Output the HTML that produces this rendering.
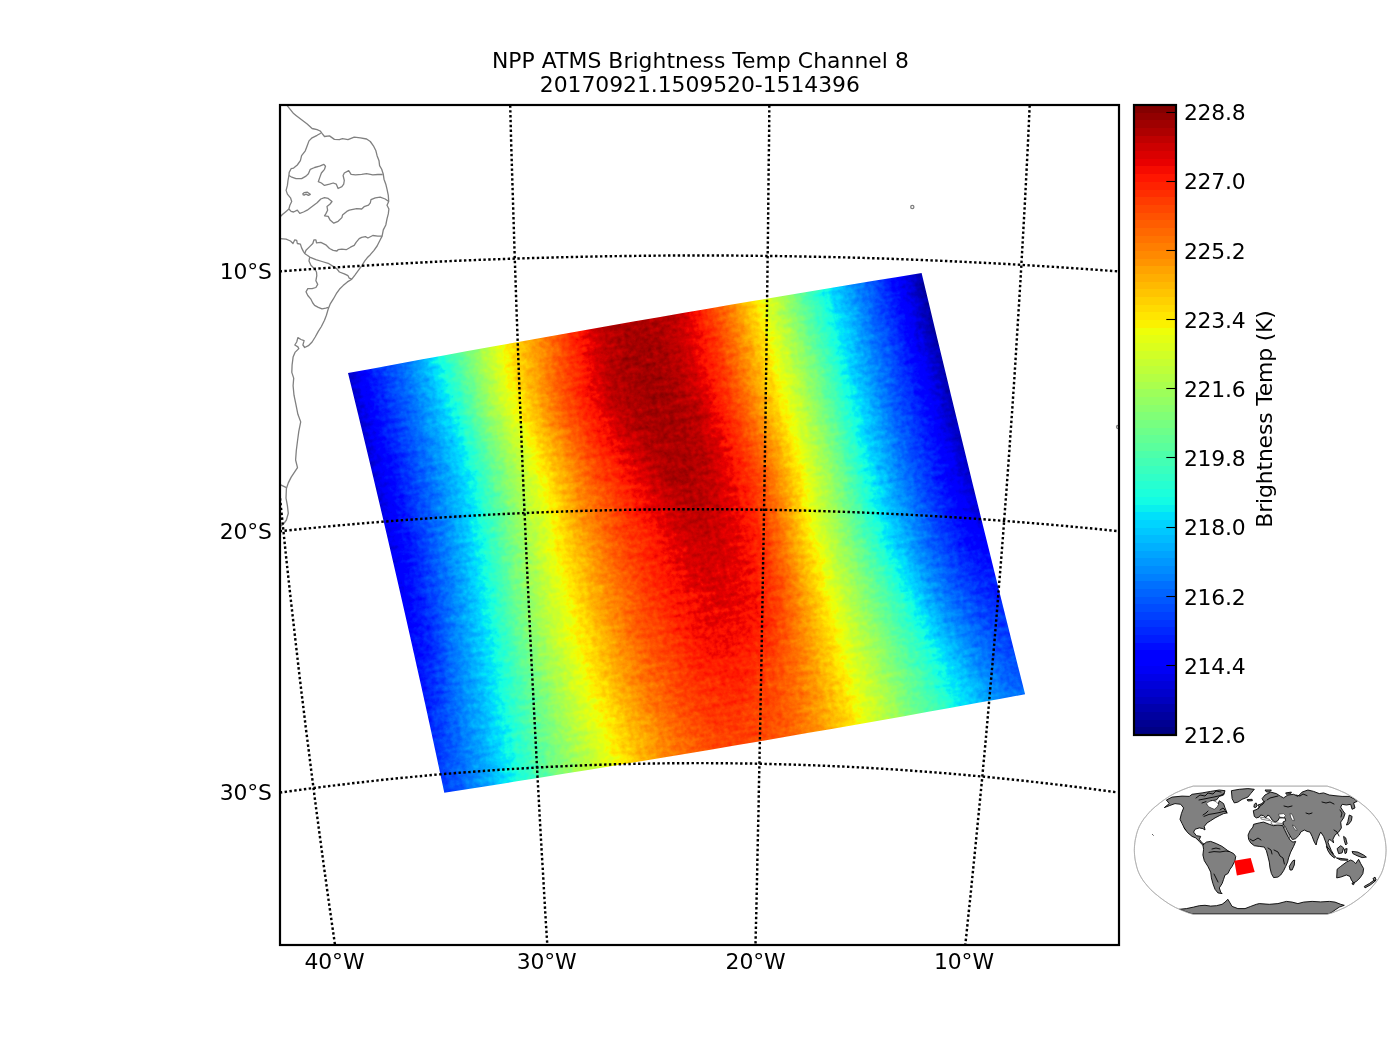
<!DOCTYPE html>
<html lang="en"><head><meta charset="utf-8"><title>NPP ATMS Brightness Temp Channel 8</title>
<style>html,body{margin:0;padding:0;background:#fff;overflow:hidden}svg{display:block}text{font-family:"DejaVu Sans","Liberation Sans",sans-serif;font-size:21.875px;fill:#000}</style></head><body>
<svg width="1400" height="1050" viewBox="0 0 1400 1050">
<defs>
<clipPath id="ax"><rect x="280" y="105" width="839" height="840"/></clipPath>
<clipPath id="sw"><path shape-rendering="crispEdges" d="M348.00,373.10 L371.90,368.66 L395.80,364.24 L419.70,359.84 L443.60,355.47 L467.50,351.12 L491.40,346.80 L515.30,342.50 L539.20,338.22 L563.10,333.97 L587.00,329.74 L610.90,325.53 L634.80,321.35 L658.70,317.19 L682.60,313.06 L706.50,308.94 L730.40,304.86 L754.30,300.79 L778.20,296.75 L802.10,292.73 L826.00,288.74 L849.90,284.77 L873.80,280.82 L897.70,276.90 L921.60,273.00 L925.80,290.55 L930.01,308.11 L934.23,325.66 L938.46,343.22 L942.70,360.77 L946.95,378.32 L951.21,395.88 L955.48,413.43 L959.76,430.99 L964.04,448.54 L968.34,466.10 L972.65,483.65 L976.97,501.20 L981.29,518.76 L985.63,536.31 L989.98,553.87 L994.33,571.42 L998.70,588.97 L1003.08,606.53 L1007.46,624.08 L1011.86,641.64 L1016.26,659.19 L1020.68,676.75 L1025.10,694.30 L1000.90,698.72 L976.70,703.12 L952.50,707.49 L928.30,711.83 L904.10,716.14 L879.90,720.42 L855.70,724.68 L831.50,728.91 L807.30,733.11 L783.10,737.29 L758.90,741.43 L734.70,745.55 L710.50,749.64 L686.30,753.70 L662.10,757.74 L637.90,761.74 L613.70,765.72 L589.50,769.67 L565.30,773.60 L541.10,777.49 L516.90,781.36 L492.70,785.20 L468.50,789.02 L444.30,792.80 L440.57,775.31 L436.82,757.82 L433.05,740.34 L429.25,722.85 L425.43,705.36 L421.58,687.87 L417.70,670.39 L413.80,652.90 L409.88,635.41 L405.92,617.92 L401.95,600.44 L397.95,582.95 L393.93,565.46 L389.88,547.97 L385.80,530.49 L381.70,513.00 L377.57,495.51 L373.43,478.03 L369.25,460.54 L365.05,443.05 L360.83,425.56 L356.57,408.07 L352.30,390.59Z"/></clipPath>
<linearGradient id="cb" x1="0" y1="0" x2="0" y2="1"><stop offset="0.00000" stop-color="#840000"/><stop offset="0.01220" stop-color="#840000"/><stop offset="0.01220" stop-color="#920000"/><stop offset="0.02439" stop-color="#920000"/><stop offset="0.02439" stop-color="#9f0000"/><stop offset="0.03659" stop-color="#9f0000"/><stop offset="0.03659" stop-color="#ad0000"/><stop offset="0.04878" stop-color="#ad0000"/><stop offset="0.04878" stop-color="#bf0000"/><stop offset="0.06098" stop-color="#bf0000"/><stop offset="0.06098" stop-color="#cd0000"/><stop offset="0.07317" stop-color="#cd0000"/><stop offset="0.07317" stop-color="#da0000"/><stop offset="0.08537" stop-color="#da0000"/><stop offset="0.08537" stop-color="#e80000"/><stop offset="0.09756" stop-color="#e80000"/><stop offset="0.09756" stop-color="#f60b00"/><stop offset="0.10976" stop-color="#f60b00"/><stop offset="0.10976" stop-color="#ff1600"/><stop offset="0.12195" stop-color="#ff1600"/><stop offset="0.12195" stop-color="#ff2200"/><stop offset="0.13415" stop-color="#ff2200"/><stop offset="0.13415" stop-color="#ff2d00"/><stop offset="0.14634" stop-color="#ff2d00"/><stop offset="0.14634" stop-color="#ff3b00"/><stop offset="0.15854" stop-color="#ff3b00"/><stop offset="0.15854" stop-color="#ff4700"/><stop offset="0.17073" stop-color="#ff4700"/><stop offset="0.17073" stop-color="#ff5200"/><stop offset="0.18293" stop-color="#ff5200"/><stop offset="0.18293" stop-color="#ff5d00"/><stop offset="0.19512" stop-color="#ff5d00"/><stop offset="0.19512" stop-color="#ff6800"/><stop offset="0.20732" stop-color="#ff6800"/><stop offset="0.20732" stop-color="#ff7300"/><stop offset="0.21951" stop-color="#ff7300"/><stop offset="0.21951" stop-color="#ff7e00"/><stop offset="0.23171" stop-color="#ff7e00"/><stop offset="0.23171" stop-color="#ff8900"/><stop offset="0.24390" stop-color="#ff8900"/><stop offset="0.24390" stop-color="#ff9400"/><stop offset="0.25610" stop-color="#ff9400"/><stop offset="0.25610" stop-color="#ffa300"/><stop offset="0.26829" stop-color="#ffa300"/><stop offset="0.26829" stop-color="#ffae00"/><stop offset="0.28049" stop-color="#ffae00"/><stop offset="0.28049" stop-color="#ffb900"/><stop offset="0.29268" stop-color="#ffb900"/><stop offset="0.29268" stop-color="#ffc400"/><stop offset="0.30488" stop-color="#ffc400"/><stop offset="0.30488" stop-color="#ffd000"/><stop offset="0.31707" stop-color="#ffd000"/><stop offset="0.31707" stop-color="#ffdb00"/><stop offset="0.32927" stop-color="#ffdb00"/><stop offset="0.32927" stop-color="#ffe600"/><stop offset="0.34146" stop-color="#ffe600"/><stop offset="0.34146" stop-color="#fbf100"/><stop offset="0.35366" stop-color="#fbf100"/><stop offset="0.35366" stop-color="#eeff09"/><stop offset="0.36585" stop-color="#eeff09"/><stop offset="0.36585" stop-color="#e4ff13"/><stop offset="0.37805" stop-color="#e4ff13"/><stop offset="0.37805" stop-color="#dbff1c"/><stop offset="0.39024" stop-color="#dbff1c"/><stop offset="0.39024" stop-color="#d1ff26"/><stop offset="0.40244" stop-color="#d1ff26"/><stop offset="0.40244" stop-color="#c7ff30"/><stop offset="0.41463" stop-color="#c7ff30"/><stop offset="0.41463" stop-color="#beff39"/><stop offset="0.42683" stop-color="#beff39"/><stop offset="0.42683" stop-color="#b4ff43"/><stop offset="0.43902" stop-color="#b4ff43"/><stop offset="0.43902" stop-color="#aaff4d"/><stop offset="0.45122" stop-color="#aaff4d"/><stop offset="0.45122" stop-color="#9dff5a"/><stop offset="0.46341" stop-color="#9dff5a"/><stop offset="0.46341" stop-color="#94ff63"/><stop offset="0.47561" stop-color="#94ff63"/><stop offset="0.47561" stop-color="#8aff6d"/><stop offset="0.48780" stop-color="#8aff6d"/><stop offset="0.48780" stop-color="#80ff77"/><stop offset="0.50000" stop-color="#80ff77"/><stop offset="0.50000" stop-color="#77ff80"/><stop offset="0.51220" stop-color="#77ff80"/><stop offset="0.51220" stop-color="#6dff8a"/><stop offset="0.52439" stop-color="#6dff8a"/><stop offset="0.52439" stop-color="#63ff94"/><stop offset="0.53659" stop-color="#63ff94"/><stop offset="0.53659" stop-color="#5aff9d"/><stop offset="0.54878" stop-color="#5aff9d"/><stop offset="0.54878" stop-color="#4dffaa"/><stop offset="0.56098" stop-color="#4dffaa"/><stop offset="0.56098" stop-color="#43ffb4"/><stop offset="0.57317" stop-color="#43ffb4"/><stop offset="0.57317" stop-color="#39ffbe"/><stop offset="0.58537" stop-color="#39ffbe"/><stop offset="0.58537" stop-color="#30ffc7"/><stop offset="0.59756" stop-color="#30ffc7"/><stop offset="0.59756" stop-color="#26ffd1"/><stop offset="0.60976" stop-color="#26ffd1"/><stop offset="0.60976" stop-color="#1cffdb"/><stop offset="0.62195" stop-color="#1cffdb"/><stop offset="0.62195" stop-color="#13fce4"/><stop offset="0.63415" stop-color="#13fce4"/><stop offset="0.63415" stop-color="#09f0ee"/><stop offset="0.64634" stop-color="#09f0ee"/><stop offset="0.64634" stop-color="#00e0fb"/><stop offset="0.65854" stop-color="#00e0fb"/><stop offset="0.65854" stop-color="#00d4ff"/><stop offset="0.67073" stop-color="#00d4ff"/><stop offset="0.67073" stop-color="#00c8ff"/><stop offset="0.68293" stop-color="#00c8ff"/><stop offset="0.68293" stop-color="#00bcff"/><stop offset="0.69512" stop-color="#00bcff"/><stop offset="0.69512" stop-color="#00b0ff"/><stop offset="0.70732" stop-color="#00b0ff"/><stop offset="0.70732" stop-color="#00a4ff"/><stop offset="0.71951" stop-color="#00a4ff"/><stop offset="0.71951" stop-color="#0098ff"/><stop offset="0.73171" stop-color="#0098ff"/><stop offset="0.73171" stop-color="#008cff"/><stop offset="0.74390" stop-color="#008cff"/><stop offset="0.74390" stop-color="#0080ff"/><stop offset="0.75610" stop-color="#0080ff"/><stop offset="0.75610" stop-color="#0070ff"/><stop offset="0.76829" stop-color="#0070ff"/><stop offset="0.76829" stop-color="#0064ff"/><stop offset="0.78049" stop-color="#0064ff"/><stop offset="0.78049" stop-color="#0058ff"/><stop offset="0.79268" stop-color="#0058ff"/><stop offset="0.79268" stop-color="#004cff"/><stop offset="0.80488" stop-color="#004cff"/><stop offset="0.80488" stop-color="#0040ff"/><stop offset="0.81707" stop-color="#0040ff"/><stop offset="0.81707" stop-color="#0034ff"/><stop offset="0.82927" stop-color="#0034ff"/><stop offset="0.82927" stop-color="#0028ff"/><stop offset="0.84146" stop-color="#0028ff"/><stop offset="0.84146" stop-color="#001cff"/><stop offset="0.85366" stop-color="#001cff"/><stop offset="0.85366" stop-color="#000cff"/><stop offset="0.86585" stop-color="#000cff"/><stop offset="0.86585" stop-color="#0000ff"/><stop offset="0.87805" stop-color="#0000ff"/><stop offset="0.87805" stop-color="#0000ff"/><stop offset="0.89024" stop-color="#0000ff"/><stop offset="0.89024" stop-color="#0000f6"/><stop offset="0.90244" stop-color="#0000f6"/><stop offset="0.90244" stop-color="#0000e8"/><stop offset="0.91463" stop-color="#0000e8"/><stop offset="0.91463" stop-color="#0000da"/><stop offset="0.92683" stop-color="#0000da"/><stop offset="0.92683" stop-color="#0000cd"/><stop offset="0.93902" stop-color="#0000cd"/><stop offset="0.93902" stop-color="#0000bf"/><stop offset="0.95122" stop-color="#0000bf"/><stop offset="0.95122" stop-color="#0000ad"/><stop offset="0.96341" stop-color="#0000ad"/><stop offset="0.96341" stop-color="#00009f"/><stop offset="0.97561" stop-color="#00009f"/><stop offset="0.97561" stop-color="#000092"/><stop offset="0.98780" stop-color="#000092"/><stop offset="0.98780" stop-color="#000084"/><stop offset="1.00000" stop-color="#000084"/></linearGradient>
<linearGradient id="g0" gradientUnits="userSpaceOnUse" x1="0" y1="0" x2="1" y2="0" gradientTransform="matrix(573.733 -100.166 102.282 424.200 343.702 355.722)"><stop offset="0" stop-color="#111111"/><stop offset="0.03125" stop-color="#222222"/><stop offset="0.0625" stop-color="#2f2f2f"/><stop offset="0.09375" stop-color="#3b3b3b"/><stop offset="0.125" stop-color="#4a4a4a"/><stop offset="0.1562" stop-color="#5c5c5c"/><stop offset="0.1875" stop-color="#6f6f6f"/><stop offset="0.2188" stop-color="#848484"/><stop offset="0.25" stop-color="#989898"/><stop offset="0.2812" stop-color="#aaaaaa"/><stop offset="0.3125" stop-color="#b8b8b8"/><stop offset="0.3438" stop-color="#c6c6c6"/><stop offset="0.375" stop-color="#d6d6d6"/><stop offset="0.4062" stop-color="#e3e3e3"/><stop offset="0.4375" stop-color="#f0f0f0"/><stop offset="0.4688" stop-color="#f5f5f5"/><stop offset="0.5" stop-color="#f7f7f7"/><stop offset="0.5312" stop-color="#f6f6f6"/><stop offset="0.5625" stop-color="#f1f1f1"/><stop offset="0.5938" stop-color="#e8e8e8"/><stop offset="0.625" stop-color="#dbdbdb"/><stop offset="0.6562" stop-color="#cccccc"/><stop offset="0.6875" stop-color="#bababa"/><stop offset="0.7188" stop-color="#a6a6a6"/><stop offset="0.75" stop-color="#919191"/><stop offset="0.7812" stop-color="#7d7d7d"/><stop offset="0.8125" stop-color="#696969"/><stop offset="0.8438" stop-color="#575757"/><stop offset="0.875" stop-color="#474747"/><stop offset="0.9062" stop-color="#383838"/><stop offset="0.9375" stop-color="#292929"/><stop offset="0.9688" stop-color="#191919"/><stop offset="1" stop-color="#070707"/></linearGradient>
<linearGradient id="g1" gradientUnits="userSpaceOnUse" x1="0" y1="0" x2="1" y2="0" gradientTransform="matrix(573.674 -100.139 102.207 424.200 345.489 362.935)"><stop offset="0" stop-color="#111111"/><stop offset="0.03125" stop-color="#222222"/><stop offset="0.0625" stop-color="#2f2f2f"/><stop offset="0.09375" stop-color="#3b3b3b"/><stop offset="0.125" stop-color="#4a4a4a"/><stop offset="0.1562" stop-color="#5c5c5c"/><stop offset="0.1875" stop-color="#6f6f6f"/><stop offset="0.2188" stop-color="#848484"/><stop offset="0.25" stop-color="#989898"/><stop offset="0.2812" stop-color="#aaaaaa"/><stop offset="0.3125" stop-color="#b8b8b8"/><stop offset="0.3438" stop-color="#c6c6c6"/><stop offset="0.375" stop-color="#d6d6d6"/><stop offset="0.4062" stop-color="#e3e3e3"/><stop offset="0.4375" stop-color="#f0f0f0"/><stop offset="0.4688" stop-color="#f5f5f5"/><stop offset="0.5" stop-color="#f7f7f7"/><stop offset="0.5312" stop-color="#f6f6f6"/><stop offset="0.5625" stop-color="#f1f1f1"/><stop offset="0.5938" stop-color="#e8e8e8"/><stop offset="0.625" stop-color="#dbdbdb"/><stop offset="0.6562" stop-color="#cccccc"/><stop offset="0.6875" stop-color="#bababa"/><stop offset="0.7188" stop-color="#a6a6a6"/><stop offset="0.75" stop-color="#919191"/><stop offset="0.7812" stop-color="#7d7d7d"/><stop offset="0.8125" stop-color="#696969"/><stop offset="0.8438" stop-color="#575757"/><stop offset="0.875" stop-color="#474747"/><stop offset="0.9062" stop-color="#383838"/><stop offset="0.9375" stop-color="#292929"/><stop offset="0.9688" stop-color="#191919"/><stop offset="1" stop-color="#070707"/></linearGradient>
<linearGradient id="g2" gradientUnits="userSpaceOnUse" x1="0" y1="0" x2="1" y2="0" gradientTransform="matrix(573.620 -100.111 102.131 424.200 347.272 370.149)"><stop offset="0" stop-color="#111111"/><stop offset="0.03125" stop-color="#222222"/><stop offset="0.0625" stop-color="#2f2f2f"/><stop offset="0.09375" stop-color="#3b3b3b"/><stop offset="0.125" stop-color="#4a4a4a"/><stop offset="0.1562" stop-color="#5c5c5c"/><stop offset="0.1875" stop-color="#6f6f6f"/><stop offset="0.2188" stop-color="#848484"/><stop offset="0.25" stop-color="#989898"/><stop offset="0.2812" stop-color="#aaaaaa"/><stop offset="0.3125" stop-color="#b8b8b8"/><stop offset="0.3438" stop-color="#c6c6c6"/><stop offset="0.375" stop-color="#d6d6d6"/><stop offset="0.4062" stop-color="#e3e3e3"/><stop offset="0.4375" stop-color="#f0f0f0"/><stop offset="0.4688" stop-color="#f5f5f5"/><stop offset="0.5" stop-color="#f7f7f7"/><stop offset="0.5312" stop-color="#f6f6f6"/><stop offset="0.5625" stop-color="#f1f1f1"/><stop offset="0.5938" stop-color="#e8e8e8"/><stop offset="0.625" stop-color="#dbdbdb"/><stop offset="0.6562" stop-color="#cccccc"/><stop offset="0.6875" stop-color="#bababa"/><stop offset="0.7188" stop-color="#a6a6a6"/><stop offset="0.75" stop-color="#919191"/><stop offset="0.7812" stop-color="#7d7d7d"/><stop offset="0.8125" stop-color="#696969"/><stop offset="0.8438" stop-color="#575757"/><stop offset="0.875" stop-color="#474747"/><stop offset="0.9062" stop-color="#383838"/><stop offset="0.9375" stop-color="#292929"/><stop offset="0.9688" stop-color="#191919"/><stop offset="1" stop-color="#070707"/></linearGradient>
<linearGradient id="g3" gradientUnits="userSpaceOnUse" x1="0" y1="0" x2="1" y2="0" gradientTransform="matrix(573.573 -100.084 102.055 424.200 349.050 377.363)"><stop offset="0" stop-color="#111111"/><stop offset="0.03125" stop-color="#222222"/><stop offset="0.0625" stop-color="#2f2f2f"/><stop offset="0.09375" stop-color="#3b3b3b"/><stop offset="0.125" stop-color="#4a4a4a"/><stop offset="0.1562" stop-color="#5c5c5c"/><stop offset="0.1875" stop-color="#6f6f6f"/><stop offset="0.2188" stop-color="#848484"/><stop offset="0.25" stop-color="#989898"/><stop offset="0.2812" stop-color="#aaaaaa"/><stop offset="0.3125" stop-color="#b8b8b8"/><stop offset="0.3438" stop-color="#c6c6c6"/><stop offset="0.375" stop-color="#d6d6d6"/><stop offset="0.4062" stop-color="#e3e3e3"/><stop offset="0.4375" stop-color="#f0f0f0"/><stop offset="0.4688" stop-color="#f5f5f5"/><stop offset="0.5" stop-color="#f7f7f7"/><stop offset="0.5312" stop-color="#f6f6f6"/><stop offset="0.5625" stop-color="#f1f1f1"/><stop offset="0.5938" stop-color="#e8e8e8"/><stop offset="0.625" stop-color="#dbdbdb"/><stop offset="0.6562" stop-color="#cccccc"/><stop offset="0.6875" stop-color="#bababa"/><stop offset="0.7188" stop-color="#a6a6a6"/><stop offset="0.75" stop-color="#919191"/><stop offset="0.7812" stop-color="#7d7d7d"/><stop offset="0.8125" stop-color="#696969"/><stop offset="0.8438" stop-color="#575757"/><stop offset="0.875" stop-color="#474747"/><stop offset="0.9062" stop-color="#383838"/><stop offset="0.9375" stop-color="#292929"/><stop offset="0.9688" stop-color="#191919"/><stop offset="1" stop-color="#070707"/></linearGradient>
<linearGradient id="g4" gradientUnits="userSpaceOnUse" x1="0" y1="0" x2="1" y2="0" gradientTransform="matrix(573.531 -100.056 101.980 424.200 350.825 384.576)"><stop offset="0" stop-color="#121212"/><stop offset="0.03125" stop-color="#222222"/><stop offset="0.0625" stop-color="#2f2f2f"/><stop offset="0.09375" stop-color="#3b3b3b"/><stop offset="0.125" stop-color="#4a4a4a"/><stop offset="0.1562" stop-color="#5c5c5c"/><stop offset="0.1875" stop-color="#707070"/><stop offset="0.2188" stop-color="#848484"/><stop offset="0.25" stop-color="#999999"/><stop offset="0.2812" stop-color="#ababab"/><stop offset="0.3125" stop-color="#b9b9b9"/><stop offset="0.3438" stop-color="#c7c7c7"/><stop offset="0.375" stop-color="#d7d7d7"/><stop offset="0.4062" stop-color="#e3e3e3"/><stop offset="0.4375" stop-color="#f0f0f0"/><stop offset="0.4688" stop-color="#f5f5f5"/><stop offset="0.5" stop-color="#f7f7f7"/><stop offset="0.5312" stop-color="#f6f6f6"/><stop offset="0.5625" stop-color="#f1f1f1"/><stop offset="0.5938" stop-color="#e8e8e8"/><stop offset="0.625" stop-color="#dbdbdb"/><stop offset="0.6562" stop-color="#cccccc"/><stop offset="0.6875" stop-color="#bababa"/><stop offset="0.7188" stop-color="#a5a5a5"/><stop offset="0.75" stop-color="#919191"/><stop offset="0.7812" stop-color="#7d7d7d"/><stop offset="0.8125" stop-color="#696969"/><stop offset="0.8438" stop-color="#575757"/><stop offset="0.875" stop-color="#474747"/><stop offset="0.9062" stop-color="#383838"/><stop offset="0.9375" stop-color="#292929"/><stop offset="0.9688" stop-color="#191919"/><stop offset="1" stop-color="#070707"/></linearGradient>
<linearGradient id="g5" gradientUnits="userSpaceOnUse" x1="0" y1="0" x2="1" y2="0" gradientTransform="matrix(573.495 -100.029 101.904 424.200 352.595 391.790)"><stop offset="0" stop-color="#121212"/><stop offset="0.03125" stop-color="#222222"/><stop offset="0.0625" stop-color="#2f2f2f"/><stop offset="0.09375" stop-color="#3b3b3b"/><stop offset="0.125" stop-color="#4a4a4a"/><stop offset="0.1562" stop-color="#5c5c5c"/><stop offset="0.1875" stop-color="#707070"/><stop offset="0.2188" stop-color="#858585"/><stop offset="0.25" stop-color="#999999"/><stop offset="0.2812" stop-color="#ababab"/><stop offset="0.3125" stop-color="#b9b9b9"/><stop offset="0.3438" stop-color="#c8c8c8"/><stop offset="0.375" stop-color="#d7d7d7"/><stop offset="0.4062" stop-color="#e4e4e4"/><stop offset="0.4375" stop-color="#f0f0f0"/><stop offset="0.4688" stop-color="#f5f5f5"/><stop offset="0.5" stop-color="#f7f7f7"/><stop offset="0.5312" stop-color="#f6f6f6"/><stop offset="0.5625" stop-color="#f1f1f1"/><stop offset="0.5938" stop-color="#e8e8e8"/><stop offset="0.625" stop-color="#dbdbdb"/><stop offset="0.6562" stop-color="#cccccc"/><stop offset="0.6875" stop-color="#b9b9b9"/><stop offset="0.7188" stop-color="#a5a5a5"/><stop offset="0.75" stop-color="#919191"/><stop offset="0.7812" stop-color="#7d7d7d"/><stop offset="0.8125" stop-color="#6a6a6a"/><stop offset="0.8438" stop-color="#575757"/><stop offset="0.875" stop-color="#474747"/><stop offset="0.9062" stop-color="#383838"/><stop offset="0.9375" stop-color="#292929"/><stop offset="0.9688" stop-color="#191919"/><stop offset="1" stop-color="#070707"/></linearGradient>
<linearGradient id="g6" gradientUnits="userSpaceOnUse" x1="0" y1="0" x2="1" y2="0" gradientTransform="matrix(573.465 -100.001 101.828 424.200 354.360 399.003)"><stop offset="0" stop-color="#121212"/><stop offset="0.03125" stop-color="#222222"/><stop offset="0.0625" stop-color="#2f2f2f"/><stop offset="0.09375" stop-color="#3b3b3b"/><stop offset="0.125" stop-color="#4a4a4a"/><stop offset="0.1562" stop-color="#5c5c5c"/><stop offset="0.1875" stop-color="#707070"/><stop offset="0.2188" stop-color="#858585"/><stop offset="0.25" stop-color="#9a9a9a"/><stop offset="0.2812" stop-color="#acacac"/><stop offset="0.3125" stop-color="#bababa"/><stop offset="0.3438" stop-color="#c9c9c9"/><stop offset="0.375" stop-color="#d8d8d8"/><stop offset="0.4062" stop-color="#e5e5e5"/><stop offset="0.4375" stop-color="#f1f1f1"/><stop offset="0.4688" stop-color="#f6f6f6"/><stop offset="0.5" stop-color="#f7f7f7"/><stop offset="0.5312" stop-color="#f6f6f6"/><stop offset="0.5625" stop-color="#f1f1f1"/><stop offset="0.5938" stop-color="#e8e8e8"/><stop offset="0.625" stop-color="#dbdbdb"/><stop offset="0.6562" stop-color="#cbcbcb"/><stop offset="0.6875" stop-color="#b9b9b9"/><stop offset="0.7188" stop-color="#a5a5a5"/><stop offset="0.75" stop-color="#919191"/><stop offset="0.7812" stop-color="#7d7d7d"/><stop offset="0.8125" stop-color="#6a6a6a"/><stop offset="0.8438" stop-color="#575757"/><stop offset="0.875" stop-color="#474747"/><stop offset="0.9062" stop-color="#383838"/><stop offset="0.9375" stop-color="#292929"/><stop offset="0.9688" stop-color="#191919"/><stop offset="1" stop-color="#080808"/></linearGradient>
<linearGradient id="g7" gradientUnits="userSpaceOnUse" x1="0" y1="0" x2="1" y2="0" gradientTransform="matrix(573.441 -99.974 101.753 424.200 356.122 406.217)"><stop offset="0" stop-color="#121212"/><stop offset="0.03125" stop-color="#222222"/><stop offset="0.0625" stop-color="#2f2f2f"/><stop offset="0.09375" stop-color="#3b3b3b"/><stop offset="0.125" stop-color="#4a4a4a"/><stop offset="0.1562" stop-color="#5c5c5c"/><stop offset="0.1875" stop-color="#707070"/><stop offset="0.2188" stop-color="#858585"/><stop offset="0.25" stop-color="#9a9a9a"/><stop offset="0.2812" stop-color="#acacac"/><stop offset="0.3125" stop-color="#bbbbbb"/><stop offset="0.3438" stop-color="#cacaca"/><stop offset="0.375" stop-color="#d9d9d9"/><stop offset="0.4062" stop-color="#e6e6e6"/><stop offset="0.4375" stop-color="#f1f1f1"/><stop offset="0.4688" stop-color="#f6f6f6"/><stop offset="0.5" stop-color="#f7f7f7"/><stop offset="0.5312" stop-color="#f6f6f6"/><stop offset="0.5625" stop-color="#f1f1f1"/><stop offset="0.5938" stop-color="#e8e8e8"/><stop offset="0.625" stop-color="#dbdbdb"/><stop offset="0.6562" stop-color="#cbcbcb"/><stop offset="0.6875" stop-color="#b9b9b9"/><stop offset="0.7188" stop-color="#a5a5a5"/><stop offset="0.75" stop-color="#919191"/><stop offset="0.7812" stop-color="#7e7e7e"/><stop offset="0.8125" stop-color="#6a6a6a"/><stop offset="0.8438" stop-color="#575757"/><stop offset="0.875" stop-color="#474747"/><stop offset="0.9062" stop-color="#383838"/><stop offset="0.9375" stop-color="#292929"/><stop offset="0.9688" stop-color="#191919"/><stop offset="1" stop-color="#080808"/></linearGradient>
<linearGradient id="g8" gradientUnits="userSpaceOnUse" x1="0" y1="0" x2="1" y2="0" gradientTransform="matrix(573.423 -99.946 101.677 424.200 357.879 413.431)"><stop offset="0" stop-color="#121212"/><stop offset="0.03125" stop-color="#222222"/><stop offset="0.0625" stop-color="#2f2f2f"/><stop offset="0.09375" stop-color="#3b3b3b"/><stop offset="0.125" stop-color="#4a4a4a"/><stop offset="0.1562" stop-color="#5b5b5b"/><stop offset="0.1875" stop-color="#707070"/><stop offset="0.2188" stop-color="#858585"/><stop offset="0.25" stop-color="#9b9b9b"/><stop offset="0.2812" stop-color="#adadad"/><stop offset="0.3125" stop-color="#bcbcbc"/><stop offset="0.3438" stop-color="#cccccc"/><stop offset="0.375" stop-color="#dadada"/><stop offset="0.4062" stop-color="#e6e6e6"/><stop offset="0.4375" stop-color="#f1f1f1"/><stop offset="0.4688" stop-color="#f6f6f6"/><stop offset="0.5" stop-color="#f7f7f7"/><stop offset="0.5312" stop-color="#f6f6f6"/><stop offset="0.5625" stop-color="#f1f1f1"/><stop offset="0.5938" stop-color="#e7e7e7"/><stop offset="0.625" stop-color="#dbdbdb"/><stop offset="0.6562" stop-color="#cbcbcb"/><stop offset="0.6875" stop-color="#b9b9b9"/><stop offset="0.7188" stop-color="#a5a5a5"/><stop offset="0.75" stop-color="#919191"/><stop offset="0.7812" stop-color="#7e7e7e"/><stop offset="0.8125" stop-color="#6a6a6a"/><stop offset="0.8438" stop-color="#575757"/><stop offset="0.875" stop-color="#474747"/><stop offset="0.9062" stop-color="#373737"/><stop offset="0.9375" stop-color="#292929"/><stop offset="0.9688" stop-color="#191919"/><stop offset="1" stop-color="#080808"/></linearGradient>
<linearGradient id="g9" gradientUnits="userSpaceOnUse" x1="0" y1="0" x2="1" y2="0" gradientTransform="matrix(573.411 -99.919 101.602 424.200 359.632 420.644)"><stop offset="0" stop-color="#121212"/><stop offset="0.03125" stop-color="#222222"/><stop offset="0.0625" stop-color="#2f2f2f"/><stop offset="0.09375" stop-color="#3b3b3b"/><stop offset="0.125" stop-color="#4a4a4a"/><stop offset="0.1562" stop-color="#5b5b5b"/><stop offset="0.1875" stop-color="#707070"/><stop offset="0.2188" stop-color="#858585"/><stop offset="0.25" stop-color="#9b9b9b"/><stop offset="0.2812" stop-color="#adadad"/><stop offset="0.3125" stop-color="#bdbdbd"/><stop offset="0.3438" stop-color="#cdcdcd"/><stop offset="0.375" stop-color="#dbdbdb"/><stop offset="0.4062" stop-color="#e7e7e7"/><stop offset="0.4375" stop-color="#f2f2f2"/><stop offset="0.4688" stop-color="#f6f6f6"/><stop offset="0.5" stop-color="#f7f7f7"/><stop offset="0.5312" stop-color="#f6f6f6"/><stop offset="0.5625" stop-color="#f2f2f2"/><stop offset="0.5938" stop-color="#e7e7e7"/><stop offset="0.625" stop-color="#dbdbdb"/><stop offset="0.6562" stop-color="#cbcbcb"/><stop offset="0.6875" stop-color="#b8b8b8"/><stop offset="0.7188" stop-color="#a5a5a5"/><stop offset="0.75" stop-color="#919191"/><stop offset="0.7812" stop-color="#7e7e7e"/><stop offset="0.8125" stop-color="#6a6a6a"/><stop offset="0.8438" stop-color="#575757"/><stop offset="0.875" stop-color="#474747"/><stop offset="0.9062" stop-color="#373737"/><stop offset="0.9375" stop-color="#292929"/><stop offset="0.9688" stop-color="#191919"/><stop offset="1" stop-color="#080808"/></linearGradient>
<linearGradient id="g10" gradientUnits="userSpaceOnUse" x1="0" y1="0" x2="1" y2="0" gradientTransform="matrix(573.405 -99.891 101.526 424.200 361.381 427.858)"><stop offset="0" stop-color="#121212"/><stop offset="0.03125" stop-color="#222222"/><stop offset="0.0625" stop-color="#2f2f2f"/><stop offset="0.09375" stop-color="#3b3b3b"/><stop offset="0.125" stop-color="#494949"/><stop offset="0.1562" stop-color="#5b5b5b"/><stop offset="0.1875" stop-color="#6f6f6f"/><stop offset="0.2188" stop-color="#858585"/><stop offset="0.25" stop-color="#9b9b9b"/><stop offset="0.2812" stop-color="#adadad"/><stop offset="0.3125" stop-color="#bdbdbd"/><stop offset="0.3438" stop-color="#cdcdcd"/><stop offset="0.375" stop-color="#dcdcdc"/><stop offset="0.4062" stop-color="#e8e8e8"/><stop offset="0.4375" stop-color="#f2f2f2"/><stop offset="0.4688" stop-color="#f6f6f6"/><stop offset="0.5" stop-color="#f7f7f7"/><stop offset="0.5312" stop-color="#f6f6f6"/><stop offset="0.5625" stop-color="#f2f2f2"/><stop offset="0.5938" stop-color="#e7e7e7"/><stop offset="0.625" stop-color="#dbdbdb"/><stop offset="0.6562" stop-color="#cbcbcb"/><stop offset="0.6875" stop-color="#b8b8b8"/><stop offset="0.7188" stop-color="#a5a5a5"/><stop offset="0.75" stop-color="#929292"/><stop offset="0.7812" stop-color="#7e7e7e"/><stop offset="0.8125" stop-color="#6a6a6a"/><stop offset="0.8438" stop-color="#575757"/><stop offset="0.875" stop-color="#464646"/><stop offset="0.9062" stop-color="#373737"/><stop offset="0.9375" stop-color="#292929"/><stop offset="0.9688" stop-color="#191919"/><stop offset="1" stop-color="#080808"/></linearGradient>
<linearGradient id="g11" gradientUnits="userSpaceOnUse" x1="0" y1="0" x2="1" y2="0" gradientTransform="matrix(573.405 -99.864 101.450 424.200 363.125 435.071)"><stop offset="0" stop-color="#131313"/><stop offset="0.03125" stop-color="#222222"/><stop offset="0.0625" stop-color="#2f2f2f"/><stop offset="0.09375" stop-color="#3b3b3b"/><stop offset="0.125" stop-color="#494949"/><stop offset="0.1562" stop-color="#5b5b5b"/><stop offset="0.1875" stop-color="#6f6f6f"/><stop offset="0.2188" stop-color="#858585"/><stop offset="0.25" stop-color="#9a9a9a"/><stop offset="0.2812" stop-color="#adadad"/><stop offset="0.3125" stop-color="#bdbdbd"/><stop offset="0.3438" stop-color="#cecece"/><stop offset="0.375" stop-color="#dcdcdc"/><stop offset="0.4062" stop-color="#e8e8e8"/><stop offset="0.4375" stop-color="#f2f2f2"/><stop offset="0.4688" stop-color="#f6f6f6"/><stop offset="0.5" stop-color="#f7f7f7"/><stop offset="0.5312" stop-color="#f6f6f6"/><stop offset="0.5625" stop-color="#f2f2f2"/><stop offset="0.5938" stop-color="#e7e7e7"/><stop offset="0.625" stop-color="#dadada"/><stop offset="0.6562" stop-color="#cacaca"/><stop offset="0.6875" stop-color="#b8b8b8"/><stop offset="0.7188" stop-color="#a4a4a4"/><stop offset="0.75" stop-color="#929292"/><stop offset="0.7812" stop-color="#7e7e7e"/><stop offset="0.8125" stop-color="#6a6a6a"/><stop offset="0.8438" stop-color="#575757"/><stop offset="0.875" stop-color="#464646"/><stop offset="0.9062" stop-color="#373737"/><stop offset="0.9375" stop-color="#292929"/><stop offset="0.9688" stop-color="#191919"/><stop offset="1" stop-color="#080808"/></linearGradient>
<linearGradient id="g12" gradientUnits="userSpaceOnUse" x1="0" y1="0" x2="1" y2="0" gradientTransform="matrix(573.410 -99.836 101.375 424.200 364.866 442.285)"><stop offset="0" stop-color="#131313"/><stop offset="0.03125" stop-color="#222222"/><stop offset="0.0625" stop-color="#2f2f2f"/><stop offset="0.09375" stop-color="#3b3b3b"/><stop offset="0.125" stop-color="#494949"/><stop offset="0.1562" stop-color="#5a5a5a"/><stop offset="0.1875" stop-color="#6f6f6f"/><stop offset="0.2188" stop-color="#848484"/><stop offset="0.25" stop-color="#999999"/><stop offset="0.2812" stop-color="#acacac"/><stop offset="0.3125" stop-color="#bdbdbd"/><stop offset="0.3438" stop-color="#cecece"/><stop offset="0.375" stop-color="#dcdcdc"/><stop offset="0.4062" stop-color="#e8e8e8"/><stop offset="0.4375" stop-color="#f2f2f2"/><stop offset="0.4688" stop-color="#f6f6f6"/><stop offset="0.5" stop-color="#f7f7f7"/><stop offset="0.5312" stop-color="#f6f6f6"/><stop offset="0.5625" stop-color="#f2f2f2"/><stop offset="0.5938" stop-color="#e8e8e8"/><stop offset="0.625" stop-color="#dadada"/><stop offset="0.6562" stop-color="#cacaca"/><stop offset="0.6875" stop-color="#b8b8b8"/><stop offset="0.7188" stop-color="#a4a4a4"/><stop offset="0.75" stop-color="#929292"/><stop offset="0.7812" stop-color="#7f7f7f"/><stop offset="0.8125" stop-color="#6a6a6a"/><stop offset="0.8438" stop-color="#575757"/><stop offset="0.875" stop-color="#464646"/><stop offset="0.9062" stop-color="#373737"/><stop offset="0.9375" stop-color="#292929"/><stop offset="0.9688" stop-color="#1a1a1a"/><stop offset="1" stop-color="#090909"/></linearGradient>
<linearGradient id="g13" gradientUnits="userSpaceOnUse" x1="0" y1="0" x2="1" y2="0" gradientTransform="matrix(573.422 -99.809 101.299 424.200 366.602 449.499)"><stop offset="0" stop-color="#131313"/><stop offset="0.03125" stop-color="#222222"/><stop offset="0.0625" stop-color="#2f2f2f"/><stop offset="0.09375" stop-color="#3b3b3b"/><stop offset="0.125" stop-color="#494949"/><stop offset="0.1562" stop-color="#5a5a5a"/><stop offset="0.1875" stop-color="#6e6e6e"/><stop offset="0.2188" stop-color="#848484"/><stop offset="0.25" stop-color="#989898"/><stop offset="0.2812" stop-color="#ababab"/><stop offset="0.3125" stop-color="#bdbdbd"/><stop offset="0.3438" stop-color="#cecece"/><stop offset="0.375" stop-color="#dbdbdb"/><stop offset="0.4062" stop-color="#e7e7e7"/><stop offset="0.4375" stop-color="#f1f1f1"/><stop offset="0.4688" stop-color="#f6f6f6"/><stop offset="0.5" stop-color="#f7f7f7"/><stop offset="0.5312" stop-color="#f6f6f6"/><stop offset="0.5625" stop-color="#f2f2f2"/><stop offset="0.5938" stop-color="#e8e8e8"/><stop offset="0.625" stop-color="#dadada"/><stop offset="0.6562" stop-color="#cacaca"/><stop offset="0.6875" stop-color="#b8b8b8"/><stop offset="0.7188" stop-color="#a4a4a4"/><stop offset="0.75" stop-color="#929292"/><stop offset="0.7812" stop-color="#7f7f7f"/><stop offset="0.8125" stop-color="#6a6a6a"/><stop offset="0.8438" stop-color="#575757"/><stop offset="0.875" stop-color="#464646"/><stop offset="0.9062" stop-color="#373737"/><stop offset="0.9375" stop-color="#292929"/><stop offset="0.9688" stop-color="#1a1a1a"/><stop offset="1" stop-color="#090909"/></linearGradient>
<linearGradient id="g14" gradientUnits="userSpaceOnUse" x1="0" y1="0" x2="1" y2="0" gradientTransform="matrix(573.439 -99.781 101.223 424.200 368.333 456.712)"><stop offset="0" stop-color="#131313"/><stop offset="0.03125" stop-color="#222222"/><stop offset="0.0625" stop-color="#2f2f2f"/><stop offset="0.09375" stop-color="#3b3b3b"/><stop offset="0.125" stop-color="#494949"/><stop offset="0.1562" stop-color="#595959"/><stop offset="0.1875" stop-color="#6d6d6d"/><stop offset="0.2188" stop-color="#838383"/><stop offset="0.25" stop-color="#979797"/><stop offset="0.2812" stop-color="#aaaaaa"/><stop offset="0.3125" stop-color="#bcbcbc"/><stop offset="0.3438" stop-color="#cdcdcd"/><stop offset="0.375" stop-color="#dbdbdb"/><stop offset="0.4062" stop-color="#e6e6e6"/><stop offset="0.4375" stop-color="#f1f1f1"/><stop offset="0.4688" stop-color="#f5f5f5"/><stop offset="0.5" stop-color="#f7f7f7"/><stop offset="0.5312" stop-color="#f6f6f6"/><stop offset="0.5625" stop-color="#f2f2f2"/><stop offset="0.5938" stop-color="#e8e8e8"/><stop offset="0.625" stop-color="#dbdbdb"/><stop offset="0.6562" stop-color="#cacaca"/><stop offset="0.6875" stop-color="#b7b7b7"/><stop offset="0.7188" stop-color="#a4a4a4"/><stop offset="0.75" stop-color="#929292"/><stop offset="0.7812" stop-color="#7f7f7f"/><stop offset="0.8125" stop-color="#6a6a6a"/><stop offset="0.8438" stop-color="#565656"/><stop offset="0.875" stop-color="#464646"/><stop offset="0.9062" stop-color="#373737"/><stop offset="0.9375" stop-color="#292929"/><stop offset="0.9688" stop-color="#1a1a1a"/><stop offset="1" stop-color="#090909"/></linearGradient>
<linearGradient id="g15" gradientUnits="userSpaceOnUse" x1="0" y1="0" x2="1" y2="0" gradientTransform="matrix(573.462 -99.754 101.148 424.200 370.061 463.926)"><stop offset="0" stop-color="#131313"/><stop offset="0.03125" stop-color="#222222"/><stop offset="0.0625" stop-color="#2f2f2f"/><stop offset="0.09375" stop-color="#3b3b3b"/><stop offset="0.125" stop-color="#494949"/><stop offset="0.1562" stop-color="#595959"/><stop offset="0.1875" stop-color="#6d6d6d"/><stop offset="0.2188" stop-color="#828282"/><stop offset="0.25" stop-color="#969696"/><stop offset="0.2812" stop-color="#a9a9a9"/><stop offset="0.3125" stop-color="#bbbbbb"/><stop offset="0.3438" stop-color="#cccccc"/><stop offset="0.375" stop-color="#dadada"/><stop offset="0.4062" stop-color="#e5e5e5"/><stop offset="0.4375" stop-color="#f0f0f0"/><stop offset="0.4688" stop-color="#f5f5f5"/><stop offset="0.5" stop-color="#f7f7f7"/><stop offset="0.5312" stop-color="#f6f6f6"/><stop offset="0.5625" stop-color="#f2f2f2"/><stop offset="0.5938" stop-color="#e8e8e8"/><stop offset="0.625" stop-color="#dbdbdb"/><stop offset="0.6562" stop-color="#cacaca"/><stop offset="0.6875" stop-color="#b7b7b7"/><stop offset="0.7188" stop-color="#a4a4a4"/><stop offset="0.75" stop-color="#929292"/><stop offset="0.7812" stop-color="#7f7f7f"/><stop offset="0.8125" stop-color="#6a6a6a"/><stop offset="0.8438" stop-color="#565656"/><stop offset="0.875" stop-color="#464646"/><stop offset="0.9062" stop-color="#373737"/><stop offset="0.9375" stop-color="#292929"/><stop offset="0.9688" stop-color="#1a1a1a"/><stop offset="1" stop-color="#090909"/></linearGradient>
<linearGradient id="g16" gradientUnits="userSpaceOnUse" x1="0" y1="0" x2="1" y2="0" gradientTransform="matrix(573.492 -99.726 101.072 424.200 371.784 471.139)"><stop offset="0" stop-color="#141414"/><stop offset="0.03125" stop-color="#222222"/><stop offset="0.0625" stop-color="#2f2f2f"/><stop offset="0.09375" stop-color="#3b3b3b"/><stop offset="0.125" stop-color="#494949"/><stop offset="0.1562" stop-color="#595959"/><stop offset="0.1875" stop-color="#6c6c6c"/><stop offset="0.2188" stop-color="#818181"/><stop offset="0.25" stop-color="#959595"/><stop offset="0.2812" stop-color="#a8a8a8"/><stop offset="0.3125" stop-color="#bababa"/><stop offset="0.3438" stop-color="#cbcbcb"/><stop offset="0.375" stop-color="#d9d9d9"/><stop offset="0.4062" stop-color="#e4e4e4"/><stop offset="0.4375" stop-color="#efefef"/><stop offset="0.4688" stop-color="#f5f5f5"/><stop offset="0.5" stop-color="#f7f7f7"/><stop offset="0.5312" stop-color="#f6f6f6"/><stop offset="0.5625" stop-color="#f2f2f2"/><stop offset="0.5938" stop-color="#e8e8e8"/><stop offset="0.625" stop-color="#dbdbdb"/><stop offset="0.6562" stop-color="#cbcbcb"/><stop offset="0.6875" stop-color="#b8b8b8"/><stop offset="0.7188" stop-color="#a4a4a4"/><stop offset="0.75" stop-color="#929292"/><stop offset="0.7812" stop-color="#7f7f7f"/><stop offset="0.8125" stop-color="#6a6a6a"/><stop offset="0.8438" stop-color="#565656"/><stop offset="0.875" stop-color="#464646"/><stop offset="0.9062" stop-color="#373737"/><stop offset="0.9375" stop-color="#292929"/><stop offset="0.9688" stop-color="#1a1a1a"/><stop offset="1" stop-color="#0a0a0a"/></linearGradient>
<linearGradient id="g17" gradientUnits="userSpaceOnUse" x1="0" y1="0" x2="1" y2="0" gradientTransform="matrix(573.527 -99.699 100.997 424.200 373.503 478.353)"><stop offset="0" stop-color="#141414"/><stop offset="0.03125" stop-color="#222222"/><stop offset="0.0625" stop-color="#2f2f2f"/><stop offset="0.09375" stop-color="#3b3b3b"/><stop offset="0.125" stop-color="#494949"/><stop offset="0.1562" stop-color="#595959"/><stop offset="0.1875" stop-color="#6c6c6c"/><stop offset="0.2188" stop-color="#818181"/><stop offset="0.25" stop-color="#949494"/><stop offset="0.2812" stop-color="#a7a7a7"/><stop offset="0.3125" stop-color="#b9b9b9"/><stop offset="0.3438" stop-color="#cacaca"/><stop offset="0.375" stop-color="#d8d8d8"/><stop offset="0.4062" stop-color="#e3e3e3"/><stop offset="0.4375" stop-color="#eeeeee"/><stop offset="0.4688" stop-color="#f4f4f4"/><stop offset="0.5" stop-color="#f7f7f7"/><stop offset="0.5312" stop-color="#f6f6f6"/><stop offset="0.5625" stop-color="#f2f2f2"/><stop offset="0.5938" stop-color="#e8e8e8"/><stop offset="0.625" stop-color="#dbdbdb"/><stop offset="0.6562" stop-color="#cbcbcb"/><stop offset="0.6875" stop-color="#b8b8b8"/><stop offset="0.7188" stop-color="#a4a4a4"/><stop offset="0.75" stop-color="#929292"/><stop offset="0.7812" stop-color="#7f7f7f"/><stop offset="0.8125" stop-color="#6a6a6a"/><stop offset="0.8438" stop-color="#565656"/><stop offset="0.875" stop-color="#454545"/><stop offset="0.9062" stop-color="#373737"/><stop offset="0.9375" stop-color="#292929"/><stop offset="0.9688" stop-color="#1a1a1a"/><stop offset="1" stop-color="#0a0a0a"/></linearGradient>
<linearGradient id="g18" gradientUnits="userSpaceOnUse" x1="0" y1="0" x2="1" y2="0" gradientTransform="matrix(573.568 -99.671 100.921 424.200 375.218 485.566)"><stop offset="0" stop-color="#141414"/><stop offset="0.03125" stop-color="#222222"/><stop offset="0.0625" stop-color="#2f2f2f"/><stop offset="0.09375" stop-color="#3b3b3b"/><stop offset="0.125" stop-color="#494949"/><stop offset="0.1562" stop-color="#595959"/><stop offset="0.1875" stop-color="#6c6c6c"/><stop offset="0.2188" stop-color="#808080"/><stop offset="0.25" stop-color="#949494"/><stop offset="0.2812" stop-color="#a6a6a6"/><stop offset="0.3125" stop-color="#b8b8b8"/><stop offset="0.3438" stop-color="#c9c9c9"/><stop offset="0.375" stop-color="#d7d7d7"/><stop offset="0.4062" stop-color="#e2e2e2"/><stop offset="0.4375" stop-color="#ededed"/><stop offset="0.4688" stop-color="#f4f4f4"/><stop offset="0.5" stop-color="#f6f6f6"/><stop offset="0.5312" stop-color="#f6f6f6"/><stop offset="0.5625" stop-color="#f2f2f2"/><stop offset="0.5938" stop-color="#e8e8e8"/><stop offset="0.625" stop-color="#dcdcdc"/><stop offset="0.6562" stop-color="#cbcbcb"/><stop offset="0.6875" stop-color="#b8b8b8"/><stop offset="0.7188" stop-color="#a5a5a5"/><stop offset="0.75" stop-color="#929292"/><stop offset="0.7812" stop-color="#7f7f7f"/><stop offset="0.8125" stop-color="#6a6a6a"/><stop offset="0.8438" stop-color="#565656"/><stop offset="0.875" stop-color="#454545"/><stop offset="0.9062" stop-color="#363636"/><stop offset="0.9375" stop-color="#292929"/><stop offset="0.9688" stop-color="#1a1a1a"/><stop offset="1" stop-color="#0a0a0a"/></linearGradient>
<linearGradient id="g19" gradientUnits="userSpaceOnUse" x1="0" y1="0" x2="1" y2="0" gradientTransform="matrix(573.615 -99.644 100.845 424.200 376.928 492.780)"><stop offset="0" stop-color="#151515"/><stop offset="0.03125" stop-color="#222222"/><stop offset="0.0625" stop-color="#2f2f2f"/><stop offset="0.09375" stop-color="#3b3b3b"/><stop offset="0.125" stop-color="#494949"/><stop offset="0.1562" stop-color="#595959"/><stop offset="0.1875" stop-color="#6c6c6c"/><stop offset="0.2188" stop-color="#808080"/><stop offset="0.25" stop-color="#939393"/><stop offset="0.2812" stop-color="#a5a5a5"/><stop offset="0.3125" stop-color="#b7b7b7"/><stop offset="0.3438" stop-color="#c8c8c8"/><stop offset="0.375" stop-color="#d6d6d6"/><stop offset="0.4062" stop-color="#e1e1e1"/><stop offset="0.4375" stop-color="#ececec"/><stop offset="0.4688" stop-color="#f3f3f3"/><stop offset="0.5" stop-color="#f6f6f6"/><stop offset="0.5312" stop-color="#f6f6f6"/><stop offset="0.5625" stop-color="#f2f2f2"/><stop offset="0.5938" stop-color="#e8e8e8"/><stop offset="0.625" stop-color="#dcdcdc"/><stop offset="0.6562" stop-color="#cccccc"/><stop offset="0.6875" stop-color="#b9b9b9"/><stop offset="0.7188" stop-color="#a5a5a5"/><stop offset="0.75" stop-color="#929292"/><stop offset="0.7812" stop-color="#7f7f7f"/><stop offset="0.8125" stop-color="#6a6a6a"/><stop offset="0.8438" stop-color="#565656"/><stop offset="0.875" stop-color="#454545"/><stop offset="0.9062" stop-color="#363636"/><stop offset="0.9375" stop-color="#292929"/><stop offset="0.9688" stop-color="#1b1b1b"/><stop offset="1" stop-color="#0b0b0b"/></linearGradient>
<linearGradient id="g20" gradientUnits="userSpaceOnUse" x1="0" y1="0" x2="1" y2="0" gradientTransform="matrix(573.668 -99.616 100.770 424.200 378.634 499.994)"><stop offset="0" stop-color="#151515"/><stop offset="0.03125" stop-color="#232323"/><stop offset="0.0625" stop-color="#2f2f2f"/><stop offset="0.09375" stop-color="#3b3b3b"/><stop offset="0.125" stop-color="#494949"/><stop offset="0.1562" stop-color="#595959"/><stop offset="0.1875" stop-color="#6c6c6c"/><stop offset="0.2188" stop-color="#808080"/><stop offset="0.25" stop-color="#939393"/><stop offset="0.2812" stop-color="#a5a5a5"/><stop offset="0.3125" stop-color="#b7b7b7"/><stop offset="0.3438" stop-color="#c7c7c7"/><stop offset="0.375" stop-color="#d5d5d5"/><stop offset="0.4062" stop-color="#e0e0e0"/><stop offset="0.4375" stop-color="#eaeaea"/><stop offset="0.4688" stop-color="#f2f2f2"/><stop offset="0.5" stop-color="#f6f6f6"/><stop offset="0.5312" stop-color="#f5f5f5"/><stop offset="0.5625" stop-color="#f1f1f1"/><stop offset="0.5938" stop-color="#e9e9e9"/><stop offset="0.625" stop-color="#dddddd"/><stop offset="0.6562" stop-color="#cccccc"/><stop offset="0.6875" stop-color="#b9b9b9"/><stop offset="0.7188" stop-color="#a5a5a5"/><stop offset="0.75" stop-color="#929292"/><stop offset="0.7812" stop-color="#7f7f7f"/><stop offset="0.8125" stop-color="#696969"/><stop offset="0.8438" stop-color="#565656"/><stop offset="0.875" stop-color="#454545"/><stop offset="0.9062" stop-color="#363636"/><stop offset="0.9375" stop-color="#292929"/><stop offset="0.9688" stop-color="#1b1b1b"/><stop offset="1" stop-color="#0b0b0b"/></linearGradient>
<linearGradient id="g21" gradientUnits="userSpaceOnUse" x1="0" y1="0" x2="1" y2="0" gradientTransform="matrix(573.726 -99.589 100.694 424.200 380.336 507.207)"><stop offset="0" stop-color="#151515"/><stop offset="0.03125" stop-color="#232323"/><stop offset="0.0625" stop-color="#303030"/><stop offset="0.09375" stop-color="#3c3c3c"/><stop offset="0.125" stop-color="#4a4a4a"/><stop offset="0.1562" stop-color="#5a5a5a"/><stop offset="0.1875" stop-color="#6d6d6d"/><stop offset="0.2188" stop-color="#808080"/><stop offset="0.25" stop-color="#939393"/><stop offset="0.2812" stop-color="#a4a4a4"/><stop offset="0.3125" stop-color="#b6b6b6"/><stop offset="0.3438" stop-color="#c6c6c6"/><stop offset="0.375" stop-color="#d4d4d4"/><stop offset="0.4062" stop-color="#dfdfdf"/><stop offset="0.4375" stop-color="#e9e9e9"/><stop offset="0.4688" stop-color="#f1f1f1"/><stop offset="0.5" stop-color="#f5f5f5"/><stop offset="0.5312" stop-color="#f5f5f5"/><stop offset="0.5625" stop-color="#f1f1f1"/><stop offset="0.5938" stop-color="#e9e9e9"/><stop offset="0.625" stop-color="#dddddd"/><stop offset="0.6562" stop-color="#cdcdcd"/><stop offset="0.6875" stop-color="#bababa"/><stop offset="0.7188" stop-color="#a6a6a6"/><stop offset="0.75" stop-color="#939393"/><stop offset="0.7812" stop-color="#7f7f7f"/><stop offset="0.8125" stop-color="#696969"/><stop offset="0.8438" stop-color="#565656"/><stop offset="0.875" stop-color="#454545"/><stop offset="0.9062" stop-color="#363636"/><stop offset="0.9375" stop-color="#292929"/><stop offset="0.9688" stop-color="#1b1b1b"/><stop offset="1" stop-color="#0b0b0b"/></linearGradient>
<linearGradient id="g22" gradientUnits="userSpaceOnUse" x1="0" y1="0" x2="1" y2="0" gradientTransform="matrix(573.791 -99.561 100.618 424.200 382.034 514.421)"><stop offset="0" stop-color="#161616"/><stop offset="0.03125" stop-color="#232323"/><stop offset="0.0625" stop-color="#303030"/><stop offset="0.09375" stop-color="#3c3c3c"/><stop offset="0.125" stop-color="#4a4a4a"/><stop offset="0.1562" stop-color="#5b5b5b"/><stop offset="0.1875" stop-color="#6d6d6d"/><stop offset="0.2188" stop-color="#818181"/><stop offset="0.25" stop-color="#939393"/><stop offset="0.2812" stop-color="#a4a4a4"/><stop offset="0.3125" stop-color="#b6b6b6"/><stop offset="0.3438" stop-color="#c6c6c6"/><stop offset="0.375" stop-color="#d3d3d3"/><stop offset="0.4062" stop-color="#dedede"/><stop offset="0.4375" stop-color="#e8e8e8"/><stop offset="0.4688" stop-color="#f0f0f0"/><stop offset="0.5" stop-color="#f5f5f5"/><stop offset="0.5312" stop-color="#f5f5f5"/><stop offset="0.5625" stop-color="#f1f1f1"/><stop offset="0.5938" stop-color="#e9e9e9"/><stop offset="0.625" stop-color="#dddddd"/><stop offset="0.6562" stop-color="#cecece"/><stop offset="0.6875" stop-color="#bababa"/><stop offset="0.7188" stop-color="#a6a6a6"/><stop offset="0.75" stop-color="#939393"/><stop offset="0.7812" stop-color="#7f7f7f"/><stop offset="0.8125" stop-color="#696969"/><stop offset="0.8438" stop-color="#555555"/><stop offset="0.875" stop-color="#454545"/><stop offset="0.9062" stop-color="#363636"/><stop offset="0.9375" stop-color="#292929"/><stop offset="0.9688" stop-color="#1b1b1b"/><stop offset="1" stop-color="#0c0c0c"/></linearGradient>
<linearGradient id="g23" gradientUnits="userSpaceOnUse" x1="0" y1="0" x2="1" y2="0" gradientTransform="matrix(573.862 -99.534 100.543 424.200 383.727 521.634)"><stop offset="0" stop-color="#161616"/><stop offset="0.03125" stop-color="#232323"/><stop offset="0.0625" stop-color="#303030"/><stop offset="0.09375" stop-color="#3d3d3d"/><stop offset="0.125" stop-color="#4b4b4b"/><stop offset="0.1562" stop-color="#5b5b5b"/><stop offset="0.1875" stop-color="#6e6e6e"/><stop offset="0.2188" stop-color="#818181"/><stop offset="0.25" stop-color="#939393"/><stop offset="0.2812" stop-color="#a4a4a4"/><stop offset="0.3125" stop-color="#b5b5b5"/><stop offset="0.3438" stop-color="#c5c5c5"/><stop offset="0.375" stop-color="#d3d3d3"/><stop offset="0.4062" stop-color="#dddddd"/><stop offset="0.4375" stop-color="#e7e7e7"/><stop offset="0.4688" stop-color="#efefef"/><stop offset="0.5" stop-color="#f4f4f4"/><stop offset="0.5312" stop-color="#f5f5f5"/><stop offset="0.5625" stop-color="#f1f1f1"/><stop offset="0.5938" stop-color="#e9e9e9"/><stop offset="0.625" stop-color="#dedede"/><stop offset="0.6562" stop-color="#cecece"/><stop offset="0.6875" stop-color="#bbbbbb"/><stop offset="0.7188" stop-color="#a6a6a6"/><stop offset="0.75" stop-color="#939393"/><stop offset="0.7812" stop-color="#7f7f7f"/><stop offset="0.8125" stop-color="#696969"/><stop offset="0.8438" stop-color="#555555"/><stop offset="0.875" stop-color="#454545"/><stop offset="0.9062" stop-color="#363636"/><stop offset="0.9375" stop-color="#292929"/><stop offset="0.9688" stop-color="#1b1b1b"/><stop offset="1" stop-color="#0c0c0c"/></linearGradient>
<linearGradient id="g24" gradientUnits="userSpaceOnUse" x1="0" y1="0" x2="1" y2="0" gradientTransform="matrix(573.938 -99.506 100.467 424.200 385.417 528.848)"><stop offset="0" stop-color="#171717"/><stop offset="0.03125" stop-color="#242424"/><stop offset="0.0625" stop-color="#303030"/><stop offset="0.09375" stop-color="#3d3d3d"/><stop offset="0.125" stop-color="#4c4c4c"/><stop offset="0.1562" stop-color="#5c5c5c"/><stop offset="0.1875" stop-color="#6f6f6f"/><stop offset="0.2188" stop-color="#828282"/><stop offset="0.25" stop-color="#939393"/><stop offset="0.2812" stop-color="#a4a4a4"/><stop offset="0.3125" stop-color="#b5b5b5"/><stop offset="0.3438" stop-color="#c5c5c5"/><stop offset="0.375" stop-color="#d2d2d2"/><stop offset="0.4062" stop-color="#dcdcdc"/><stop offset="0.4375" stop-color="#e6e6e6"/><stop offset="0.4688" stop-color="#eeeeee"/><stop offset="0.5" stop-color="#f4f4f4"/><stop offset="0.5312" stop-color="#f5f5f5"/><stop offset="0.5625" stop-color="#f1f1f1"/><stop offset="0.5938" stop-color="#e8e8e8"/><stop offset="0.625" stop-color="#dedede"/><stop offset="0.6562" stop-color="#cecece"/><stop offset="0.6875" stop-color="#bbbbbb"/><stop offset="0.7188" stop-color="#a6a6a6"/><stop offset="0.75" stop-color="#939393"/><stop offset="0.7812" stop-color="#7e7e7e"/><stop offset="0.8125" stop-color="#696969"/><stop offset="0.8438" stop-color="#555555"/><stop offset="0.875" stop-color="#454545"/><stop offset="0.9062" stop-color="#363636"/><stop offset="0.9375" stop-color="#292929"/><stop offset="0.9688" stop-color="#1b1b1b"/><stop offset="1" stop-color="#0d0d0d"/></linearGradient>
<linearGradient id="g25" gradientUnits="userSpaceOnUse" x1="0" y1="0" x2="1" y2="0" gradientTransform="matrix(574.020 -99.479 100.392 424.200 387.102 536.062)"><stop offset="0" stop-color="#171717"/><stop offset="0.03125" stop-color="#242424"/><stop offset="0.0625" stop-color="#313131"/><stop offset="0.09375" stop-color="#3d3d3d"/><stop offset="0.125" stop-color="#4c4c4c"/><stop offset="0.1562" stop-color="#5d5d5d"/><stop offset="0.1875" stop-color="#6f6f6f"/><stop offset="0.2188" stop-color="#828282"/><stop offset="0.25" stop-color="#949494"/><stop offset="0.2812" stop-color="#a4a4a4"/><stop offset="0.3125" stop-color="#b5b5b5"/><stop offset="0.3438" stop-color="#c4c4c4"/><stop offset="0.375" stop-color="#d1d1d1"/><stop offset="0.4062" stop-color="#dcdcdc"/><stop offset="0.4375" stop-color="#e5e5e5"/><stop offset="0.4688" stop-color="#ededed"/><stop offset="0.5" stop-color="#f3f3f3"/><stop offset="0.5312" stop-color="#f4f4f4"/><stop offset="0.5625" stop-color="#f0f0f0"/><stop offset="0.5938" stop-color="#e8e8e8"/><stop offset="0.625" stop-color="#dedede"/><stop offset="0.6562" stop-color="#cfcfcf"/><stop offset="0.6875" stop-color="#bbbbbb"/><stop offset="0.7188" stop-color="#a6a6a6"/><stop offset="0.75" stop-color="#929292"/><stop offset="0.7812" stop-color="#7e7e7e"/><stop offset="0.8125" stop-color="#686868"/><stop offset="0.8438" stop-color="#555555"/><stop offset="0.875" stop-color="#454545"/><stop offset="0.9062" stop-color="#363636"/><stop offset="0.9375" stop-color="#292929"/><stop offset="0.9688" stop-color="#1b1b1b"/><stop offset="1" stop-color="#0d0d0d"/></linearGradient>
<linearGradient id="g26" gradientUnits="userSpaceOnUse" x1="0" y1="0" x2="1" y2="0" gradientTransform="matrix(574.109 -99.451 100.316 424.200 388.782 543.275)"><stop offset="0" stop-color="#181818"/><stop offset="0.03125" stop-color="#242424"/><stop offset="0.0625" stop-color="#313131"/><stop offset="0.09375" stop-color="#3e3e3e"/><stop offset="0.125" stop-color="#4d4d4d"/><stop offset="0.1562" stop-color="#5e5e5e"/><stop offset="0.1875" stop-color="#707070"/><stop offset="0.2188" stop-color="#838383"/><stop offset="0.25" stop-color="#949494"/><stop offset="0.2812" stop-color="#a5a5a5"/><stop offset="0.3125" stop-color="#b5b5b5"/><stop offset="0.3438" stop-color="#c4c4c4"/><stop offset="0.375" stop-color="#d1d1d1"/><stop offset="0.4062" stop-color="#dbdbdb"/><stop offset="0.4375" stop-color="#e4e4e4"/><stop offset="0.4688" stop-color="#ececec"/><stop offset="0.5" stop-color="#f2f2f2"/><stop offset="0.5312" stop-color="#f4f4f4"/><stop offset="0.5625" stop-color="#f0f0f0"/><stop offset="0.5938" stop-color="#e8e8e8"/><stop offset="0.625" stop-color="#dedede"/><stop offset="0.6562" stop-color="#cfcfcf"/><stop offset="0.6875" stop-color="#bbbbbb"/><stop offset="0.7188" stop-color="#a6a6a6"/><stop offset="0.75" stop-color="#929292"/><stop offset="0.7812" stop-color="#7e7e7e"/><stop offset="0.8125" stop-color="#686868"/><stop offset="0.8438" stop-color="#555555"/><stop offset="0.875" stop-color="#454545"/><stop offset="0.9062" stop-color="#363636"/><stop offset="0.9375" stop-color="#292929"/><stop offset="0.9688" stop-color="#1c1c1c"/><stop offset="1" stop-color="#0e0e0e"/></linearGradient>
<linearGradient id="g27" gradientUnits="userSpaceOnUse" x1="0" y1="0" x2="1" y2="0" gradientTransform="matrix(574.203 -99.424 100.240 424.200 390.459 550.489)"><stop offset="0" stop-color="#181818"/><stop offset="0.03125" stop-color="#252525"/><stop offset="0.0625" stop-color="#313131"/><stop offset="0.09375" stop-color="#3f3f3f"/><stop offset="0.125" stop-color="#4e4e4e"/><stop offset="0.1562" stop-color="#5e5e5e"/><stop offset="0.1875" stop-color="#717171"/><stop offset="0.2188" stop-color="#838383"/><stop offset="0.25" stop-color="#949494"/><stop offset="0.2812" stop-color="#a5a5a5"/><stop offset="0.3125" stop-color="#b5b5b5"/><stop offset="0.3438" stop-color="#c4c4c4"/><stop offset="0.375" stop-color="#d0d0d0"/><stop offset="0.4062" stop-color="#dbdbdb"/><stop offset="0.4375" stop-color="#e3e3e3"/><stop offset="0.4688" stop-color="#ebebeb"/><stop offset="0.5" stop-color="#f1f1f1"/><stop offset="0.5312" stop-color="#f3f3f3"/><stop offset="0.5625" stop-color="#efefef"/><stop offset="0.5938" stop-color="#e8e8e8"/><stop offset="0.625" stop-color="#dedede"/><stop offset="0.6562" stop-color="#cfcfcf"/><stop offset="0.6875" stop-color="#bbbbbb"/><stop offset="0.7188" stop-color="#a6a6a6"/><stop offset="0.75" stop-color="#929292"/><stop offset="0.7812" stop-color="#7d7d7d"/><stop offset="0.8125" stop-color="#686868"/><stop offset="0.8438" stop-color="#555555"/><stop offset="0.875" stop-color="#454545"/><stop offset="0.9062" stop-color="#363636"/><stop offset="0.9375" stop-color="#292929"/><stop offset="0.9688" stop-color="#1c1c1c"/><stop offset="1" stop-color="#0e0e0e"/></linearGradient>
<linearGradient id="g28" gradientUnits="userSpaceOnUse" x1="0" y1="0" x2="1" y2="0" gradientTransform="matrix(574.303 -99.396 100.165 424.200 392.131 557.702)"><stop offset="0" stop-color="#191919"/><stop offset="0.03125" stop-color="#252525"/><stop offset="0.0625" stop-color="#323232"/><stop offset="0.09375" stop-color="#3f3f3f"/><stop offset="0.125" stop-color="#4e4e4e"/><stop offset="0.1562" stop-color="#5f5f5f"/><stop offset="0.1875" stop-color="#727272"/><stop offset="0.2188" stop-color="#848484"/><stop offset="0.25" stop-color="#959595"/><stop offset="0.2812" stop-color="#a5a5a5"/><stop offset="0.3125" stop-color="#b5b5b5"/><stop offset="0.3438" stop-color="#c3c3c3"/><stop offset="0.375" stop-color="#d0d0d0"/><stop offset="0.4062" stop-color="#dadada"/><stop offset="0.4375" stop-color="#e3e3e3"/><stop offset="0.4688" stop-color="#eaeaea"/><stop offset="0.5" stop-color="#f1f1f1"/><stop offset="0.5312" stop-color="#f3f3f3"/><stop offset="0.5625" stop-color="#efefef"/><stop offset="0.5938" stop-color="#e7e7e7"/><stop offset="0.625" stop-color="#dedede"/><stop offset="0.6562" stop-color="#cecece"/><stop offset="0.6875" stop-color="#bababa"/><stop offset="0.7188" stop-color="#a5a5a5"/><stop offset="0.75" stop-color="#919191"/><stop offset="0.7812" stop-color="#7d7d7d"/><stop offset="0.8125" stop-color="#686868"/><stop offset="0.8438" stop-color="#555555"/><stop offset="0.875" stop-color="#454545"/><stop offset="0.9062" stop-color="#373737"/><stop offset="0.9375" stop-color="#292929"/><stop offset="0.9688" stop-color="#1c1c1c"/><stop offset="1" stop-color="#0f0f0f"/></linearGradient>
<linearGradient id="g29" gradientUnits="userSpaceOnUse" x1="0" y1="0" x2="1" y2="0" gradientTransform="matrix(574.409 -99.369 100.089 424.200 393.799 564.916)"><stop offset="0" stop-color="#191919"/><stop offset="0.03125" stop-color="#252525"/><stop offset="0.0625" stop-color="#323232"/><stop offset="0.09375" stop-color="#404040"/><stop offset="0.125" stop-color="#4f4f4f"/><stop offset="0.1562" stop-color="#606060"/><stop offset="0.1875" stop-color="#727272"/><stop offset="0.2188" stop-color="#848484"/><stop offset="0.25" stop-color="#959595"/><stop offset="0.2812" stop-color="#a5a5a5"/><stop offset="0.3125" stop-color="#b5b5b5"/><stop offset="0.3438" stop-color="#c3c3c3"/><stop offset="0.375" stop-color="#cfcfcf"/><stop offset="0.4062" stop-color="#dadada"/><stop offset="0.4375" stop-color="#e2e2e2"/><stop offset="0.4688" stop-color="#eaeaea"/><stop offset="0.5" stop-color="#f0f0f0"/><stop offset="0.5312" stop-color="#f2f2f2"/><stop offset="0.5625" stop-color="#eeeeee"/><stop offset="0.5938" stop-color="#e7e7e7"/><stop offset="0.625" stop-color="#dedede"/><stop offset="0.6562" stop-color="#cecece"/><stop offset="0.6875" stop-color="#bababa"/><stop offset="0.7188" stop-color="#a5a5a5"/><stop offset="0.75" stop-color="#919191"/><stop offset="0.7812" stop-color="#7d7d7d"/><stop offset="0.8125" stop-color="#686868"/><stop offset="0.8438" stop-color="#555555"/><stop offset="0.875" stop-color="#454545"/><stop offset="0.9062" stop-color="#373737"/><stop offset="0.9375" stop-color="#292929"/><stop offset="0.9688" stop-color="#1c1c1c"/><stop offset="1" stop-color="#101010"/></linearGradient>
<linearGradient id="g30" gradientUnits="userSpaceOnUse" x1="0" y1="0" x2="1" y2="0" gradientTransform="matrix(574.521 -99.341 100.013 424.200 395.462 572.130)"><stop offset="0" stop-color="#1a1a1a"/><stop offset="0.03125" stop-color="#262626"/><stop offset="0.0625" stop-color="#333333"/><stop offset="0.09375" stop-color="#414141"/><stop offset="0.125" stop-color="#505050"/><stop offset="0.1562" stop-color="#616161"/><stop offset="0.1875" stop-color="#737373"/><stop offset="0.2188" stop-color="#858585"/><stop offset="0.25" stop-color="#969696"/><stop offset="0.2812" stop-color="#a6a6a6"/><stop offset="0.3125" stop-color="#b5b5b5"/><stop offset="0.3438" stop-color="#c3c3c3"/><stop offset="0.375" stop-color="#cfcfcf"/><stop offset="0.4062" stop-color="#d9d9d9"/><stop offset="0.4375" stop-color="#e1e1e1"/><stop offset="0.4688" stop-color="#e9e9e9"/><stop offset="0.5" stop-color="#efefef"/><stop offset="0.5312" stop-color="#f1f1f1"/><stop offset="0.5625" stop-color="#eeeeee"/><stop offset="0.5938" stop-color="#e7e7e7"/><stop offset="0.625" stop-color="#dddddd"/><stop offset="0.6562" stop-color="#cdcdcd"/><stop offset="0.6875" stop-color="#b9b9b9"/><stop offset="0.7188" stop-color="#a4a4a4"/><stop offset="0.75" stop-color="#909090"/><stop offset="0.7812" stop-color="#7c7c7c"/><stop offset="0.8125" stop-color="#676767"/><stop offset="0.8438" stop-color="#555555"/><stop offset="0.875" stop-color="#454545"/><stop offset="0.9062" stop-color="#373737"/><stop offset="0.9375" stop-color="#292929"/><stop offset="0.9688" stop-color="#1c1c1c"/><stop offset="1" stop-color="#101010"/></linearGradient>
<linearGradient id="g31" gradientUnits="userSpaceOnUse" x1="0" y1="0" x2="1" y2="0" gradientTransform="matrix(574.639 -99.314 99.938 424.200 397.122 579.343)"><stop offset="0" stop-color="#1b1b1b"/><stop offset="0.03125" stop-color="#262626"/><stop offset="0.0625" stop-color="#333333"/><stop offset="0.09375" stop-color="#414141"/><stop offset="0.125" stop-color="#515151"/><stop offset="0.1562" stop-color="#616161"/><stop offset="0.1875" stop-color="#747474"/><stop offset="0.2188" stop-color="#868686"/><stop offset="0.25" stop-color="#969696"/><stop offset="0.2812" stop-color="#a6a6a6"/><stop offset="0.3125" stop-color="#b5b5b5"/><stop offset="0.3438" stop-color="#c3c3c3"/><stop offset="0.375" stop-color="#cfcfcf"/><stop offset="0.4062" stop-color="#d9d9d9"/><stop offset="0.4375" stop-color="#e1e1e1"/><stop offset="0.4688" stop-color="#e8e8e8"/><stop offset="0.5" stop-color="#eeeeee"/><stop offset="0.5312" stop-color="#f1f1f1"/><stop offset="0.5625" stop-color="#ededed"/><stop offset="0.5938" stop-color="#e7e7e7"/><stop offset="0.625" stop-color="#dddddd"/><stop offset="0.6562" stop-color="#cdcdcd"/><stop offset="0.6875" stop-color="#b8b8b8"/><stop offset="0.7188" stop-color="#a3a3a3"/><stop offset="0.75" stop-color="#909090"/><stop offset="0.7812" stop-color="#7c7c7c"/><stop offset="0.8125" stop-color="#676767"/><stop offset="0.8438" stop-color="#555555"/><stop offset="0.875" stop-color="#454545"/><stop offset="0.9062" stop-color="#373737"/><stop offset="0.9375" stop-color="#292929"/><stop offset="0.9688" stop-color="#1d1d1d"/><stop offset="1" stop-color="#111111"/></linearGradient>
<linearGradient id="g32" gradientUnits="userSpaceOnUse" x1="0" y1="0" x2="1" y2="0" gradientTransform="matrix(574.763 -99.286 99.862 424.200 398.777 586.557)"><stop offset="0" stop-color="#1b1b1b"/><stop offset="0.03125" stop-color="#272727"/><stop offset="0.0625" stop-color="#343434"/><stop offset="0.09375" stop-color="#424242"/><stop offset="0.125" stop-color="#515151"/><stop offset="0.1562" stop-color="#626262"/><stop offset="0.1875" stop-color="#757575"/><stop offset="0.2188" stop-color="#868686"/><stop offset="0.25" stop-color="#979797"/><stop offset="0.2812" stop-color="#a6a6a6"/><stop offset="0.3125" stop-color="#b5b5b5"/><stop offset="0.3438" stop-color="#c2c2c2"/><stop offset="0.375" stop-color="#cecece"/><stop offset="0.4062" stop-color="#d8d8d8"/><stop offset="0.4375" stop-color="#e0e0e0"/><stop offset="0.4688" stop-color="#e7e7e7"/><stop offset="0.5" stop-color="#eeeeee"/><stop offset="0.5312" stop-color="#f0f0f0"/><stop offset="0.5625" stop-color="#ededed"/><stop offset="0.5938" stop-color="#e6e6e6"/><stop offset="0.625" stop-color="#dddddd"/><stop offset="0.6562" stop-color="#cccccc"/><stop offset="0.6875" stop-color="#b7b7b7"/><stop offset="0.7188" stop-color="#a3a3a3"/><stop offset="0.75" stop-color="#8f8f8f"/><stop offset="0.7812" stop-color="#7c7c7c"/><stop offset="0.8125" stop-color="#676767"/><stop offset="0.8438" stop-color="#555555"/><stop offset="0.875" stop-color="#454545"/><stop offset="0.9062" stop-color="#373737"/><stop offset="0.9375" stop-color="#292929"/><stop offset="0.9688" stop-color="#1d1d1d"/><stop offset="1" stop-color="#121212"/></linearGradient>
<linearGradient id="g33" gradientUnits="userSpaceOnUse" x1="0" y1="0" x2="1" y2="0" gradientTransform="matrix(574.892 -99.259 99.787 424.200 400.428 593.770)"><stop offset="0" stop-color="#1c1c1c"/><stop offset="0.03125" stop-color="#272727"/><stop offset="0.0625" stop-color="#343434"/><stop offset="0.09375" stop-color="#434343"/><stop offset="0.125" stop-color="#525252"/><stop offset="0.1562" stop-color="#636363"/><stop offset="0.1875" stop-color="#767676"/><stop offset="0.2188" stop-color="#878787"/><stop offset="0.25" stop-color="#979797"/><stop offset="0.2812" stop-color="#a6a6a6"/><stop offset="0.3125" stop-color="#b5b5b5"/><stop offset="0.3438" stop-color="#c2c2c2"/><stop offset="0.375" stop-color="#cecece"/><stop offset="0.4062" stop-color="#d8d8d8"/><stop offset="0.4375" stop-color="#e0e0e0"/><stop offset="0.4688" stop-color="#e7e7e7"/><stop offset="0.5" stop-color="#ededed"/><stop offset="0.5312" stop-color="#efefef"/><stop offset="0.5625" stop-color="#ececec"/><stop offset="0.5938" stop-color="#e6e6e6"/><stop offset="0.625" stop-color="#dcdcdc"/><stop offset="0.6562" stop-color="#cccccc"/><stop offset="0.6875" stop-color="#b7b7b7"/><stop offset="0.7188" stop-color="#a2a2a2"/><stop offset="0.75" stop-color="#8f8f8f"/><stop offset="0.7812" stop-color="#7b7b7b"/><stop offset="0.8125" stop-color="#676767"/><stop offset="0.8438" stop-color="#555555"/><stop offset="0.875" stop-color="#454545"/><stop offset="0.9062" stop-color="#373737"/><stop offset="0.9375" stop-color="#292929"/><stop offset="0.9688" stop-color="#1d1d1d"/><stop offset="1" stop-color="#131313"/></linearGradient>
<linearGradient id="g34" gradientUnits="userSpaceOnUse" x1="0" y1="0" x2="1" y2="0" gradientTransform="matrix(575.028 -99.231 99.711 424.200 402.075 600.984)"><stop offset="0" stop-color="#1c1c1c"/><stop offset="0.03125" stop-color="#272727"/><stop offset="0.0625" stop-color="#353535"/><stop offset="0.09375" stop-color="#434343"/><stop offset="0.125" stop-color="#535353"/><stop offset="0.1562" stop-color="#646464"/><stop offset="0.1875" stop-color="#767676"/><stop offset="0.2188" stop-color="#888888"/><stop offset="0.25" stop-color="#979797"/><stop offset="0.2812" stop-color="#a6a6a6"/><stop offset="0.3125" stop-color="#b5b5b5"/><stop offset="0.3438" stop-color="#c2c2c2"/><stop offset="0.375" stop-color="#cecece"/><stop offset="0.4062" stop-color="#d8d8d8"/><stop offset="0.4375" stop-color="#e0e0e0"/><stop offset="0.4688" stop-color="#e6e6e6"/><stop offset="0.5" stop-color="#ececec"/><stop offset="0.5312" stop-color="#efefef"/><stop offset="0.5625" stop-color="#ececec"/><stop offset="0.5938" stop-color="#e6e6e6"/><stop offset="0.625" stop-color="#dcdcdc"/><stop offset="0.6562" stop-color="#cbcbcb"/><stop offset="0.6875" stop-color="#b6b6b6"/><stop offset="0.7188" stop-color="#a1a1a1"/><stop offset="0.75" stop-color="#8e8e8e"/><stop offset="0.7812" stop-color="#7b7b7b"/><stop offset="0.8125" stop-color="#676767"/><stop offset="0.8438" stop-color="#555555"/><stop offset="0.875" stop-color="#464646"/><stop offset="0.9062" stop-color="#373737"/><stop offset="0.9375" stop-color="#2a2a2a"/><stop offset="0.9688" stop-color="#1e1e1e"/><stop offset="1" stop-color="#141414"/></linearGradient>
<linearGradient id="g35" gradientUnits="userSpaceOnUse" x1="0" y1="0" x2="1" y2="0" gradientTransform="matrix(575.169 -99.204 99.635 424.200 403.717 608.198)"><stop offset="0" stop-color="#1d1d1d"/><stop offset="0.03125" stop-color="#282828"/><stop offset="0.0625" stop-color="#363636"/><stop offset="0.09375" stop-color="#444444"/><stop offset="0.125" stop-color="#535353"/><stop offset="0.1562" stop-color="#646464"/><stop offset="0.1875" stop-color="#777777"/><stop offset="0.2188" stop-color="#888888"/><stop offset="0.25" stop-color="#989898"/><stop offset="0.2812" stop-color="#a6a6a6"/><stop offset="0.3125" stop-color="#b4b4b4"/><stop offset="0.3438" stop-color="#c2c2c2"/><stop offset="0.375" stop-color="#cecece"/><stop offset="0.4062" stop-color="#d8d8d8"/><stop offset="0.4375" stop-color="#dfdfdf"/><stop offset="0.4688" stop-color="#e6e6e6"/><stop offset="0.5" stop-color="#ebebeb"/><stop offset="0.5312" stop-color="#eeeeee"/><stop offset="0.5625" stop-color="#ebebeb"/><stop offset="0.5938" stop-color="#e5e5e5"/><stop offset="0.625" stop-color="#dcdcdc"/><stop offset="0.6562" stop-color="#cbcbcb"/><stop offset="0.6875" stop-color="#b6b6b6"/><stop offset="0.7188" stop-color="#a1a1a1"/><stop offset="0.75" stop-color="#8e8e8e"/><stop offset="0.7812" stop-color="#7b7b7b"/><stop offset="0.8125" stop-color="#676767"/><stop offset="0.8438" stop-color="#565656"/><stop offset="0.875" stop-color="#464646"/><stop offset="0.9062" stop-color="#373737"/><stop offset="0.9375" stop-color="#2a2a2a"/><stop offset="0.9688" stop-color="#1e1e1e"/><stop offset="1" stop-color="#161616"/></linearGradient>
<linearGradient id="g36" gradientUnits="userSpaceOnUse" x1="0" y1="0" x2="1" y2="0" gradientTransform="matrix(575.317 -99.176 99.560 424.200 405.355 615.411)"><stop offset="0" stop-color="#1e1e1e"/><stop offset="0.03125" stop-color="#282828"/><stop offset="0.0625" stop-color="#363636"/><stop offset="0.09375" stop-color="#454545"/><stop offset="0.125" stop-color="#545454"/><stop offset="0.1562" stop-color="#656565"/><stop offset="0.1875" stop-color="#787878"/><stop offset="0.2188" stop-color="#898989"/><stop offset="0.25" stop-color="#989898"/><stop offset="0.2812" stop-color="#a6a6a6"/><stop offset="0.3125" stop-color="#b4b4b4"/><stop offset="0.3438" stop-color="#c2c2c2"/><stop offset="0.375" stop-color="#cdcdcd"/><stop offset="0.4062" stop-color="#d7d7d7"/><stop offset="0.4375" stop-color="#dfdfdf"/><stop offset="0.4688" stop-color="#e5e5e5"/><stop offset="0.5" stop-color="#ebebeb"/><stop offset="0.5312" stop-color="#ededed"/><stop offset="0.5625" stop-color="#ebebeb"/><stop offset="0.5938" stop-color="#e5e5e5"/><stop offset="0.625" stop-color="#dbdbdb"/><stop offset="0.6562" stop-color="#cacaca"/><stop offset="0.6875" stop-color="#b5b5b5"/><stop offset="0.7188" stop-color="#a1a1a1"/><stop offset="0.75" stop-color="#8e8e8e"/><stop offset="0.7812" stop-color="#7b7b7b"/><stop offset="0.8125" stop-color="#686868"/><stop offset="0.8438" stop-color="#565656"/><stop offset="0.875" stop-color="#464646"/><stop offset="0.9062" stop-color="#383838"/><stop offset="0.9375" stop-color="#2a2a2a"/><stop offset="0.9688" stop-color="#1f1f1f"/><stop offset="1" stop-color="#171717"/></linearGradient>
<linearGradient id="g37" gradientUnits="userSpaceOnUse" x1="0" y1="0" x2="1" y2="0" gradientTransform="matrix(575.470 -99.149 99.484 424.200 406.989 622.625)"><stop offset="0" stop-color="#1e1e1e"/><stop offset="0.03125" stop-color="#292929"/><stop offset="0.0625" stop-color="#373737"/><stop offset="0.09375" stop-color="#464646"/><stop offset="0.125" stop-color="#555555"/><stop offset="0.1562" stop-color="#666666"/><stop offset="0.1875" stop-color="#797979"/><stop offset="0.2188" stop-color="#898989"/><stop offset="0.25" stop-color="#989898"/><stop offset="0.2812" stop-color="#a6a6a6"/><stop offset="0.3125" stop-color="#b4b4b4"/><stop offset="0.3438" stop-color="#c1c1c1"/><stop offset="0.375" stop-color="#cdcdcd"/><stop offset="0.4062" stop-color="#d7d7d7"/><stop offset="0.4375" stop-color="#dfdfdf"/><stop offset="0.4688" stop-color="#e5e5e5"/><stop offset="0.5" stop-color="#eaeaea"/><stop offset="0.5312" stop-color="#ededed"/><stop offset="0.5625" stop-color="#eaeaea"/><stop offset="0.5938" stop-color="#e5e5e5"/><stop offset="0.625" stop-color="#dbdbdb"/><stop offset="0.6562" stop-color="#cacaca"/><stop offset="0.6875" stop-color="#b5b5b5"/><stop offset="0.7188" stop-color="#a1a1a1"/><stop offset="0.75" stop-color="#8e8e8e"/><stop offset="0.7812" stop-color="#7c7c7c"/><stop offset="0.8125" stop-color="#686868"/><stop offset="0.8438" stop-color="#575757"/><stop offset="0.875" stop-color="#474747"/><stop offset="0.9062" stop-color="#383838"/><stop offset="0.9375" stop-color="#2a2a2a"/><stop offset="0.9688" stop-color="#202020"/><stop offset="1" stop-color="#191919"/></linearGradient>
<linearGradient id="g38" gradientUnits="userSpaceOnUse" x1="0" y1="0" x2="1" y2="0" gradientTransform="matrix(575.629 -99.121 99.408 424.200 408.619 629.838)"><stop offset="0" stop-color="#1f1f1f"/><stop offset="0.03125" stop-color="#292929"/><stop offset="0.0625" stop-color="#383838"/><stop offset="0.09375" stop-color="#474747"/><stop offset="0.125" stop-color="#555555"/><stop offset="0.1562" stop-color="#666666"/><stop offset="0.1875" stop-color="#797979"/><stop offset="0.2188" stop-color="#8a8a8a"/><stop offset="0.25" stop-color="#989898"/><stop offset="0.2812" stop-color="#a6a6a6"/><stop offset="0.3125" stop-color="#b4b4b4"/><stop offset="0.3438" stop-color="#c1c1c1"/><stop offset="0.375" stop-color="#cdcdcd"/><stop offset="0.4062" stop-color="#d7d7d7"/><stop offset="0.4375" stop-color="#dedede"/><stop offset="0.4688" stop-color="#e4e4e4"/><stop offset="0.5" stop-color="#e9e9e9"/><stop offset="0.5312" stop-color="#ececec"/><stop offset="0.5625" stop-color="#eaeaea"/><stop offset="0.5938" stop-color="#e5e5e5"/><stop offset="0.625" stop-color="#dadada"/><stop offset="0.6562" stop-color="#c9c9c9"/><stop offset="0.6875" stop-color="#b5b5b5"/><stop offset="0.7188" stop-color="#a1a1a1"/><stop offset="0.75" stop-color="#8e8e8e"/><stop offset="0.7812" stop-color="#7c7c7c"/><stop offset="0.8125" stop-color="#696969"/><stop offset="0.8438" stop-color="#575757"/><stop offset="0.875" stop-color="#474747"/><stop offset="0.9062" stop-color="#393939"/><stop offset="0.9375" stop-color="#2b2b2b"/><stop offset="0.9688" stop-color="#212121"/><stop offset="1" stop-color="#1a1a1a"/></linearGradient>
<linearGradient id="g39" gradientUnits="userSpaceOnUse" x1="0" y1="0" x2="1" y2="0" gradientTransform="matrix(575.794 -99.094 99.333 424.200 410.244 637.052)"><stop offset="0" stop-color="#202020"/><stop offset="0.03125" stop-color="#292929"/><stop offset="0.0625" stop-color="#393939"/><stop offset="0.09375" stop-color="#474747"/><stop offset="0.125" stop-color="#565656"/><stop offset="0.1562" stop-color="#676767"/><stop offset="0.1875" stop-color="#797979"/><stop offset="0.2188" stop-color="#8a8a8a"/><stop offset="0.25" stop-color="#989898"/><stop offset="0.2812" stop-color="#a6a6a6"/><stop offset="0.3125" stop-color="#b4b4b4"/><stop offset="0.3438" stop-color="#c1c1c1"/><stop offset="0.375" stop-color="#cdcdcd"/><stop offset="0.4062" stop-color="#d6d6d6"/><stop offset="0.4375" stop-color="#dedede"/><stop offset="0.4688" stop-color="#e4e4e4"/><stop offset="0.5" stop-color="#e9e9e9"/><stop offset="0.5312" stop-color="#ebebeb"/><stop offset="0.5625" stop-color="#e9e9e9"/><stop offset="0.5938" stop-color="#e4e4e4"/><stop offset="0.625" stop-color="#dadada"/><stop offset="0.6562" stop-color="#c9c9c9"/><stop offset="0.6875" stop-color="#b5b5b5"/><stop offset="0.7188" stop-color="#a1a1a1"/><stop offset="0.75" stop-color="#8f8f8f"/><stop offset="0.7812" stop-color="#7d7d7d"/><stop offset="0.8125" stop-color="#6a6a6a"/><stop offset="0.8438" stop-color="#585858"/><stop offset="0.875" stop-color="#484848"/><stop offset="0.9062" stop-color="#393939"/><stop offset="0.9375" stop-color="#2c2c2c"/><stop offset="0.9688" stop-color="#222222"/><stop offset="1" stop-color="#1c1c1c"/></linearGradient>
<linearGradient id="g40" gradientUnits="userSpaceOnUse" x1="0" y1="0" x2="1" y2="0" gradientTransform="matrix(575.965 -99.066 99.257 424.200 411.865 644.266)"><stop offset="0" stop-color="#202020"/><stop offset="0.03125" stop-color="#2a2a2a"/><stop offset="0.0625" stop-color="#3a3a3a"/><stop offset="0.09375" stop-color="#484848"/><stop offset="0.125" stop-color="#565656"/><stop offset="0.1562" stop-color="#676767"/><stop offset="0.1875" stop-color="#7a7a7a"/><stop offset="0.2188" stop-color="#8a8a8a"/><stop offset="0.25" stop-color="#999999"/><stop offset="0.2812" stop-color="#a6a6a6"/><stop offset="0.3125" stop-color="#b4b4b4"/><stop offset="0.3438" stop-color="#c1c1c1"/><stop offset="0.375" stop-color="#cccccc"/><stop offset="0.4062" stop-color="#d6d6d6"/><stop offset="0.4375" stop-color="#dddddd"/><stop offset="0.4688" stop-color="#e3e3e3"/><stop offset="0.5" stop-color="#e8e8e8"/><stop offset="0.5312" stop-color="#ebebeb"/><stop offset="0.5625" stop-color="#e9e9e9"/><stop offset="0.5938" stop-color="#e4e4e4"/><stop offset="0.625" stop-color="#d9d9d9"/><stop offset="0.6562" stop-color="#c9c9c9"/><stop offset="0.6875" stop-color="#b4b4b4"/><stop offset="0.7188" stop-color="#a1a1a1"/><stop offset="0.75" stop-color="#8f8f8f"/><stop offset="0.7812" stop-color="#7e7e7e"/><stop offset="0.8125" stop-color="#6b6b6b"/><stop offset="0.8438" stop-color="#595959"/><stop offset="0.875" stop-color="#494949"/><stop offset="0.9062" stop-color="#3a3a3a"/><stop offset="0.9375" stop-color="#2d2d2d"/><stop offset="0.9688" stop-color="#232323"/><stop offset="1" stop-color="#1d1d1d"/></linearGradient>
<linearGradient id="g41" gradientUnits="userSpaceOnUse" x1="0" y1="0" x2="1" y2="0" gradientTransform="matrix(576.142 -99.039 99.182 424.200 413.482 651.479)"><stop offset="0" stop-color="#212121"/><stop offset="0.03125" stop-color="#2a2a2a"/><stop offset="0.0625" stop-color="#3a3a3a"/><stop offset="0.09375" stop-color="#494949"/><stop offset="0.125" stop-color="#575757"/><stop offset="0.1562" stop-color="#686868"/><stop offset="0.1875" stop-color="#7a7a7a"/><stop offset="0.2188" stop-color="#8a8a8a"/><stop offset="0.25" stop-color="#999999"/><stop offset="0.2812" stop-color="#a6a6a6"/><stop offset="0.3125" stop-color="#b4b4b4"/><stop offset="0.3438" stop-color="#c1c1c1"/><stop offset="0.375" stop-color="#cccccc"/><stop offset="0.4062" stop-color="#d6d6d6"/><stop offset="0.4375" stop-color="#dddddd"/><stop offset="0.4688" stop-color="#e3e3e3"/><stop offset="0.5" stop-color="#e7e7e7"/><stop offset="0.5312" stop-color="#eaeaea"/><stop offset="0.5625" stop-color="#e8e8e8"/><stop offset="0.5938" stop-color="#e4e4e4"/><stop offset="0.625" stop-color="#d9d9d9"/><stop offset="0.6562" stop-color="#c8c8c8"/><stop offset="0.6875" stop-color="#b4b4b4"/><stop offset="0.7188" stop-color="#a1a1a1"/><stop offset="0.75" stop-color="#909090"/><stop offset="0.7812" stop-color="#7e7e7e"/><stop offset="0.8125" stop-color="#6c6c6c"/><stop offset="0.8438" stop-color="#5a5a5a"/><stop offset="0.875" stop-color="#4a4a4a"/><stop offset="0.9062" stop-color="#3b3b3b"/><stop offset="0.9375" stop-color="#2f2f2f"/><stop offset="0.9688" stop-color="#252525"/><stop offset="1" stop-color="#1f1f1f"/></linearGradient>
<linearGradient id="g42" gradientUnits="userSpaceOnUse" x1="0" y1="0" x2="1" y2="0" gradientTransform="matrix(576.325 -99.011 99.106 424.200 415.095 658.693)"><stop offset="0" stop-color="#222222"/><stop offset="0.03125" stop-color="#2b2b2b"/><stop offset="0.0625" stop-color="#3b3b3b"/><stop offset="0.09375" stop-color="#4a4a4a"/><stop offset="0.125" stop-color="#585858"/><stop offset="0.1562" stop-color="#686868"/><stop offset="0.1875" stop-color="#7a7a7a"/><stop offset="0.2188" stop-color="#8a8a8a"/><stop offset="0.25" stop-color="#999999"/><stop offset="0.2812" stop-color="#a6a6a6"/><stop offset="0.3125" stop-color="#b4b4b4"/><stop offset="0.3438" stop-color="#c0c0c0"/><stop offset="0.375" stop-color="#cccccc"/><stop offset="0.4062" stop-color="#d5d5d5"/><stop offset="0.4375" stop-color="#dddddd"/><stop offset="0.4688" stop-color="#e3e3e3"/><stop offset="0.5" stop-color="#e7e7e7"/><stop offset="0.5312" stop-color="#e9e9e9"/><stop offset="0.5625" stop-color="#e8e8e8"/><stop offset="0.5938" stop-color="#e3e3e3"/><stop offset="0.625" stop-color="#d8d8d8"/><stop offset="0.6562" stop-color="#c8c8c8"/><stop offset="0.6875" stop-color="#b4b4b4"/><stop offset="0.7188" stop-color="#a1a1a1"/><stop offset="0.75" stop-color="#909090"/><stop offset="0.7812" stop-color="#7f7f7f"/><stop offset="0.8125" stop-color="#6d6d6d"/><stop offset="0.8438" stop-color="#5c5c5c"/><stop offset="0.875" stop-color="#4b4b4b"/><stop offset="0.9062" stop-color="#3c3c3c"/><stop offset="0.9375" stop-color="#303030"/><stop offset="0.9688" stop-color="#262626"/><stop offset="1" stop-color="#202020"/></linearGradient>
<linearGradient id="g43" gradientUnits="userSpaceOnUse" x1="0" y1="0" x2="1" y2="0" gradientTransform="matrix(576.514 -98.984 99.030 424.200 416.703 665.906)"><stop offset="0" stop-color="#222222"/><stop offset="0.03125" stop-color="#2c2c2c"/><stop offset="0.0625" stop-color="#3c3c3c"/><stop offset="0.09375" stop-color="#4a4a4a"/><stop offset="0.125" stop-color="#585858"/><stop offset="0.1562" stop-color="#686868"/><stop offset="0.1875" stop-color="#7a7a7a"/><stop offset="0.2188" stop-color="#8a8a8a"/><stop offset="0.25" stop-color="#999999"/><stop offset="0.2812" stop-color="#a6a6a6"/><stop offset="0.3125" stop-color="#b4b4b4"/><stop offset="0.3438" stop-color="#c0c0c0"/><stop offset="0.375" stop-color="#cbcbcb"/><stop offset="0.4062" stop-color="#d5d5d5"/><stop offset="0.4375" stop-color="#dcdcdc"/><stop offset="0.4688" stop-color="#e2e2e2"/><stop offset="0.5" stop-color="#e6e6e6"/><stop offset="0.5312" stop-color="#e8e8e8"/><stop offset="0.5625" stop-color="#e7e7e7"/><stop offset="0.5938" stop-color="#e3e3e3"/><stop offset="0.625" stop-color="#d7d7d7"/><stop offset="0.6562" stop-color="#c7c7c7"/><stop offset="0.6875" stop-color="#b4b4b4"/><stop offset="0.7188" stop-color="#a1a1a1"/><stop offset="0.75" stop-color="#909090"/><stop offset="0.7812" stop-color="#808080"/><stop offset="0.8125" stop-color="#6e6e6e"/><stop offset="0.8438" stop-color="#5d5d5d"/><stop offset="0.875" stop-color="#4c4c4c"/><stop offset="0.9062" stop-color="#3d3d3d"/><stop offset="0.9375" stop-color="#313131"/><stop offset="0.9688" stop-color="#282828"/><stop offset="1" stop-color="#222222"/></linearGradient>
<linearGradient id="g44" gradientUnits="userSpaceOnUse" x1="0" y1="0" x2="1" y2="0" gradientTransform="matrix(576.708 -98.956 98.955 424.200 418.307 673.120)"><stop offset="0" stop-color="#232323"/><stop offset="0.03125" stop-color="#2d2d2d"/><stop offset="0.0625" stop-color="#3d3d3d"/><stop offset="0.09375" stop-color="#4b4b4b"/><stop offset="0.125" stop-color="#595959"/><stop offset="0.1562" stop-color="#696969"/><stop offset="0.1875" stop-color="#7a7a7a"/><stop offset="0.2188" stop-color="#8a8a8a"/><stop offset="0.25" stop-color="#989898"/><stop offset="0.2812" stop-color="#a6a6a6"/><stop offset="0.3125" stop-color="#b3b3b3"/><stop offset="0.3438" stop-color="#c0c0c0"/><stop offset="0.375" stop-color="#cbcbcb"/><stop offset="0.4062" stop-color="#d4d4d4"/><stop offset="0.4375" stop-color="#dcdcdc"/><stop offset="0.4688" stop-color="#e2e2e2"/><stop offset="0.5" stop-color="#e6e6e6"/><stop offset="0.5312" stop-color="#e8e8e8"/><stop offset="0.5625" stop-color="#e6e6e6"/><stop offset="0.5938" stop-color="#e2e2e2"/><stop offset="0.625" stop-color="#d6d6d6"/><stop offset="0.6562" stop-color="#c6c6c6"/><stop offset="0.6875" stop-color="#b4b4b4"/><stop offset="0.7188" stop-color="#a1a1a1"/><stop offset="0.75" stop-color="#919191"/><stop offset="0.7812" stop-color="#808080"/><stop offset="0.8125" stop-color="#6f6f6f"/><stop offset="0.8438" stop-color="#5e5e5e"/><stop offset="0.875" stop-color="#4d4d4d"/><stop offset="0.9062" stop-color="#3e3e3e"/><stop offset="0.9375" stop-color="#323232"/><stop offset="0.9688" stop-color="#292929"/><stop offset="1" stop-color="#232323"/></linearGradient>
<linearGradient id="g45" gradientUnits="userSpaceOnUse" x1="0" y1="0" x2="1" y2="0" gradientTransform="matrix(576.909 -98.929 98.879 424.200 419.907 680.334)"><stop offset="0" stop-color="#242424"/><stop offset="0.03125" stop-color="#2e2e2e"/><stop offset="0.0625" stop-color="#3e3e3e"/><stop offset="0.09375" stop-color="#4c4c4c"/><stop offset="0.125" stop-color="#595959"/><stop offset="0.1562" stop-color="#696969"/><stop offset="0.1875" stop-color="#7a7a7a"/><stop offset="0.2188" stop-color="#8a8a8a"/><stop offset="0.25" stop-color="#989898"/><stop offset="0.2812" stop-color="#a6a6a6"/><stop offset="0.3125" stop-color="#b3b3b3"/><stop offset="0.3438" stop-color="#c0c0c0"/><stop offset="0.375" stop-color="#cacaca"/><stop offset="0.4062" stop-color="#d4d4d4"/><stop offset="0.4375" stop-color="#dbdbdb"/><stop offset="0.4688" stop-color="#e1e1e1"/><stop offset="0.5" stop-color="#e5e5e5"/><stop offset="0.5312" stop-color="#e7e7e7"/><stop offset="0.5625" stop-color="#e5e5e5"/><stop offset="0.5938" stop-color="#e0e0e0"/><stop offset="0.625" stop-color="#d4d4d4"/><stop offset="0.6562" stop-color="#c6c6c6"/><stop offset="0.6875" stop-color="#b4b4b4"/><stop offset="0.7188" stop-color="#a2a2a2"/><stop offset="0.75" stop-color="#919191"/><stop offset="0.7812" stop-color="#818181"/><stop offset="0.8125" stop-color="#707070"/><stop offset="0.8438" stop-color="#606060"/><stop offset="0.875" stop-color="#4e4e4e"/><stop offset="0.9062" stop-color="#3f3f3f"/><stop offset="0.9375" stop-color="#333333"/><stop offset="0.9688" stop-color="#2a2a2a"/><stop offset="1" stop-color="#252525"/></linearGradient>
<linearGradient id="g46" gradientUnits="userSpaceOnUse" x1="0" y1="0" x2="1" y2="0" gradientTransform="matrix(577.115 -98.901 98.803 424.200 421.503 687.547)"><stop offset="0" stop-color="#252525"/><stop offset="0.03125" stop-color="#2f2f2f"/><stop offset="0.0625" stop-color="#3f3f3f"/><stop offset="0.09375" stop-color="#4c4c4c"/><stop offset="0.125" stop-color="#5a5a5a"/><stop offset="0.1562" stop-color="#6a6a6a"/><stop offset="0.1875" stop-color="#7a7a7a"/><stop offset="0.2188" stop-color="#8a8a8a"/><stop offset="0.25" stop-color="#989898"/><stop offset="0.2812" stop-color="#a6a6a6"/><stop offset="0.3125" stop-color="#b3b3b3"/><stop offset="0.3438" stop-color="#bfbfbf"/><stop offset="0.375" stop-color="#cacaca"/><stop offset="0.4062" stop-color="#d3d3d3"/><stop offset="0.4375" stop-color="#dadada"/><stop offset="0.4688" stop-color="#e1e1e1"/><stop offset="0.5" stop-color="#e5e5e5"/><stop offset="0.5312" stop-color="#e6e6e6"/><stop offset="0.5625" stop-color="#e4e4e4"/><stop offset="0.5938" stop-color="#dfdfdf"/><stop offset="0.625" stop-color="#d3d3d3"/><stop offset="0.6562" stop-color="#c5c5c5"/><stop offset="0.6875" stop-color="#b3b3b3"/><stop offset="0.7188" stop-color="#a2a2a2"/><stop offset="0.75" stop-color="#929292"/><stop offset="0.7812" stop-color="#828282"/><stop offset="0.8125" stop-color="#717171"/><stop offset="0.8438" stop-color="#616161"/><stop offset="0.875" stop-color="#505050"/><stop offset="0.9062" stop-color="#404040"/><stop offset="0.9375" stop-color="#343434"/><stop offset="0.9688" stop-color="#2b2b2b"/><stop offset="1" stop-color="#262626"/></linearGradient>
<linearGradient id="g47" gradientUnits="userSpaceOnUse" x1="0" y1="0" x2="1" y2="0" gradientTransform="matrix(577.328 -98.874 98.728 424.200 423.094 694.761)"><stop offset="0" stop-color="#252525"/><stop offset="0.03125" stop-color="#303030"/><stop offset="0.0625" stop-color="#3f3f3f"/><stop offset="0.09375" stop-color="#4d4d4d"/><stop offset="0.125" stop-color="#5a5a5a"/><stop offset="0.1562" stop-color="#6a6a6a"/><stop offset="0.1875" stop-color="#7a7a7a"/><stop offset="0.2188" stop-color="#8a8a8a"/><stop offset="0.25" stop-color="#989898"/><stop offset="0.2812" stop-color="#a6a6a6"/><stop offset="0.3125" stop-color="#b3b3b3"/><stop offset="0.3438" stop-color="#bfbfbf"/><stop offset="0.375" stop-color="#c9c9c9"/><stop offset="0.4062" stop-color="#d3d3d3"/><stop offset="0.4375" stop-color="#dadada"/><stop offset="0.4688" stop-color="#e0e0e0"/><stop offset="0.5" stop-color="#e4e4e4"/><stop offset="0.5312" stop-color="#e5e5e5"/><stop offset="0.5625" stop-color="#e2e2e2"/><stop offset="0.5938" stop-color="#dddddd"/><stop offset="0.625" stop-color="#d2d2d2"/><stop offset="0.6562" stop-color="#c4c4c4"/><stop offset="0.6875" stop-color="#b3b3b3"/><stop offset="0.7188" stop-color="#a2a2a2"/><stop offset="0.75" stop-color="#929292"/><stop offset="0.7812" stop-color="#838383"/><stop offset="0.8125" stop-color="#727272"/><stop offset="0.8438" stop-color="#626262"/><stop offset="0.875" stop-color="#515151"/><stop offset="0.9062" stop-color="#414141"/><stop offset="0.9375" stop-color="#353535"/><stop offset="0.9688" stop-color="#2d2d2d"/><stop offset="1" stop-color="#282828"/></linearGradient>
<linearGradient id="g48" gradientUnits="userSpaceOnUse" x1="0" y1="0" x2="1" y2="0" gradientTransform="matrix(577.546 -98.846 98.652 424.200 424.681 701.974)"><stop offset="0" stop-color="#262626"/><stop offset="0.03125" stop-color="#323232"/><stop offset="0.0625" stop-color="#404040"/><stop offset="0.09375" stop-color="#4d4d4d"/><stop offset="0.125" stop-color="#5b5b5b"/><stop offset="0.1562" stop-color="#6a6a6a"/><stop offset="0.1875" stop-color="#7a7a7a"/><stop offset="0.2188" stop-color="#8a8a8a"/><stop offset="0.25" stop-color="#989898"/><stop offset="0.2812" stop-color="#a5a5a5"/><stop offset="0.3125" stop-color="#b2b2b2"/><stop offset="0.3438" stop-color="#bfbfbf"/><stop offset="0.375" stop-color="#c9c9c9"/><stop offset="0.4062" stop-color="#d2d2d2"/><stop offset="0.4375" stop-color="#d9d9d9"/><stop offset="0.4688" stop-color="#dfdfdf"/><stop offset="0.5" stop-color="#e3e3e3"/><stop offset="0.5312" stop-color="#e4e4e4"/><stop offset="0.5625" stop-color="#e1e1e1"/><stop offset="0.5938" stop-color="#dbdbdb"/><stop offset="0.625" stop-color="#d0d0d0"/><stop offset="0.6562" stop-color="#c3c3c3"/><stop offset="0.6875" stop-color="#b3b3b3"/><stop offset="0.7188" stop-color="#a2a2a2"/><stop offset="0.75" stop-color="#939393"/><stop offset="0.7812" stop-color="#838383"/><stop offset="0.8125" stop-color="#737373"/><stop offset="0.8438" stop-color="#636363"/><stop offset="0.875" stop-color="#535353"/><stop offset="0.9062" stop-color="#424242"/><stop offset="0.9375" stop-color="#373737"/><stop offset="0.9688" stop-color="#2e2e2e"/><stop offset="1" stop-color="#292929"/></linearGradient>
<linearGradient id="g49" gradientUnits="userSpaceOnUse" x1="0" y1="0" x2="1" y2="0" gradientTransform="matrix(577.770 -98.819 98.577 424.200 426.264 709.188)"><stop offset="0" stop-color="#272727"/><stop offset="0.03125" stop-color="#333333"/><stop offset="0.0625" stop-color="#414141"/><stop offset="0.09375" stop-color="#4e4e4e"/><stop offset="0.125" stop-color="#5b5b5b"/><stop offset="0.1562" stop-color="#6b6b6b"/><stop offset="0.1875" stop-color="#7b7b7b"/><stop offset="0.2188" stop-color="#898989"/><stop offset="0.25" stop-color="#989898"/><stop offset="0.2812" stop-color="#a5a5a5"/><stop offset="0.3125" stop-color="#b2b2b2"/><stop offset="0.3438" stop-color="#bebebe"/><stop offset="0.375" stop-color="#c9c9c9"/><stop offset="0.4062" stop-color="#d2d2d2"/><stop offset="0.4375" stop-color="#d9d9d9"/><stop offset="0.4688" stop-color="#dfdfdf"/><stop offset="0.5" stop-color="#e2e2e2"/><stop offset="0.5312" stop-color="#e2e2e2"/><stop offset="0.5625" stop-color="#dfdfdf"/><stop offset="0.5938" stop-color="#d9d9d9"/><stop offset="0.625" stop-color="#cfcfcf"/><stop offset="0.6562" stop-color="#c2c2c2"/><stop offset="0.6875" stop-color="#b2b2b2"/><stop offset="0.7188" stop-color="#a2a2a2"/><stop offset="0.75" stop-color="#939393"/><stop offset="0.7812" stop-color="#848484"/><stop offset="0.8125" stop-color="#747474"/><stop offset="0.8438" stop-color="#656565"/><stop offset="0.875" stop-color="#545454"/><stop offset="0.9062" stop-color="#444444"/><stop offset="0.9375" stop-color="#383838"/><stop offset="0.9688" stop-color="#2f2f2f"/><stop offset="1" stop-color="#2a2a2a"/></linearGradient>
<linearGradient id="g50" gradientUnits="userSpaceOnUse" x1="0" y1="0" x2="1" y2="0" gradientTransform="matrix(578.000 -98.791 98.501 424.200 427.842 716.401)"><stop offset="0" stop-color="#282828"/><stop offset="0.03125" stop-color="#343434"/><stop offset="0.0625" stop-color="#414141"/><stop offset="0.09375" stop-color="#4e4e4e"/><stop offset="0.125" stop-color="#5c5c5c"/><stop offset="0.1562" stop-color="#6b6b6b"/><stop offset="0.1875" stop-color="#7b7b7b"/><stop offset="0.2188" stop-color="#898989"/><stop offset="0.25" stop-color="#979797"/><stop offset="0.2812" stop-color="#a5a5a5"/><stop offset="0.3125" stop-color="#b1b1b1"/><stop offset="0.3438" stop-color="#bebebe"/><stop offset="0.375" stop-color="#c8c8c8"/><stop offset="0.4062" stop-color="#d1d1d1"/><stop offset="0.4375" stop-color="#d8d8d8"/><stop offset="0.4688" stop-color="#dedede"/><stop offset="0.5" stop-color="#e1e1e1"/><stop offset="0.5312" stop-color="#e1e1e1"/><stop offset="0.5625" stop-color="#dddddd"/><stop offset="0.5938" stop-color="#d8d8d8"/><stop offset="0.625" stop-color="#cecece"/><stop offset="0.6562" stop-color="#c2c2c2"/><stop offset="0.6875" stop-color="#b2b2b2"/><stop offset="0.7188" stop-color="#a2a2a2"/><stop offset="0.75" stop-color="#939393"/><stop offset="0.7812" stop-color="#848484"/><stop offset="0.8125" stop-color="#757575"/><stop offset="0.8438" stop-color="#666666"/><stop offset="0.875" stop-color="#565656"/><stop offset="0.9062" stop-color="#464646"/><stop offset="0.9375" stop-color="#393939"/><stop offset="0.9688" stop-color="#313131"/><stop offset="1" stop-color="#2b2b2b"/></linearGradient>
<linearGradient id="g51" gradientUnits="userSpaceOnUse" x1="0" y1="0" x2="1" y2="0" gradientTransform="matrix(578.236 -98.764 98.425 424.200 429.417 723.615)"><stop offset="0" stop-color="#282828"/><stop offset="0.03125" stop-color="#343434"/><stop offset="0.0625" stop-color="#424242"/><stop offset="0.09375" stop-color="#4f4f4f"/><stop offset="0.125" stop-color="#5c5c5c"/><stop offset="0.1562" stop-color="#6b6b6b"/><stop offset="0.1875" stop-color="#7b7b7b"/><stop offset="0.2188" stop-color="#898989"/><stop offset="0.25" stop-color="#979797"/><stop offset="0.2812" stop-color="#a4a4a4"/><stop offset="0.3125" stop-color="#b1b1b1"/><stop offset="0.3438" stop-color="#bdbdbd"/><stop offset="0.375" stop-color="#c7c7c7"/><stop offset="0.4062" stop-color="#d0d0d0"/><stop offset="0.4375" stop-color="#d8d8d8"/><stop offset="0.4688" stop-color="#dddddd"/><stop offset="0.5" stop-color="#e0e0e0"/><stop offset="0.5312" stop-color="#e0e0e0"/><stop offset="0.5625" stop-color="#dcdcdc"/><stop offset="0.5938" stop-color="#d6d6d6"/><stop offset="0.625" stop-color="#cdcdcd"/><stop offset="0.6562" stop-color="#c1c1c1"/><stop offset="0.6875" stop-color="#b2b2b2"/><stop offset="0.7188" stop-color="#a2a2a2"/><stop offset="0.75" stop-color="#949494"/><stop offset="0.7812" stop-color="#858585"/><stop offset="0.8125" stop-color="#767676"/><stop offset="0.8438" stop-color="#676767"/><stop offset="0.875" stop-color="#575757"/><stop offset="0.9062" stop-color="#474747"/><stop offset="0.9375" stop-color="#3b3b3b"/><stop offset="0.9688" stop-color="#323232"/><stop offset="1" stop-color="#2d2d2d"/></linearGradient>
<linearGradient id="g52" gradientUnits="userSpaceOnUse" x1="0" y1="0" x2="1" y2="0" gradientTransform="matrix(578.478 -98.736 98.350 424.200 430.987 730.829)"><stop offset="0" stop-color="#292929"/><stop offset="0.03125" stop-color="#353535"/><stop offset="0.0625" stop-color="#424242"/><stop offset="0.09375" stop-color="#4f4f4f"/><stop offset="0.125" stop-color="#5d5d5d"/><stop offset="0.1562" stop-color="#6c6c6c"/><stop offset="0.1875" stop-color="#7b7b7b"/><stop offset="0.2188" stop-color="#898989"/><stop offset="0.25" stop-color="#969696"/><stop offset="0.2812" stop-color="#a4a4a4"/><stop offset="0.3125" stop-color="#b0b0b0"/><stop offset="0.3438" stop-color="#bcbcbc"/><stop offset="0.375" stop-color="#c7c7c7"/><stop offset="0.4062" stop-color="#d0d0d0"/><stop offset="0.4375" stop-color="#d7d7d7"/><stop offset="0.4688" stop-color="#dcdcdc"/><stop offset="0.5" stop-color="#dfdfdf"/><stop offset="0.5312" stop-color="#dfdfdf"/><stop offset="0.5625" stop-color="#dbdbdb"/><stop offset="0.5938" stop-color="#d5d5d5"/><stop offset="0.625" stop-color="#cccccc"/><stop offset="0.6562" stop-color="#c0c0c0"/><stop offset="0.6875" stop-color="#b1b1b1"/><stop offset="0.7188" stop-color="#a2a2a2"/><stop offset="0.75" stop-color="#949494"/><stop offset="0.7812" stop-color="#858585"/><stop offset="0.8125" stop-color="#777777"/><stop offset="0.8438" stop-color="#686868"/><stop offset="0.875" stop-color="#595959"/><stop offset="0.9062" stop-color="#494949"/><stop offset="0.9375" stop-color="#3d3d3d"/><stop offset="0.9688" stop-color="#343434"/><stop offset="1" stop-color="#2e2e2e"/></linearGradient>
<linearGradient id="g53" gradientUnits="userSpaceOnUse" x1="0" y1="0" x2="1" y2="0" gradientTransform="matrix(578.726 -98.709 98.274 424.200 432.553 738.042)"><stop offset="0" stop-color="#2a2a2a"/><stop offset="0.03125" stop-color="#363636"/><stop offset="0.0625" stop-color="#434343"/><stop offset="0.09375" stop-color="#505050"/><stop offset="0.125" stop-color="#5d5d5d"/><stop offset="0.1562" stop-color="#6c6c6c"/><stop offset="0.1875" stop-color="#7b7b7b"/><stop offset="0.2188" stop-color="#898989"/><stop offset="0.25" stop-color="#969696"/><stop offset="0.2812" stop-color="#a3a3a3"/><stop offset="0.3125" stop-color="#afafaf"/><stop offset="0.3438" stop-color="#bcbcbc"/><stop offset="0.375" stop-color="#c6c6c6"/><stop offset="0.4062" stop-color="#cfcfcf"/><stop offset="0.4375" stop-color="#d6d6d6"/><stop offset="0.4688" stop-color="#dbdbdb"/><stop offset="0.5" stop-color="#dedede"/><stop offset="0.5312" stop-color="#dddddd"/><stop offset="0.5625" stop-color="#dadada"/><stop offset="0.5938" stop-color="#d4d4d4"/><stop offset="0.625" stop-color="#cbcbcb"/><stop offset="0.6562" stop-color="#c0c0c0"/><stop offset="0.6875" stop-color="#b1b1b1"/><stop offset="0.7188" stop-color="#a2a2a2"/><stop offset="0.75" stop-color="#949494"/><stop offset="0.7812" stop-color="#868686"/><stop offset="0.8125" stop-color="#777777"/><stop offset="0.8438" stop-color="#696969"/><stop offset="0.875" stop-color="#5a5a5a"/><stop offset="0.9062" stop-color="#4b4b4b"/><stop offset="0.9375" stop-color="#3e3e3e"/><stop offset="0.9688" stop-color="#353535"/><stop offset="1" stop-color="#2f2f2f"/></linearGradient>
<linearGradient id="g54" gradientUnits="userSpaceOnUse" x1="0" y1="0" x2="1" y2="0" gradientTransform="matrix(578.980 -98.681 98.198 424.200 434.114 745.256)"><stop offset="0" stop-color="#2a2a2a"/><stop offset="0.03125" stop-color="#363636"/><stop offset="0.0625" stop-color="#434343"/><stop offset="0.09375" stop-color="#505050"/><stop offset="0.125" stop-color="#5e5e5e"/><stop offset="0.1562" stop-color="#6c6c6c"/><stop offset="0.1875" stop-color="#7b7b7b"/><stop offset="0.2188" stop-color="#888888"/><stop offset="0.25" stop-color="#969696"/><stop offset="0.2812" stop-color="#a2a2a2"/><stop offset="0.3125" stop-color="#afafaf"/><stop offset="0.3438" stop-color="#bbbbbb"/><stop offset="0.375" stop-color="#c5c5c5"/><stop offset="0.4062" stop-color="#cfcfcf"/><stop offset="0.4375" stop-color="#d6d6d6"/><stop offset="0.4688" stop-color="#dadada"/><stop offset="0.5" stop-color="#dddddd"/><stop offset="0.5312" stop-color="#dcdcdc"/><stop offset="0.5625" stop-color="#d8d8d8"/><stop offset="0.5938" stop-color="#d3d3d3"/><stop offset="0.625" stop-color="#cacaca"/><stop offset="0.6562" stop-color="#bfbfbf"/><stop offset="0.6875" stop-color="#b1b1b1"/><stop offset="0.7188" stop-color="#a3a3a3"/><stop offset="0.75" stop-color="#959595"/><stop offset="0.7812" stop-color="#868686"/><stop offset="0.8125" stop-color="#787878"/><stop offset="0.8438" stop-color="#6a6a6a"/><stop offset="0.875" stop-color="#5b5b5b"/><stop offset="0.9062" stop-color="#4c4c4c"/><stop offset="0.9375" stop-color="#404040"/><stop offset="0.9688" stop-color="#363636"/><stop offset="1" stop-color="#303030"/></linearGradient>
<linearGradient id="g55" gradientUnits="userSpaceOnUse" x1="0" y1="0" x2="1" y2="0" gradientTransform="matrix(579.240 -98.654 98.123 424.200 435.672 752.469)"><stop offset="0" stop-color="#2b2b2b"/><stop offset="0.03125" stop-color="#373737"/><stop offset="0.0625" stop-color="#444444"/><stop offset="0.09375" stop-color="#515151"/><stop offset="0.125" stop-color="#5e5e5e"/><stop offset="0.1562" stop-color="#6d6d6d"/><stop offset="0.1875" stop-color="#7b7b7b"/><stop offset="0.2188" stop-color="#888888"/><stop offset="0.25" stop-color="#959595"/><stop offset="0.2812" stop-color="#a2a2a2"/><stop offset="0.3125" stop-color="#aeaeae"/><stop offset="0.3438" stop-color="#bababa"/><stop offset="0.375" stop-color="#c5c5c5"/><stop offset="0.4062" stop-color="#cecece"/><stop offset="0.4375" stop-color="#d5d5d5"/><stop offset="0.4688" stop-color="#d9d9d9"/><stop offset="0.5" stop-color="#dcdcdc"/><stop offset="0.5312" stop-color="#dbdbdb"/><stop offset="0.5625" stop-color="#d7d7d7"/><stop offset="0.5938" stop-color="#d2d2d2"/><stop offset="0.625" stop-color="#c9c9c9"/><stop offset="0.6562" stop-color="#bfbfbf"/><stop offset="0.6875" stop-color="#b1b1b1"/><stop offset="0.7188" stop-color="#a3a3a3"/><stop offset="0.75" stop-color="#959595"/><stop offset="0.7812" stop-color="#878787"/><stop offset="0.8125" stop-color="#797979"/><stop offset="0.8438" stop-color="#6a6a6a"/><stop offset="0.875" stop-color="#5c5c5c"/><stop offset="0.9062" stop-color="#4e4e4e"/><stop offset="0.9375" stop-color="#414141"/><stop offset="0.9688" stop-color="#383838"/><stop offset="1" stop-color="#323232"/></linearGradient>
<linearGradient id="g56" gradientUnits="userSpaceOnUse" x1="0" y1="0" x2="1" y2="0" gradientTransform="matrix(579.505 -98.626 98.047 424.200 437.225 759.683)"><stop offset="0" stop-color="#2c2c2c"/><stop offset="0.03125" stop-color="#373737"/><stop offset="0.0625" stop-color="#444444"/><stop offset="0.09375" stop-color="#515151"/><stop offset="0.125" stop-color="#5f5f5f"/><stop offset="0.1562" stop-color="#6d6d6d"/><stop offset="0.1875" stop-color="#7b7b7b"/><stop offset="0.2188" stop-color="#888888"/><stop offset="0.25" stop-color="#959595"/><stop offset="0.2812" stop-color="#a1a1a1"/><stop offset="0.3125" stop-color="#adadad"/><stop offset="0.3438" stop-color="#b9b9b9"/><stop offset="0.375" stop-color="#c4c4c4"/><stop offset="0.4062" stop-color="#cdcdcd"/><stop offset="0.4375" stop-color="#d4d4d4"/><stop offset="0.4688" stop-color="#d8d8d8"/><stop offset="0.5" stop-color="#dbdbdb"/><stop offset="0.5312" stop-color="#dadada"/><stop offset="0.5625" stop-color="#d6d6d6"/><stop offset="0.5938" stop-color="#d1d1d1"/><stop offset="0.625" stop-color="#c9c9c9"/><stop offset="0.6562" stop-color="#bebebe"/><stop offset="0.6875" stop-color="#b1b1b1"/><stop offset="0.7188" stop-color="#a3a3a3"/><stop offset="0.75" stop-color="#959595"/><stop offset="0.7812" stop-color="#878787"/><stop offset="0.8125" stop-color="#797979"/><stop offset="0.8438" stop-color="#6b6b6b"/><stop offset="0.875" stop-color="#5d5d5d"/><stop offset="0.9062" stop-color="#4f4f4f"/><stop offset="0.9375" stop-color="#434343"/><stop offset="0.9688" stop-color="#393939"/><stop offset="1" stop-color="#333333"/></linearGradient>
<linearGradient id="g57" gradientUnits="userSpaceOnUse" x1="0" y1="0" x2="1" y2="0" gradientTransform="matrix(579.777 -98.599 97.972 424.200 438.773 766.897)"><stop offset="0" stop-color="#2c2c2c"/><stop offset="0.03125" stop-color="#383838"/><stop offset="0.0625" stop-color="#454545"/><stop offset="0.09375" stop-color="#525252"/><stop offset="0.125" stop-color="#5f5f5f"/><stop offset="0.1562" stop-color="#6d6d6d"/><stop offset="0.1875" stop-color="#7b7b7b"/><stop offset="0.2188" stop-color="#888888"/><stop offset="0.25" stop-color="#959595"/><stop offset="0.2812" stop-color="#a1a1a1"/><stop offset="0.3125" stop-color="#adadad"/><stop offset="0.3438" stop-color="#b9b9b9"/><stop offset="0.375" stop-color="#c3c3c3"/><stop offset="0.4062" stop-color="#cccccc"/><stop offset="0.4375" stop-color="#d3d3d3"/><stop offset="0.4688" stop-color="#d7d7d7"/><stop offset="0.5" stop-color="#dadada"/><stop offset="0.5312" stop-color="#d9d9d9"/><stop offset="0.5625" stop-color="#d5d5d5"/><stop offset="0.5938" stop-color="#d0d0d0"/><stop offset="0.625" stop-color="#c8c8c8"/><stop offset="0.6562" stop-color="#bebebe"/><stop offset="0.6875" stop-color="#b1b1b1"/><stop offset="0.7188" stop-color="#a3a3a3"/><stop offset="0.75" stop-color="#959595"/><stop offset="0.7812" stop-color="#888888"/><stop offset="0.8125" stop-color="#7a7a7a"/><stop offset="0.8438" stop-color="#6c6c6c"/><stop offset="0.875" stop-color="#5e5e5e"/><stop offset="0.9062" stop-color="#515151"/><stop offset="0.9375" stop-color="#444444"/><stop offset="0.9688" stop-color="#3a3a3a"/><stop offset="1" stop-color="#343434"/></linearGradient>
<linearGradient id="g58" gradientUnits="userSpaceOnUse" x1="0" y1="0" x2="1" y2="0" gradientTransform="matrix(580.054 -98.571 97.896 424.200 440.318 774.110)"><stop offset="0" stop-color="#2d2d2d"/><stop offset="0.03125" stop-color="#383838"/><stop offset="0.0625" stop-color="#454545"/><stop offset="0.09375" stop-color="#525252"/><stop offset="0.125" stop-color="#5f5f5f"/><stop offset="0.1562" stop-color="#6d6d6d"/><stop offset="0.1875" stop-color="#7b7b7b"/><stop offset="0.2188" stop-color="#888888"/><stop offset="0.25" stop-color="#949494"/><stop offset="0.2812" stop-color="#a0a0a0"/><stop offset="0.3125" stop-color="#acacac"/><stop offset="0.3438" stop-color="#b8b8b8"/><stop offset="0.375" stop-color="#c3c3c3"/><stop offset="0.4062" stop-color="#cbcbcb"/><stop offset="0.4375" stop-color="#d2d2d2"/><stop offset="0.4688" stop-color="#d6d6d6"/><stop offset="0.5" stop-color="#d8d8d8"/><stop offset="0.5312" stop-color="#d8d8d8"/><stop offset="0.5625" stop-color="#d4d4d4"/><stop offset="0.5938" stop-color="#cfcfcf"/><stop offset="0.625" stop-color="#c7c7c7"/><stop offset="0.6562" stop-color="#bebebe"/><stop offset="0.6875" stop-color="#b0b0b0"/><stop offset="0.7188" stop-color="#a3a3a3"/><stop offset="0.75" stop-color="#969696"/><stop offset="0.7812" stop-color="#888888"/><stop offset="0.8125" stop-color="#7a7a7a"/><stop offset="0.8438" stop-color="#6d6d6d"/><stop offset="0.875" stop-color="#5f5f5f"/><stop offset="0.9062" stop-color="#525252"/><stop offset="0.9375" stop-color="#454545"/><stop offset="0.9688" stop-color="#3b3b3b"/><stop offset="1" stop-color="#353535"/></linearGradient>
<linearGradient id="g59" gradientUnits="userSpaceOnUse" x1="0" y1="0" x2="1" y2="0" gradientTransform="matrix(580.337 -98.544 97.820 424.200 441.858 781.324)"><stop offset="0" stop-color="#2e2e2e"/><stop offset="0.03125" stop-color="#393939"/><stop offset="0.0625" stop-color="#454545"/><stop offset="0.09375" stop-color="#525252"/><stop offset="0.125" stop-color="#606060"/><stop offset="0.1562" stop-color="#6d6d6d"/><stop offset="0.1875" stop-color="#7b7b7b"/><stop offset="0.2188" stop-color="#888888"/><stop offset="0.25" stop-color="#949494"/><stop offset="0.2812" stop-color="#a0a0a0"/><stop offset="0.3125" stop-color="#acacac"/><stop offset="0.3438" stop-color="#b8b8b8"/><stop offset="0.375" stop-color="#c2c2c2"/><stop offset="0.4062" stop-color="#cacaca"/><stop offset="0.4375" stop-color="#d1d1d1"/><stop offset="0.4688" stop-color="#d5d5d5"/><stop offset="0.5" stop-color="#d7d7d7"/><stop offset="0.5312" stop-color="#d7d7d7"/><stop offset="0.5625" stop-color="#d3d3d3"/><stop offset="0.5938" stop-color="#cecece"/><stop offset="0.625" stop-color="#c7c7c7"/><stop offset="0.6562" stop-color="#bdbdbd"/><stop offset="0.6875" stop-color="#b0b0b0"/><stop offset="0.7188" stop-color="#a3a3a3"/><stop offset="0.75" stop-color="#969696"/><stop offset="0.7812" stop-color="#888888"/><stop offset="0.8125" stop-color="#7b7b7b"/><stop offset="0.8438" stop-color="#6d6d6d"/><stop offset="0.875" stop-color="#606060"/><stop offset="0.9062" stop-color="#535353"/><stop offset="0.9375" stop-color="#464646"/><stop offset="0.9688" stop-color="#3c3c3c"/><stop offset="1" stop-color="#363636"/></linearGradient>
<linearGradient id="g60" gradientUnits="userSpaceOnUse" x1="0" y1="0" x2="1" y2="0" gradientTransform="matrix(580.626 -98.516 97.745 424.200 443.394 788.537)"><stop offset="0" stop-color="#2e2e2e"/><stop offset="0.03125" stop-color="#393939"/><stop offset="0.0625" stop-color="#454545"/><stop offset="0.09375" stop-color="#535353"/><stop offset="0.125" stop-color="#606060"/><stop offset="0.1562" stop-color="#6e6e6e"/><stop offset="0.1875" stop-color="#7b7b7b"/><stop offset="0.2188" stop-color="#888888"/><stop offset="0.25" stop-color="#949494"/><stop offset="0.2812" stop-color="#a0a0a0"/><stop offset="0.3125" stop-color="#ababab"/><stop offset="0.3438" stop-color="#b8b8b8"/><stop offset="0.375" stop-color="#c2c2c2"/><stop offset="0.4062" stop-color="#cacaca"/><stop offset="0.4375" stop-color="#d0d0d0"/><stop offset="0.4688" stop-color="#d4d4d4"/><stop offset="0.5" stop-color="#d7d7d7"/><stop offset="0.5312" stop-color="#d6d6d6"/><stop offset="0.5625" stop-color="#d3d3d3"/><stop offset="0.5938" stop-color="#cdcdcd"/><stop offset="0.625" stop-color="#c7c7c7"/><stop offset="0.6562" stop-color="#bdbdbd"/><stop offset="0.6875" stop-color="#b0b0b0"/><stop offset="0.7188" stop-color="#a3a3a3"/><stop offset="0.75" stop-color="#969696"/><stop offset="0.7812" stop-color="#898989"/><stop offset="0.8125" stop-color="#7b7b7b"/><stop offset="0.8438" stop-color="#6e6e6e"/><stop offset="0.875" stop-color="#606060"/><stop offset="0.9062" stop-color="#535353"/><stop offset="0.9375" stop-color="#474747"/><stop offset="0.9688" stop-color="#3d3d3d"/><stop offset="1" stop-color="#373737"/></linearGradient>
<linearGradient id="g61" gradientUnits="userSpaceOnUse" x1="0" y1="0" x2="1" y2="0" gradientTransform="matrix(580.921 -98.489 97.669 424.200 444.926 795.751)"><stop offset="0" stop-color="#2e2e2e"/><stop offset="0.03125" stop-color="#393939"/><stop offset="0.0625" stop-color="#464646"/><stop offset="0.09375" stop-color="#535353"/><stop offset="0.125" stop-color="#606060"/><stop offset="0.1562" stop-color="#6e6e6e"/><stop offset="0.1875" stop-color="#7b7b7b"/><stop offset="0.2188" stop-color="#888888"/><stop offset="0.25" stop-color="#949494"/><stop offset="0.2812" stop-color="#9f9f9f"/><stop offset="0.3125" stop-color="#ababab"/><stop offset="0.3438" stop-color="#b7b7b7"/><stop offset="0.375" stop-color="#c2c2c2"/><stop offset="0.4062" stop-color="#c9c9c9"/><stop offset="0.4375" stop-color="#cfcfcf"/><stop offset="0.4688" stop-color="#d4d4d4"/><stop offset="0.5" stop-color="#d6d6d6"/><stop offset="0.5312" stop-color="#d6d6d6"/><stop offset="0.5625" stop-color="#d2d2d2"/><stop offset="0.5938" stop-color="#cdcdcd"/><stop offset="0.625" stop-color="#c6c6c6"/><stop offset="0.6562" stop-color="#bdbdbd"/><stop offset="0.6875" stop-color="#b0b0b0"/><stop offset="0.7188" stop-color="#a3a3a3"/><stop offset="0.75" stop-color="#969696"/><stop offset="0.7812" stop-color="#898989"/><stop offset="0.8125" stop-color="#7b7b7b"/><stop offset="0.8438" stop-color="#6e6e6e"/><stop offset="0.875" stop-color="#606060"/><stop offset="0.9062" stop-color="#545454"/><stop offset="0.9375" stop-color="#474747"/><stop offset="0.9688" stop-color="#3d3d3d"/><stop offset="1" stop-color="#373737"/></linearGradient>
<linearGradient id="g62" gradientUnits="userSpaceOnUse" x1="0" y1="0" x2="1" y2="0" gradientTransform="matrix(581.222 -98.461 97.593 424.200 446.454 802.965)"><stop offset="0" stop-color="#2e2e2e"/><stop offset="0.03125" stop-color="#393939"/><stop offset="0.0625" stop-color="#464646"/><stop offset="0.09375" stop-color="#535353"/><stop offset="0.125" stop-color="#606060"/><stop offset="0.1562" stop-color="#6e6e6e"/><stop offset="0.1875" stop-color="#7b7b7b"/><stop offset="0.2188" stop-color="#888888"/><stop offset="0.25" stop-color="#949494"/><stop offset="0.2812" stop-color="#9f9f9f"/><stop offset="0.3125" stop-color="#ababab"/><stop offset="0.3438" stop-color="#b7b7b7"/><stop offset="0.375" stop-color="#c2c2c2"/><stop offset="0.4062" stop-color="#c9c9c9"/><stop offset="0.4375" stop-color="#cfcfcf"/><stop offset="0.4688" stop-color="#d4d4d4"/><stop offset="0.5" stop-color="#d6d6d6"/><stop offset="0.5312" stop-color="#d6d6d6"/><stop offset="0.5625" stop-color="#d2d2d2"/><stop offset="0.5938" stop-color="#cdcdcd"/><stop offset="0.625" stop-color="#c6c6c6"/><stop offset="0.6562" stop-color="#bdbdbd"/><stop offset="0.6875" stop-color="#b0b0b0"/><stop offset="0.7188" stop-color="#a3a3a3"/><stop offset="0.75" stop-color="#969696"/><stop offset="0.7812" stop-color="#898989"/><stop offset="0.8125" stop-color="#7b7b7b"/><stop offset="0.8438" stop-color="#6e6e6e"/><stop offset="0.875" stop-color="#606060"/><stop offset="0.9062" stop-color="#545454"/><stop offset="0.9375" stop-color="#474747"/><stop offset="0.9688" stop-color="#3d3d3d"/><stop offset="1" stop-color="#373737"/></linearGradient>
<linearGradient id="g63" gradientUnits="userSpaceOnUse" x1="0" y1="0" x2="1" y2="0" gradientTransform="matrix(581.529 -98.434 97.518 424.200 447.977 810.178)"><stop offset="0" stop-color="#2e2e2e"/><stop offset="0.03125" stop-color="#393939"/><stop offset="0.0625" stop-color="#464646"/><stop offset="0.09375" stop-color="#535353"/><stop offset="0.125" stop-color="#606060"/><stop offset="0.1562" stop-color="#6e6e6e"/><stop offset="0.1875" stop-color="#7b7b7b"/><stop offset="0.2188" stop-color="#888888"/><stop offset="0.25" stop-color="#949494"/><stop offset="0.2812" stop-color="#9f9f9f"/><stop offset="0.3125" stop-color="#ababab"/><stop offset="0.3438" stop-color="#b7b7b7"/><stop offset="0.375" stop-color="#c2c2c2"/><stop offset="0.4062" stop-color="#c9c9c9"/><stop offset="0.4375" stop-color="#cfcfcf"/><stop offset="0.4688" stop-color="#d4d4d4"/><stop offset="0.5" stop-color="#d6d6d6"/><stop offset="0.5312" stop-color="#d6d6d6"/><stop offset="0.5625" stop-color="#d2d2d2"/><stop offset="0.5938" stop-color="#cdcdcd"/><stop offset="0.625" stop-color="#c6c6c6"/><stop offset="0.6562" stop-color="#bdbdbd"/><stop offset="0.6875" stop-color="#b0b0b0"/><stop offset="0.7188" stop-color="#a3a3a3"/><stop offset="0.75" stop-color="#969696"/><stop offset="0.7812" stop-color="#898989"/><stop offset="0.8125" stop-color="#7b7b7b"/><stop offset="0.8438" stop-color="#6e6e6e"/><stop offset="0.875" stop-color="#606060"/><stop offset="0.9062" stop-color="#545454"/><stop offset="0.9375" stop-color="#474747"/><stop offset="0.9688" stop-color="#3d3d3d"/><stop offset="1" stop-color="#373737"/></linearGradient>
<filter id="noise" filterUnits="userSpaceOnUse" x="300" y="230" width="780" height="610" color-interpolation-filters="sRGB">
<feTurbulence type="fractalNoise" baseFrequency="0.03 0.16" numOctaves="2" seed="7" result="t1"/>
<feColorMatrix in="t1" type="matrix" values="1 0 0 0 0  1 0 0 0 0  1 0 0 0 0  0 0 0 0 1" result="n1"/>
<feTurbulence type="fractalNoise" baseFrequency="0.2 0.2" numOctaves="2" seed="23" result="t2"/>
<feColorMatrix in="t2" type="matrix" values="1 0 0 0 0  1 0 0 0 0  1 0 0 0 0  0 0 0 0 1" result="n2"/>
<feComposite in="SourceGraphic" in2="n1" operator="arithmetic" k1="0" k2="1" k3="0.05" k4="-0.025" result="v1"/>
<feComposite in="v1" in2="n2" operator="arithmetic" k1="0" k2="1" k3="0.07" k4="-0.035" result="v"/>
<feComponentTransfer in="v">
<feFuncR type="table" tableValues="0 0 0 0 0 0 0 0 0 0 0 0 0 0 0 0 0 0 0 0 0 0 0 0 0 0 0 0 0 0 0 0 0 0 0 0 0 0 0 0 0 0 0 0 0 0 0 0 0 0 0 0 0 0 0 0 0 0 0 0 0 0 0 0 0 0 0 0 0 0 0 0.016 0.032 0.048 0.065 0.081 0.097 0.113 0.129 0.145 0.161 0.177 0.194 0.21 0.226 0.242 0.258 0.274 0.29 0.306 0.323 0.339 0.355 0.371 0.387 0.403 0.419 0.435 0.452 0.468 0.484 0.5 0.516 0.532 0.548 0.565 0.581 0.597 0.613 0.629 0.645 0.661 0.677 0.694 0.71 0.726 0.742 0.758 0.774 0.79 0.806 0.823 0.839 0.855 0.871 0.887 0.903 0.919 0.935 0.952 0.968 0.984 1 1 1 1 1 1 1 1 1 1 1 1 1 1 1 1 1 1 1 1 1 1 1 1 1 1 1 1 1 1 1 1 1 1 1 1 1 1 1 1 1 1 1 1 1 1 1 0.977 0.955 0.932 0.909 0.886 0.864 0.841 0.818 0.795 0.773 0.75 0.727 0.705 0.682 0.659 0.636 0.614 0.591 0.568 0.545 0.523 0.5"/>
<feFuncG type="table" tableValues="0 0 0 0 0 0 0 0 0 0 0 0 0 0 0 0 0 0 0 0 0 0 0 0 0 0 0.02 0.04 0.06 0.08 0.1 0.12 0.14 0.16 0.18 0.2 0.22 0.24 0.26 0.28 0.3 0.32 0.34 0.36 0.38 0.4 0.42 0.44 0.46 0.48 0.5 0.52 0.54 0.56 0.58 0.6 0.62 0.64 0.66 0.68 0.7 0.72 0.74 0.76 0.78 0.8 0.82 0.84 0.86 0.88 0.9 0.92 0.94 0.96 0.98 1 1 1 1 1 1 1 1 1 1 1 1 1 1 1 1 1 1 1 1 1 1 1 1 1 1 1 1 1 1 1 1 1 1 1 1 1 1 1 1 1 1 1 1 1 1 1 1 1 1 1 1 1 1 0.981 0.963 0.944 0.926 0.907 0.889 0.87 0.852 0.833 0.815 0.796 0.778 0.759 0.741 0.722 0.704 0.685 0.667 0.648 0.63 0.611 0.593 0.574 0.556 0.537 0.519 0.5 0.481 0.463 0.444 0.426 0.407 0.389 0.37 0.352 0.333 0.315 0.296 0.278 0.259 0.241 0.222 0.204 0.185 0.167 0.148 0.13 0.111 0.093 0.074 0.056 0.037 0.019 0 0 0 0 0 0 0 0 0 0 0 0 0 0 0 0 0 0 0"/>
<feFuncB type="table" tableValues="0.5 0.523 0.545 0.568 0.591 0.614 0.636 0.659 0.682 0.705 0.727 0.75 0.773 0.795 0.818 0.841 0.864 0.886 0.909 0.932 0.955 0.977 1 1 1 1 1 1 1 1 1 1 1 1 1 1 1 1 1 1 1 1 1 1 1 1 1 1 1 1 1 1 1 1 1 1 1 1 1 1 1 1 1 1 1 1 1 1 1 0.984 0.968 0.952 0.935 0.919 0.903 0.887 0.871 0.855 0.839 0.823 0.806 0.79 0.774 0.758 0.742 0.726 0.71 0.694 0.677 0.661 0.645 0.629 0.613 0.597 0.581 0.565 0.548 0.532 0.516 0.5 0.484 0.468 0.452 0.435 0.419 0.403 0.387 0.371 0.355 0.339 0.323 0.306 0.29 0.274 0.258 0.242 0.226 0.21 0.194 0.177 0.161 0.145 0.129 0.113 0.097 0.081 0.065 0.048 0.032 0.016 0 0 0 0 0 0 0 0 0 0 0 0 0 0 0 0 0 0 0 0 0 0 0 0 0 0 0 0 0 0 0 0 0 0 0 0 0 0 0 0 0 0 0 0 0 0 0 0 0 0 0 0 0 0 0 0 0 0 0 0 0 0 0 0 0 0 0 0 0 0 0"/>
</feComponentTransfer>
</filter>

</defs>
<rect width="1400" height="1050" fill="#fff"/>
<g clip-path="url(#sw)"><g transform="rotate(-9.9 686 533)" filter="url(#noise)"><g transform="rotate(9.9 686 533)">
<path d="M313.7,355.8 L392.6,341.1 L471.5,326.6 L550.4,312.4 L629.3,298.4 L708.2,284.8 L787.1,271.5 L866.0,258.4 L944.9,245.6 L947.4,256.2 L868.5,269.0 L789.6,282.1 L710.7,295.5 L631.9,309.1 L553.0,323.0 L474.1,337.2 L395.2,351.7 L316.3,366.4Z" fill="url(#g0)"/>
<path d="M315.5,363.0 L394.4,348.3 L473.3,333.8 L552.2,319.6 L631.0,305.7 L709.9,292.1 L788.8,278.7 L867.7,265.7 L946.6,252.9 L949.1,263.5 L870.2,276.3 L791.4,289.4 L712.5,302.8 L633.6,316.4 L554.7,330.3 L475.9,344.5 L397.0,358.9 L318.1,373.6Z" fill="url(#g1)"/>
<path d="M317.3,370.2 L396.2,355.5 L475.0,341.1 L553.9,326.9 L632.8,313.0 L711.7,299.4 L790.6,286.0 L869.4,272.9 L948.3,260.1 L950.8,270.7 L872.0,283.6 L793.1,296.7 L714.2,310.1 L635.4,323.7 L556.5,337.6 L477.6,351.7 L398.8,366.1 L319.9,380.8Z" fill="url(#g2)"/>
<path d="M319.1,377.4 L397.9,362.8 L476.8,348.4 L555.7,334.2 L634.6,320.3 L713.4,306.7 L792.3,293.3 L871.2,280.2 L950.0,267.3 L952.6,277.9 L873.7,290.8 L794.8,304.0 L716.0,317.4 L637.1,331.0 L558.3,344.9 L479.4,359.0 L400.5,373.4 L321.7,388.0Z" fill="url(#g3)"/>
<path d="M320.8,384.6 L399.7,370.0 L478.6,355.6 L557.4,341.5 L636.3,327.6 L715.2,314.0 L794.0,300.6 L872.9,287.4 L951.8,274.6 L954.3,285.1 L875.4,298.1 L796.6,311.3 L717.7,324.7 L638.9,338.3 L560.0,352.2 L481.2,366.3 L402.3,380.6 L323.4,395.2Z" fill="url(#g4)"/>
<path d="M322.6,391.8 L401.5,377.2 L480.3,362.9 L559.2,348.8 L638.1,334.9 L716.9,321.3 L795.8,307.9 L874.6,294.7 L953.5,281.8 L956.0,292.4 L877.2,305.3 L798.3,318.5 L719.5,331.9 L640.6,345.6 L561.8,359.4 L482.9,373.5 L404.1,387.8 L325.2,402.4Z" fill="url(#g5)"/>
<path d="M324.4,399.0 L403.2,384.5 L482.1,370.2 L561.0,356.1 L639.8,342.2 L718.7,328.6 L797.5,315.1 L876.4,302.0 L955.2,289.0 L957.8,299.6 L878.9,312.6 L800.1,325.8 L721.2,339.2 L642.4,352.9 L563.5,366.7 L484.7,380.8 L405.8,395.1 L327.0,409.6Z" fill="url(#g6)"/>
<path d="M326.2,406.2 L405.0,391.7 L483.9,377.4 L562.7,363.3 L641.6,349.5 L720.4,335.8 L799.3,322.4 L878.1,309.2 L957.0,296.2 L959.5,306.8 L880.7,319.9 L801.8,333.1 L723.0,346.5 L644.1,360.2 L565.3,374.0 L486.4,388.1 L407.6,402.3 L328.7,416.8Z" fill="url(#g7)"/>
<path d="M327.9,413.4 L406.8,399.0 L485.6,384.7 L564.5,370.6 L643.3,356.8 L722.2,343.1 L801.0,329.7 L879.9,316.5 L958.7,303.5 L961.2,314.1 L882.4,327.1 L803.6,340.4 L724.7,353.8 L645.9,367.5 L567.0,381.3 L488.2,395.3 L409.3,409.6 L330.5,424.0Z" fill="url(#g8)"/>
<path d="M329.7,420.6 L408.5,406.2 L487.4,391.9 L566.2,377.9 L645.1,364.1 L723.9,350.4 L802.7,337.0 L881.6,323.7 L960.4,310.7 L963.0,321.3 L884.1,334.4 L805.3,347.6 L726.5,361.1 L647.6,374.7 L568.8,388.6 L489.9,402.6 L411.1,416.8 L332.2,431.2Z" fill="url(#g9)"/>
<path d="M331.4,427.8 L410.3,413.4 L489.1,399.2 L568.0,385.2 L646.8,371.4 L725.6,357.7 L804.5,344.3 L883.3,331.0 L962.2,317.9 L964.7,328.5 L885.9,341.6 L807.0,354.9 L728.2,368.4 L649.4,382.0 L570.5,395.9 L491.7,409.9 L412.8,424.0 L334.0,438.4Z" fill="url(#g10)"/>
<path d="M333.2,435.0 L412.0,420.7 L490.9,406.5 L569.7,392.5 L648.5,378.6 L727.4,365.0 L806.2,351.5 L885.1,338.3 L963.9,325.2 L966.5,335.8 L887.6,348.9 L808.8,362.2 L729.9,375.7 L651.1,389.3 L572.3,403.1 L493.4,417.1 L414.6,431.3 L335.7,445.6Z" fill="url(#g11)"/>
<path d="M334.9,442.2 L413.8,427.9 L492.6,413.7 L571.5,399.8 L650.3,385.9 L729.1,372.3 L808.0,358.8 L886.8,345.5 L965.7,332.4 L968.2,343.0 L889.4,356.2 L810.5,369.5 L731.7,383.0 L652.8,396.6 L574.0,410.4 L495.2,424.4 L416.3,438.5 L337.5,452.8Z" fill="url(#g12)"/>
<path d="M336.7,449.4 L415.5,435.1 L494.3,421.0 L573.2,407.0 L652.0,393.2 L730.9,379.6 L809.7,366.1 L888.6,352.8 L967.4,339.6 L970.0,350.2 L891.1,363.4 L812.3,376.8 L733.4,390.3 L654.6,403.9 L575.7,417.7 L496.9,431.6 L418.0,445.7 L339.2,460.0Z" fill="url(#g13)"/>
<path d="M338.4,456.6 L417.2,442.4 L496.1,428.3 L574.9,414.3 L653.8,400.5 L732.6,386.9 L811.5,373.4 L890.3,360.0 L969.2,346.8 L971.7,357.4 L892.9,370.7 L814.0,384.0 L735.2,397.6 L656.3,411.2 L577.5,425.0 L498.6,438.9 L419.8,453.0 L340.9,467.2Z" fill="url(#g14)"/>
<path d="M340.1,463.8 L419.0,449.6 L497.8,435.5 L576.7,421.6 L655.5,407.8 L734.4,394.2 L813.2,380.7 L892.1,367.3 L970.9,354.1 L973.5,364.7 L894.6,377.9 L815.8,391.3 L736.9,404.8 L658.1,418.5 L579.2,432.3 L500.4,446.2 L421.5,460.2 L342.6,474.4Z" fill="url(#g15)"/>
<path d="M341.8,471.0 L420.7,456.8 L499.6,442.8 L578.4,428.9 L657.3,415.1 L736.1,401.4 L815.0,387.9 L893.8,374.6 L972.7,361.3 L975.2,371.9 L896.4,385.2 L817.5,398.6 L738.7,412.1 L659.8,425.8 L580.9,439.6 L502.1,453.4 L423.2,467.4 L344.4,481.6Z" fill="url(#g16)"/>
<path d="M343.6,478.2 L422.4,464.1 L501.3,450.1 L580.1,436.2 L659.0,422.4 L737.9,408.7 L816.7,395.2 L895.6,381.8 L974.4,368.5 L977.0,379.1 L898.1,392.5 L819.3,405.9 L740.4,419.4 L661.5,433.1 L582.7,446.8 L503.8,460.7 L424.9,474.7 L346.1,488.8Z" fill="url(#g17)"/>
<path d="M345.3,485.4 L424.1,471.3 L503.0,457.3 L581.9,443.4 L660.7,429.7 L739.6,416.0 L818.5,402.5 L897.3,389.1 L976.2,375.8 L978.8,386.4 L899.9,399.7 L821.0,413.2 L742.1,426.7 L663.3,440.4 L584.4,454.1 L505.5,468.0 L426.7,481.9 L347.8,496.0Z" fill="url(#g18)"/>
<path d="M347.0,492.6 L425.9,478.6 L504.7,464.6 L583.6,450.7 L662.5,437.0 L741.3,423.3 L820.2,409.8 L899.1,396.3 L977.9,383.0 L980.5,393.6 L901.6,407.0 L822.8,420.4 L743.9,434.0 L665.0,447.7 L586.1,461.4 L507.3,475.2 L428.4,489.2 L349.5,503.2Z" fill="url(#g19)"/>
<path d="M348.7,499.8 L427.6,485.8 L506.5,471.9 L585.3,458.0 L664.2,444.3 L743.1,430.6 L821.9,417.1 L900.8,403.6 L979.7,390.2 L982.3,400.8 L903.4,414.2 L824.5,427.7 L745.6,441.3 L666.7,454.9 L587.9,468.7 L509.0,482.5 L430.1,496.4 L351.2,510.4Z" fill="url(#g20)"/>
<path d="M350.4,507.0 L429.3,493.0 L508.2,479.1 L587.0,465.3 L665.9,451.6 L744.8,437.9 L823.7,424.3 L902.6,410.8 L981.5,397.5 L984.0,408.0 L905.1,421.5 L826.3,435.0 L747.4,448.6 L668.5,462.2 L589.6,476.0 L510.7,489.8 L431.8,503.6 L352.9,517.6Z" fill="url(#g21)"/>
<path d="M352.1,514.2 L431.0,500.3 L509.9,486.4 L588.8,472.6 L667.7,458.8 L746.6,445.2 L825.4,431.6 L904.3,418.1 L983.2,404.7 L985.8,415.3 L906.9,428.7 L828.0,442.3 L749.1,455.9 L670.2,469.5 L591.3,483.2 L512.4,497.0 L433.5,510.9 L354.6,524.8Z" fill="url(#g22)"/>
<path d="M353.8,521.4 L432.7,507.5 L511.6,493.6 L590.5,479.9 L669.4,466.1 L748.3,452.5 L827.2,438.9 L906.1,425.4 L985.0,411.9 L987.6,422.5 L908.7,436.0 L829.8,449.6 L750.8,463.2 L671.9,476.8 L593.0,490.5 L514.1,504.3 L435.2,518.1 L356.3,532.0Z" fill="url(#g23)"/>
<path d="M355.5,528.6 L434.4,514.7 L513.3,500.9 L592.2,487.1 L671.1,473.4 L750.0,459.8 L828.9,446.2 L907.8,432.6 L986.8,419.1 L989.3,429.7 L910.4,443.3 L831.5,456.8 L752.6,470.5 L673.7,484.1 L594.7,497.8 L515.8,511.6 L436.9,525.3 L358.0,539.2Z" fill="url(#g24)"/>
<path d="M357.2,535.8 L436.1,522.0 L515.0,508.2 L593.9,494.4 L672.8,480.7 L751.8,467.1 L830.7,453.4 L909.6,439.9 L988.5,426.4 L991.1,437.0 L912.2,450.5 L833.2,464.1 L754.3,477.7 L675.4,491.4 L596.4,505.1 L517.5,518.8 L438.6,532.6 L359.6,546.4Z" fill="url(#g25)"/>
<path d="M358.8,543.0 L437.8,529.2 L516.7,515.4 L595.6,501.7 L674.6,488.0 L753.5,474.3 L832.4,460.7 L911.4,447.1 L990.3,433.6 L992.9,444.2 L913.9,457.8 L835.0,471.4 L756.0,485.0 L677.1,498.7 L598.2,512.4 L519.2,526.1 L440.3,539.8 L361.3,553.6Z" fill="url(#g26)"/>
<path d="M360.5,550.2 L439.5,536.4 L518.4,522.7 L597.4,509.0 L676.3,495.3 L755.2,481.6 L834.2,468.0 L913.1,454.4 L992.1,440.8 L994.7,451.4 L915.7,465.0 L836.7,478.7 L757.8,492.3 L678.8,506.0 L599.9,519.7 L520.9,533.3 L441.9,547.0 L363.0,560.8Z" fill="url(#g27)"/>
<path d="M362.2,557.4 L441.2,543.7 L520.1,530.0 L599.1,516.3 L678.0,502.6 L757.0,488.9 L835.9,475.3 L914.9,461.7 L993.8,448.1 L996.5,458.6 L917.5,472.3 L838.5,486.0 L759.5,499.6 L680.5,513.3 L601.6,526.9 L522.6,540.6 L443.6,554.3 L364.6,568.0Z" fill="url(#g28)"/>
<path d="M363.9,564.6 L442.8,550.9 L521.8,537.2 L600.8,523.6 L679.7,509.9 L758.7,496.2 L837.7,482.6 L916.7,468.9 L995.6,455.3 L998.2,465.9 L919.2,479.6 L840.2,493.2 L761.3,506.9 L682.3,520.6 L603.3,534.2 L524.3,547.9 L445.3,561.5 L366.3,575.2Z" fill="url(#g29)"/>
<path d="M365.5,571.8 L444.5,558.2 L523.5,544.5 L602.5,530.8 L681.5,517.2 L760.4,503.5 L839.4,489.8 L918.4,476.2 L997.4,462.5 L1000.0,473.1 L921.0,486.8 L842.0,500.5 L763.0,514.2 L684.0,527.9 L605.0,541.5 L526.0,555.1 L447.0,568.8 L367.9,582.4Z" fill="url(#g30)"/>
<path d="M367.2,579.0 L446.2,565.4 L525.2,551.8 L604.2,538.1 L683.2,524.5 L762.2,510.8 L841.2,497.1 L920.2,483.4 L999.2,469.7 L1001.8,480.3 L922.8,494.1 L843.8,507.8 L764.7,521.5 L685.7,535.1 L606.7,548.8 L527.6,562.4 L448.6,576.0 L369.6,589.6Z" fill="url(#g31)"/>
<path d="M368.8,586.2 L447.8,572.6 L526.9,559.0 L605.9,545.4 L684.9,531.8 L763.9,518.1 L842.9,504.4 L922.0,490.7 L1001.0,477.0 L1003.6,487.6 L924.5,501.3 L845.5,515.1 L766.5,528.8 L687.4,542.4 L608.4,556.1 L529.3,569.7 L450.3,583.2 L371.2,596.8Z" fill="url(#g32)"/>
<path d="M370.5,593.4 L449.5,579.9 L528.5,566.3 L607.6,552.7 L686.6,539.0 L765.7,525.4 L844.7,511.7 L923.7,498.0 L1002.8,484.2 L1005.4,494.8 L926.3,508.6 L847.3,522.3 L768.2,536.1 L689.1,549.7 L610.1,563.4 L531.0,576.9 L451.9,590.5 L372.9,604.0Z" fill="url(#g33)"/>
<path d="M372.1,600.6 L451.2,587.1 L530.2,573.5 L609.3,560.0 L688.3,546.3 L767.4,532.7 L846.4,519.0 L925.5,505.2 L1004.5,491.4 L1007.2,502.0 L928.1,515.9 L849.0,529.6 L769.9,543.4 L690.8,557.0 L611.8,570.6 L532.7,584.2 L453.6,597.7 L374.5,611.2Z" fill="url(#g34)"/>
<path d="M373.8,607.8 L452.8,594.3 L531.9,580.8 L611.0,567.2 L690.0,553.6 L769.1,540.0 L848.2,526.2 L927.3,512.5 L1006.3,498.7 L1009.0,509.3 L929.9,523.1 L850.8,536.9 L771.7,550.6 L692.6,564.3 L613.5,577.9 L534.4,591.5 L455.3,604.9 L376.2,618.4Z" fill="url(#g35)"/>
<path d="M375.4,615.0 L454.5,601.6 L533.6,588.1 L612.7,574.5 L691.8,560.9 L770.9,547.2 L849.9,533.5 L929.0,519.7 L1008.1,505.9 L1010.8,516.5 L931.6,530.4 L852.5,544.2 L773.4,557.9 L694.3,571.6 L615.1,585.2 L536.0,598.7 L456.9,612.2 L377.8,625.6Z" fill="url(#g36)"/>
<path d="M377.0,622.2 L456.1,608.8 L535.2,595.3 L614.4,581.8 L693.5,568.2 L772.6,554.5 L851.7,540.8 L930.8,527.0 L1009.9,513.1 L1012.5,523.7 L933.4,537.6 L854.3,551.5 L775.1,565.2 L696.0,578.9 L616.8,592.5 L537.7,606.0 L458.5,619.4 L379.4,632.8Z" fill="url(#g37)"/>
<path d="M378.6,629.4 L457.8,616.0 L536.9,602.6 L616.0,589.1 L695.2,575.5 L774.3,561.8 L853.4,548.1 L932.6,534.3 L1011.7,520.3 L1014.3,530.9 L935.2,544.9 L856.0,558.7 L776.9,572.5 L697.7,586.2 L618.5,599.8 L539.4,613.3 L460.2,626.6 L381.0,640.0Z" fill="url(#g38)"/>
<path d="M380.3,636.6 L459.4,623.3 L538.6,609.9 L617.7,596.4 L696.9,582.8 L776.0,569.1 L855.2,555.4 L934.4,541.5 L1013.5,527.6 L1016.1,538.2 L937.0,552.1 L857.8,566.0 L778.6,579.8 L699.4,593.5 L620.2,607.0 L541.0,620.5 L461.8,633.9 L382.6,647.1Z" fill="url(#g39)"/>
<path d="M381.9,643.8 L461.1,630.5 L540.2,617.1 L619.4,603.7 L698.6,590.1 L777.8,576.4 L857.0,562.6 L936.1,548.8 L1015.3,534.8 L1017.9,545.4 L938.7,559.4 L859.5,573.3 L780.3,587.1 L701.1,600.8 L621.9,614.3 L542.7,627.8 L463.5,641.1 L384.2,654.3Z" fill="url(#g40)"/>
<path d="M383.5,651.0 L462.7,637.8 L541.9,624.4 L621.1,610.9 L700.3,597.4 L779.5,583.7 L858.7,569.9 L937.9,556.0 L1017.1,542.0 L1019.8,552.6 L940.5,566.7 L861.3,580.6 L782.0,594.4 L702.8,608.1 L623.6,621.6 L544.3,635.0 L465.1,648.4 L385.9,661.5Z" fill="url(#g41)"/>
<path d="M385.1,658.2 L464.3,645.0 L543.6,631.7 L622.8,618.2 L702.0,604.7 L781.2,591.0 L860.5,577.2 L939.7,563.3 L1018.9,549.3 L1021.6,559.9 L942.3,573.9 L863.0,587.9 L783.8,601.7 L704.5,615.3 L625.2,628.9 L546.0,642.3 L466.7,655.6 L387.5,668.7Z" fill="url(#g42)"/>
<path d="M386.7,665.4 L466.0,652.2 L545.2,638.9 L624.5,625.5 L703.7,612.0 L783.0,598.3 L862.2,584.5 L941.5,570.5 L1020.7,556.5 L1023.4,567.1 L944.1,581.2 L864.8,595.1 L785.5,609.0 L706.2,622.6 L626.9,636.2 L547.6,649.6 L468.3,662.8 L389.0,675.9Z" fill="url(#g43)"/>
<path d="M388.3,672.6 L467.6,659.5 L546.9,646.2 L626.1,632.8 L705.4,619.2 L784.7,605.6 L864.0,591.8 L943.2,577.8 L1022.5,563.7 L1025.2,574.3 L945.9,588.4 L866.5,602.4 L787.2,616.3 L707.9,629.9 L628.6,643.5 L549.3,656.8 L470.0,670.1 L390.6,683.1Z" fill="url(#g44)"/>
<path d="M389.9,679.8 L469.2,666.7 L548.5,653.5 L627.8,640.1 L707.1,626.5 L786.4,612.9 L865.7,599.0 L945.0,585.1 L1024.3,570.9 L1027.0,581.5 L947.6,595.7 L868.3,609.7 L789.0,623.5 L709.6,637.2 L630.3,650.7 L550.9,664.1 L471.6,677.3 L392.2,690.3Z" fill="url(#g45)"/>
<path d="M391.5,687.0 L470.8,673.9 L550.2,660.7 L629.5,647.4 L708.8,633.8 L788.1,620.1 L867.5,606.3 L946.8,592.3 L1026.1,578.2 L1028.8,588.8 L949.4,603.0 L870.1,617.0 L790.7,630.8 L711.3,644.5 L631.9,658.0 L552.6,671.4 L473.2,684.5 L393.8,697.5Z" fill="url(#g46)"/>
<path d="M393.1,694.2 L472.4,681.2 L551.8,668.0 L631.2,654.6 L710.5,641.1 L789.9,627.4 L869.2,613.6 L948.6,599.6 L1028.0,585.4 L1030.6,596.0 L951.2,610.2 L871.8,624.3 L792.4,638.1 L713.0,651.8 L633.6,665.3 L554.2,678.6 L474.8,691.8 L395.4,704.7Z" fill="url(#g47)"/>
<path d="M394.6,701.4 L474.0,688.4 L553.4,675.2 L632.8,661.9 L712.2,648.4 L791.6,634.7 L871.0,620.9 L950.4,606.8 L1029.8,592.6 L1032.4,603.2 L953.0,617.5 L873.6,631.5 L794.1,645.4 L714.7,659.1 L635.3,672.6 L555.8,685.9 L476.4,699.0 L397.0,711.9Z" fill="url(#g48)"/>
<path d="M396.2,708.6 L475.6,695.6 L555.1,682.5 L634.5,669.2 L713.9,655.7 L793.3,642.0 L872.7,628.2 L952.2,614.1 L1031.6,599.9 L1034.3,610.5 L954.8,624.7 L875.3,638.8 L795.9,652.7 L716.4,666.4 L636.9,679.9 L557.5,693.2 L478.0,706.2 L398.5,719.1Z" fill="url(#g49)"/>
<path d="M397.8,715.8 L477.2,702.9 L556.7,689.8 L636.2,676.5 L715.6,663.0 L795.1,649.3 L874.5,635.4 L954.0,621.4 L1033.4,607.1 L1036.1,617.7 L956.6,632.0 L877.1,646.1 L797.6,660.0 L718.1,673.7 L638.6,687.2 L559.1,700.4 L479.6,713.5 L400.1,726.3Z" fill="url(#g50)"/>
<path d="M399.4,723.0 L478.8,710.1 L558.3,697.0 L637.8,683.8 L717.3,670.3 L796.8,656.6 L876.3,642.7 L955.7,628.6 L1035.2,614.3 L1037.9,624.9 L958.4,639.3 L878.8,653.4 L799.3,667.3 L719.8,681.0 L640.2,694.4 L560.7,707.7 L481.2,720.7 L401.6,733.5Z" fill="url(#g51)"/>
<path d="M400.9,730.2 L480.4,717.4 L560.0,704.3 L639.5,691.0 L719.0,677.6 L798.5,663.9 L878.0,650.0 L957.5,635.9 L1037.1,621.6 L1039.7,632.1 L960.2,646.5 L880.6,660.7 L801.0,674.6 L721.5,688.3 L641.9,701.7 L562.3,714.9 L482.8,728.0 L403.2,740.7Z" fill="url(#g52)"/>
<path d="M402.5,737.4 L482.0,724.6 L561.6,711.6 L641.1,698.3 L720.7,684.9 L800.2,671.2 L879.8,657.3 L959.3,643.1 L1038.9,628.8 L1041.6,639.4 L962.0,653.8 L882.4,667.9 L802.8,681.9 L723.2,695.5 L643.6,709.0 L564.0,722.2 L484.4,735.2 L404.8,747.9Z" fill="url(#g53)"/>
<path d="M404.0,744.6 L483.6,731.8 L563.2,718.8 L642.8,705.6 L722.4,692.2 L802.0,678.5 L881.5,664.5 L961.1,650.4 L1040.7,636.0 L1043.4,646.6 L963.7,661.0 L884.1,675.2 L804.5,689.1 L724.8,702.8 L645.2,716.3 L565.6,729.5 L485.9,742.4 L406.3,755.1Z" fill="url(#g54)"/>
<path d="M405.6,751.8 L485.2,739.1 L564.8,726.1 L644.4,712.9 L724.1,699.4 L803.7,685.8 L883.3,671.8 L962.9,657.7 L1042.5,643.2 L1045.2,653.8 L965.5,668.3 L885.9,682.5 L806.2,696.4 L726.5,710.1 L646.9,723.6 L567.2,736.7 L487.5,749.7 L407.8,762.3Z" fill="url(#g55)"/>
<path d="M407.1,759.0 L486.8,746.3 L566.4,733.4 L646.1,720.2 L725.7,706.7 L805.4,693.0 L885.1,679.1 L964.7,664.9 L1044.4,650.5 L1047.0,661.1 L967.3,675.6 L887.6,689.8 L807.9,703.7 L728.2,717.4 L648.5,730.8 L568.8,744.0 L489.1,756.9 L409.4,769.5Z" fill="url(#g56)"/>
<path d="M408.7,766.2 L488.4,753.5 L568.0,740.6 L647.7,727.5 L727.4,714.0 L807.1,700.3 L886.8,686.4 L966.5,672.2 L1046.2,657.7 L1048.9,668.3 L969.1,682.8 L889.4,697.1 L809.6,711.0 L729.9,724.7 L650.1,738.1 L570.4,751.3 L490.7,764.1 L410.9,776.7Z" fill="url(#g57)"/>
<path d="M410.2,773.4 L489.9,760.8 L569.7,747.9 L649.4,734.7 L729.1,721.3 L808.8,707.6 L888.6,693.7 L968.3,679.4 L1048.0,664.9 L1050.7,675.5 L970.9,690.1 L891.1,704.3 L811.4,718.3 L731.6,732.0 L651.8,745.4 L572.0,758.5 L492.2,771.4 L412.4,783.9Z" fill="url(#g58)"/>
<path d="M411.7,780.6 L491.5,768.0 L571.3,755.2 L651.0,742.0 L730.8,728.6 L810.6,714.9 L890.3,700.9 L970.1,686.7 L1049.9,672.2 L1052.6,682.8 L972.7,697.3 L892.9,711.6 L813.1,725.6 L733.3,739.3 L653.4,752.7 L573.6,765.8 L493.8,778.6 L414.0,791.1Z" fill="url(#g59)"/>
<path d="M413.2,787.8 L493.1,775.2 L572.9,762.4 L652.7,749.3 L732.5,735.9 L812.3,722.2 L892.1,708.2 L971.9,693.9 L1051.7,679.4 L1054.4,690.0 L974.5,704.6 L894.7,718.9 L814.8,732.9 L734.9,746.6 L655.1,760.0 L575.2,773.1 L495.3,785.8 L415.5,798.3Z" fill="url(#g60)"/>
<path d="M414.8,795.0 L494.6,782.5 L574.5,769.7 L654.3,756.6 L734.2,743.2 L814.0,729.5 L893.9,715.5 L973.7,701.2 L1053.5,686.6 L1056.2,697.2 L976.3,711.8 L896.4,726.2 L816.5,740.2 L736.6,753.9 L656.7,767.3 L576.8,780.3 L496.9,793.1 L417.0,805.5Z" fill="url(#g61)"/>
<path d="M416.3,802.2 L496.2,789.7 L576.1,776.9 L655.9,763.9 L735.8,750.5 L815.7,736.8 L895.6,722.8 L975.5,708.5 L1055.4,693.8 L1058.1,704.4 L978.1,719.1 L898.2,733.4 L818.2,747.5 L738.3,761.2 L658.3,774.5 L578.4,787.6 L498.4,800.3 L418.5,812.7Z" fill="url(#g62)"/>
<path d="M417.8,809.4 L497.7,797.0 L577.7,784.2 L657.6,771.2 L737.5,757.8 L817.4,744.1 L897.4,730.1 L977.3,715.7 L1057.2,701.1 L1059.9,711.7 L979.9,726.4 L900.0,740.7 L820.0,754.8 L740.0,768.5 L660.0,781.8 L580.0,794.9 L500.0,807.6 L420.0,819.9Z" fill="url(#g63)"/>
</g></g></g>
<g clip-path="url(#ax)" fill="none" stroke="#808080" stroke-width="1.3" stroke-linejoin="round">
<path d="M286.8,105.2 L288.6,107.4 L293.6,113.6 L296.0,115.5 L301.6,119.8 L307.2,124.1 L312.1,128.5 L317.1,129.7 L320.2,131.0 L322.0,133.4 L324.5,136.5 L329.5,135.9 L334.4,139.4 L339.4,139.6 L342.5,138.6 L348.0,139.6 L354.2,137.1 L360.4,137.8 L366.6,139.0 L370.3,141.5 L373.4,145.8 L375.9,150.8 L377.1,155.7 L379.0,160.7 L379.6,165.6 L381.7,169.3 L383.3,174.3 L384.0,179.2 L385.8,184.2 L387.0,189.1 L388.3,195.3 L388.7,201.5 L387.0,205.2 L388.9,209.0 L388.3,213.9 L387.0,218.9 L385.8,225.0 L383.3,229.9 L382.1,236.1 L379.6,241.0 L377.1,246.0 L374.0,250.3 L370.3,254.7 L367.2,257.8 L364.8,260.9 L361.7,265.8 L358.0,270.8 L354.9,275.1 L351.8,279.2 L347.4,281.9 L343.1,285.6 L339.4,289.3 L336.3,293.7 L333.2,299.2 L330.1,304.2 L328.2,309.1 L326.4,315.3 L324.5,320.3 L321.4,326.5 L318.3,331.4 L315.2,337.0 L312.1,342.0 L308.4,345.7 L304.7,347.5 L302.9,345.0 L304.1,340.7 L301.0,339.5 L297.9,337.6 L296.7,342.0 L294.8,345.0 L297.9,346.9 L298.8,348.6 L295.0,352.4 L293.1,357.1 L292.1,364.8 L291.8,372.4 L293.7,378.1 L293.1,385.7 L294.0,395.2 L296.0,404.8 L297.9,414.3 L300.7,421.9 L298.8,431.4 L297.5,441.0 L296.3,450.5 L295.6,460.0 L297.5,467.6 L295.0,471.4 L291.2,477.1 L288.3,482.9 L286.4,488.6 L286.0,498.1 L287.4,505.7 L288.3,513.3 L286.4,520.0 L283.6,523.8 L280.7,526.3"/>
<path d="M320.8,133.2 L317.1,135.3 L312.1,137.8 L309.0,140.9 L307.2,145.8 L305.3,150.8 L301.6,155.7 L300.4,160.7 L297.3,165.0 L293.6,168.1 L291.1,168.7 L289.2,172.4 L288.9,175.5 L288.0,180.5 L287.4,185.4 L286.1,190.4 L287.4,194.1 L290.5,197.8 L291.7,201.5 L289.9,205.2 L288.9,209.0 L291.1,211.4 L293.6,212.0 L297.3,210.2 L299.8,213.3 L303.5,212.0 L307.2,210.2 L312.1,206.5 L317.1,202.8 L320.8,199.0 L324.5,197.6 L328.2,198.4 L332.0,201.5 L330.1,204.0 L327.0,206.5 L327.6,210.2 L325.8,213.9 L324.5,215.8 L328.2,216.4 L330.1,220.1 L333.8,223.2 L338.1,221.3 L341.9,217.6 L342.5,215.1 L346.8,211.4 L349.3,210.2 L354.2,209.2 L356.7,208.7 L361.7,209.0 L364.1,206.7 L368.5,205.2 L370.3,202.8 L371.0,199.7 L375.3,197.8 L380.2,197.2 L385.2,199.0 L388.7,201.5"/>
<path d="M288.9,175.5 L291.1,176.8 L296.0,178.6 L301.6,178.6 L306.0,176.1 L308.4,173.7 L310.3,169.3 L314.6,167.5 L319.6,166.2 L323.9,164.4 L325.5,166.2 L324.5,169.3 L321.4,173.0 L319.8,177.4 L318.3,181.7 L321.4,183.0 L324.5,185.4 L329.5,184.2 L333.2,183.0 L336.3,184.2 L338.1,188.5 L341.9,186.7 L343.7,184.2 L344.3,180.5 L343.1,175.5 L344.3,173.0 L348.7,170.6 L351.1,174.3 L355.5,174.9 L361.7,174.3 L366.6,173.7 L372.8,174.9 L377.8,174.5 L382.7,174.5"/>
<path d="M288.9,209.0 L286.1,211.4 L282.4,214.5 L280.0,217.0"/>
<path d="M302.5,194.3 L304.1,192.6 L307.4,192.2 L310.3,194.3 L308.4,195.3 L306.0,194.1 L304.1,195.1 L302.5,194.3"/>
<path d="M280.0,238.6 L286.1,239.2 L290.5,241.0 L293.0,243.5 L294.8,239.8 L296.7,240.4 L297.3,243.5 L300.4,244.1 L301.6,247.9 L303.5,251.6 L304.7,253.4 L309.7,257.1 L315.9,259.6 L322.0,261.5 L328.2,263.3 L333.2,266.4 L336.9,268.9 L339.4,272.0 L344.3,273.9 L348.0,275.7 L349.3,278.2 L351.8,279.2"/>
<path d="M304.7,253.4 L306.0,250.3 L309.7,246.6 L312.8,243.5 L314.0,239.8 L315.9,239.8 L316.5,242.9 L320.8,242.3 L325.8,244.8 L329.5,248.5 L333.2,250.3 L336.9,251.0 L338.1,249.7 L341.9,249.1 L346.2,249.7 L350.5,247.2 L354.2,245.4 L356.1,242.3 L359.2,238.6 L361.7,237.3 L365.4,236.7 L367.9,238.0 L372.8,235.5 L377.8,236.1 L382.1,236.1"/>
<path d="M309.7,257.1 L309.0,260.9 L310.9,265.2 L314.6,268.9 L316.5,272.0 L316.8,275.7 L315.9,280.7 L317.7,284.4 L315.9,287.5 L312.1,288.7 L307.8,288.7 L306.0,291.8 L307.8,295.5 L310.9,299.2 L312.8,303.0 L314.6,305.4 L318.3,307.3 L322.0,308.9 L325.8,308.2 L328.5,307.3"/>
<path d="M280.7,484.8 L286.4,487.6"/>
<circle cx="912.3" cy="207" r="1.6"/>
<circle cx="1118" cy="427" r="1.5"/>
</g>
<g clip-path="url(#ax)" fill="none" stroke="#000" stroke-width="2.43" stroke-dasharray="2.43 2.43">
<path d="M279.6,271.4 L305.3,269.5 L330.9,267.7 L356.4,266.1 L382.0,264.6 L407.5,263.2 L432.9,261.9 L458.3,260.7 L483.7,259.7 L509.1,258.8 L534.4,258.0 L559.8,257.3 L585.1,256.7 L610.3,256.2 L635.6,255.9 L660.9,255.6 L686.2,255.5 L711.4,255.5 L736.7,255.6 L762.0,255.9 L787.3,256.2 L812.5,256.7 L837.9,257.2 L863.2,257.9 L888.5,258.7 L913.9,259.7 L939.3,260.7 L964.7,261.9 L990.1,263.1 L1015.6,264.5 L1041.2,266.1 L1066.7,267.7 L1092.3,269.5 L1117.4,271.3"/>
<path d="M279.7,531.2 L304.0,528.8 L328.2,526.4 L352.4,524.2 L376.6,522.2 L400.7,520.3 L424.8,518.6 L448.9,517.0 L472.9,515.6 L497.0,514.3 L521.0,513.2 L545.0,512.2 L568.9,511.3 L592.9,510.6 L616.8,510.0 L640.8,509.6 L664.7,509.3 L688.7,509.2 L712.6,509.2 L736.5,509.4 L760.4,509.7 L784.4,510.1 L808.3,510.7 L832.3,511.4 L856.3,512.3 L880.3,513.3 L904.3,514.5 L928.3,515.8 L952.3,517.2 L976.4,518.8 L1000.5,520.6 L1024.7,522.5 L1048.8,524.5 L1073.0,526.7 L1097.3,529.0 L1117.3,531.1"/>
<path d="M279.8,792.6 L302.2,789.5 L324.7,786.6 L347.1,783.9 L369.6,781.3 L391.9,778.9 L414.3,776.7 L436.7,774.6 L459.0,772.8 L481.3,771.1 L503.6,769.5 L525.9,768.2 L548.2,766.9 L570.4,765.9 L592.7,765.0 L614.9,764.3 L637.2,763.8 L659.4,763.4 L681.6,763.2 L703.9,763.1 L726.1,763.3 L748.3,763.5 L770.6,764.0 L792.8,764.6 L815.0,765.4 L837.3,766.3 L859.6,767.4 L881.8,768.7 L904.1,770.1 L926.4,771.8 L948.8,773.5 L971.1,775.5 L993.4,777.6 L1015.8,779.9 L1038.2,782.4 L1060.6,785.0 L1083.1,787.8 L1105.6,790.8 L1117.4,792.4"/>
<path d="M280.0,498.1 L282.0,517.4 L284.0,536.6 L286.0,555.9 L288.1,575.2 L290.2,594.4 L292.4,613.7 L294.6,633.0 L296.8,652.2 L299.0,671.5 L301.3,690.8 L303.7,710.1 L306.0,729.4 L308.5,748.7 L310.9,768.0 L313.4,787.4 L315.9,806.7 L318.5,826.1 L321.1,845.5 L323.7,865.0 L326.4,884.4 L329.1,903.9 L331.9,923.4 L334.7,942.9 L335.0,944.9"/>
<path d="M510.2,105.3 L510.7,124.7 L511.2,144.0 L511.8,163.3 L512.4,182.6 L513.0,201.9 L513.6,221.1 L514.2,240.3 L514.8,259.5 L515.5,278.7 L516.1,297.8 L516.8,317.0 L517.5,336.1 L518.2,355.2 L518.9,374.3 L519.6,393.3 L520.4,412.4 L521.2,431.5 L521.9,450.5 L522.7,469.5 L523.5,488.6 L524.3,507.6 L525.2,526.7 L526.0,545.7 L526.9,564.7 L527.8,583.8 L528.7,602.8 L529.6,621.9 L530.5,641.0 L531.4,660.0 L532.4,679.1 L533.4,698.3 L534.4,717.4 L535.4,736.5 L536.4,755.7 L537.4,774.9 L538.5,794.1 L539.5,813.3 L540.6,832.6 L541.7,851.9 L542.9,871.2 L544.0,890.6 L545.1,910.0 L546.3,929.4 L547.3,944.9"/>
<path d="M769.3,105.3 L769.2,124.6 L769.0,143.9 L768.7,163.2 L768.5,182.4 L768.3,201.6 L768.1,220.8 L767.9,240.0 L767.6,259.1 L767.4,278.2 L767.1,297.3 L766.9,316.4 L766.6,335.5 L766.4,354.5 L766.1,373.5 L765.8,392.6 L765.6,411.6 L765.3,430.6 L765.0,449.6 L764.7,468.6 L764.4,487.6 L764.1,506.6 L763.8,525.6 L763.5,544.5 L763.1,563.5 L762.8,582.6 L762.5,601.6 L762.1,620.6 L761.8,639.6 L761.5,658.7 L761.1,677.7 L760.7,696.8 L760.4,715.9 L760.0,735.0 L759.6,754.2 L759.2,773.3 L758.8,792.5 L758.5,811.7 L758.0,831.0 L757.6,850.2 L757.2,869.5 L756.8,888.9 L756.4,908.2 L755.9,927.6 L755.5,944.8"/>
<path d="M1029.7,105.3 L1028.8,124.8 L1027.9,144.3 L1026.9,163.8 L1025.9,183.2 L1024.9,202.6 L1023.8,222.0 L1022.7,241.4 L1021.6,260.7 L1020.5,280.0 L1019.3,299.3 L1018.1,318.5 L1016.9,337.8 L1015.7,357.0 L1014.5,376.2 L1013.2,395.4 L1011.9,414.5 L1010.5,433.7 L1009.2,452.9 L1007.8,472.0 L1006.4,491.2 L1004.9,510.3 L1003.5,529.4 L1002.0,548.6 L1000.5,567.7 L998.9,586.9 L997.4,606.0 L995.8,625.2 L994.2,644.3 L992.5,663.5 L990.8,682.7 L989.1,701.9 L987.4,721.1 L985.7,740.3 L983.9,759.5 L982.1,778.8 L980.2,798.0 L978.3,817.3 L976.4,836.7 L974.5,856.0 L972.5,875.4 L970.6,894.8 L968.5,914.2 L966.5,933.7 L965.3,944.7"/>
</g>
<rect x="280" y="105" width="839" height="840" fill="none" stroke="#000" stroke-width="2.2"/>
<text x="700.40" y="68.10" text-anchor="middle" textLength="417.00" lengthAdjust="spacing">NPP ATMS Brightness Temp Channel 8</text>
<text x="699.80" y="92.00" text-anchor="middle" textLength="320.00" lengthAdjust="spacing">20170921.1509520-1514396</text>
<text x="272.00" y="279.10" text-anchor="end" textLength="52.30" lengthAdjust="spacing">10°S</text>
<text x="272.00" y="539.00" text-anchor="end" textLength="52.30" lengthAdjust="spacing">20°S</text>
<text x="272.00" y="800.20" text-anchor="end" textLength="52.30" lengthAdjust="spacing">30°S</text>
<text x="334.50" y="969.00" text-anchor="middle" textLength="60.00" lengthAdjust="spacing">40°W</text>
<text x="546.70" y="969.00" text-anchor="middle" textLength="60.00" lengthAdjust="spacing">30°W</text>
<text x="755.60" y="969.00" text-anchor="middle" textLength="60.00" lengthAdjust="spacing">20°W</text>
<text x="964.00" y="969.00" text-anchor="middle" textLength="60.00" lengthAdjust="spacing">10°W</text>
<rect x="1134" y="105" width="42" height="630" fill="url(#cb)"/>
<g stroke="#000" stroke-width="1.1">
<line x1="1166.3" y1="734.5" x2="1176.0" y2="734.5"/>
<line x1="1166.3" y1="665.5" x2="1176.0" y2="665.5"/>
<line x1="1166.3" y1="596.5" x2="1176.0" y2="596.5"/>
<line x1="1166.3" y1="527.5" x2="1176.0" y2="527.5"/>
<line x1="1166.3" y1="457.5" x2="1176.0" y2="457.5"/>
<line x1="1166.3" y1="388.5" x2="1176.0" y2="388.5"/>
<line x1="1166.3" y1="319.5" x2="1176.0" y2="319.5"/>
<line x1="1166.3" y1="250.5" x2="1176.0" y2="250.5"/>
<line x1="1166.3" y1="181.5" x2="1176.0" y2="181.5"/>
<line x1="1166.3" y1="112.5" x2="1176.0" y2="112.5"/>
</g>
<rect x="1134" y="105" width="42" height="630" fill="none" stroke="#000" stroke-width="2.2"/>
<text x="1183.90" y="742.90" text-anchor="start" textLength="61.80" lengthAdjust="spacing">212.6</text>
<text x="1183.90" y="673.72" text-anchor="start" textLength="61.80" lengthAdjust="spacing">214.4</text>
<text x="1183.90" y="604.53" text-anchor="start" textLength="61.80" lengthAdjust="spacing">216.2</text>
<text x="1183.90" y="535.35" text-anchor="start" textLength="61.80" lengthAdjust="spacing">218.0</text>
<text x="1183.90" y="466.17" text-anchor="start" textLength="61.80" lengthAdjust="spacing">219.8</text>
<text x="1183.90" y="396.98" text-anchor="start" textLength="61.80" lengthAdjust="spacing">221.6</text>
<text x="1183.90" y="327.80" text-anchor="start" textLength="61.80" lengthAdjust="spacing">223.4</text>
<text x="1183.90" y="258.62" text-anchor="start" textLength="61.80" lengthAdjust="spacing">225.2</text>
<text x="1183.90" y="189.44" text-anchor="start" textLength="61.80" lengthAdjust="spacing">227.0</text>
<text x="1183.90" y="120.25" text-anchor="start" textLength="61.80" lengthAdjust="spacing">228.8</text>
<text transform="translate(1271.5 418.9) rotate(-90)" text-anchor="middle" textLength="217.5" lengthAdjust="spacing">Brightness Temp (K)</text>
<g stroke-linejoin="round">
<path d="M1327.2,914.3 L1329.7,913.5 L1332.2,912.8 L1335.3,911.6 L1338.4,910.4 L1341.7,908.9 L1345.0,907.5 L1347.8,905.9 L1350.7,904.3 L1353.3,902.6 L1355.8,900.9 L1358.3,899.1 L1360.7,897.3 L1363.0,895.4 L1365.3,893.6 L1367.4,891.7 L1369.5,889.8 L1371.3,887.8 L1373.0,885.9 L1374.6,883.9 L1376.2,882.0 L1377.6,880.0 L1378.9,878.0 L1380.0,876.0 L1381.1,874.0 L1381.9,872.1 L1382.7,870.1 L1383.3,868.1 L1383.9,866.1 L1384.3,864.1 L1384.8,862.1 L1385.2,860.1 L1385.5,858.1 L1385.7,856.2 L1385.9,854.2 L1386.0,852.2 L1386.1,850.2 L1386.0,848.2 L1385.9,846.2 L1385.7,844.2 L1385.5,842.3 L1385.2,840.3 L1384.8,838.3 L1384.3,836.3 L1383.9,834.3 L1383.3,832.3 L1382.7,830.3 L1381.9,828.3 L1381.1,826.4 L1380.0,824.4 L1378.9,822.4 L1377.6,820.4 L1376.2,818.4 L1374.6,816.5 L1373.0,814.5 L1371.3,812.6 L1369.5,810.6 L1367.4,808.7 L1365.3,806.8 L1363.0,805.0 L1360.7,803.1 L1358.3,801.3 L1355.8,799.5 L1353.3,797.8 L1350.7,796.1 L1347.8,794.5 L1345.0,792.9 L1341.7,791.5 L1338.4,790.0 L1335.3,788.8 L1332.2,787.6 L1329.7,786.9 L1327.2,786.1 L1193.2,786.1 L1190.7,786.9 L1188.2,787.6 L1185.1,788.8 L1182.0,790.0 L1178.7,791.5 L1175.4,792.9 L1172.6,794.5 L1169.7,796.1 L1167.1,797.8 L1164.6,799.5 L1162.1,801.3 L1159.7,803.1 L1157.4,805.0 L1155.1,806.8 L1153.0,808.7 L1150.9,810.6 L1149.1,812.6 L1147.4,814.5 L1145.8,816.5 L1144.2,818.4 L1142.8,820.4 L1141.5,822.4 L1140.4,824.4 L1139.3,826.4 L1138.5,828.3 L1137.7,830.3 L1137.1,832.3 L1136.5,834.3 L1136.1,836.3 L1135.6,838.3 L1135.2,840.3 L1134.9,842.3 L1134.7,844.2 L1134.5,846.2 L1134.4,848.2 L1134.3,850.2 L1134.4,852.2 L1134.5,854.2 L1134.7,856.2 L1134.9,858.1 L1135.2,860.1 L1135.6,862.1 L1136.1,864.1 L1136.5,866.1 L1137.1,868.1 L1137.7,870.1 L1138.5,872.1 L1139.3,874.0 L1140.4,876.0 L1141.5,878.0 L1142.8,880.0 L1144.2,882.0 L1145.8,883.9 L1147.4,885.9 L1149.1,887.8 L1150.9,889.8 L1153.0,891.7 L1155.1,893.6 L1157.4,895.4 L1159.7,897.3 L1162.1,899.1 L1164.6,900.9 L1167.1,902.6 L1169.7,904.3 L1172.6,905.9 L1175.4,907.5 L1178.7,908.9 L1182.0,910.4 L1185.1,911.6 L1188.2,912.8 L1190.7,913.5 L1193.2,914.3Z" fill="#fff" stroke="#aaa" stroke-width="0.7"/>
<clipPath id="rob"><path d="M1327.2,914.3 L1329.7,913.5 L1332.2,912.8 L1335.3,911.6 L1338.4,910.4 L1341.7,908.9 L1345.0,907.5 L1347.8,905.9 L1350.7,904.3 L1353.3,902.6 L1355.8,900.9 L1358.3,899.1 L1360.7,897.3 L1363.0,895.4 L1365.3,893.6 L1367.4,891.7 L1369.5,889.8 L1371.3,887.8 L1373.0,885.9 L1374.6,883.9 L1376.2,882.0 L1377.6,880.0 L1378.9,878.0 L1380.0,876.0 L1381.1,874.0 L1381.9,872.1 L1382.7,870.1 L1383.3,868.1 L1383.9,866.1 L1384.3,864.1 L1384.8,862.1 L1385.2,860.1 L1385.5,858.1 L1385.7,856.2 L1385.9,854.2 L1386.0,852.2 L1386.1,850.2 L1386.0,848.2 L1385.9,846.2 L1385.7,844.2 L1385.5,842.3 L1385.2,840.3 L1384.8,838.3 L1384.3,836.3 L1383.9,834.3 L1383.3,832.3 L1382.7,830.3 L1381.9,828.3 L1381.1,826.4 L1380.0,824.4 L1378.9,822.4 L1377.6,820.4 L1376.2,818.4 L1374.6,816.5 L1373.0,814.5 L1371.3,812.6 L1369.5,810.6 L1367.4,808.7 L1365.3,806.8 L1363.0,805.0 L1360.7,803.1 L1358.3,801.3 L1355.8,799.5 L1353.3,797.8 L1350.7,796.1 L1347.8,794.5 L1345.0,792.9 L1341.7,791.5 L1338.4,790.0 L1335.3,788.8 L1332.2,787.6 L1329.7,786.9 L1327.2,786.1 L1193.2,786.1 L1190.7,786.9 L1188.2,787.6 L1185.1,788.8 L1182.0,790.0 L1178.7,791.5 L1175.4,792.9 L1172.6,794.5 L1169.7,796.1 L1167.1,797.8 L1164.6,799.5 L1162.1,801.3 L1159.7,803.1 L1157.4,805.0 L1155.1,806.8 L1153.0,808.7 L1150.9,810.6 L1149.1,812.6 L1147.4,814.5 L1145.8,816.5 L1144.2,818.4 L1142.8,820.4 L1141.5,822.4 L1140.4,824.4 L1139.3,826.4 L1138.5,828.3 L1137.7,830.3 L1137.1,832.3 L1136.5,834.3 L1136.1,836.3 L1135.6,838.3 L1135.2,840.3 L1134.9,842.3 L1134.7,844.2 L1134.5,846.2 L1134.4,848.2 L1134.3,850.2 L1134.4,852.2 L1134.5,854.2 L1134.7,856.2 L1134.9,858.1 L1135.2,860.1 L1135.6,862.1 L1136.1,864.1 L1136.5,866.1 L1137.1,868.1 L1137.7,870.1 L1138.5,872.1 L1139.3,874.0 L1140.4,876.0 L1141.5,878.0 L1142.8,880.0 L1144.2,882.0 L1145.8,883.9 L1147.4,885.9 L1149.1,887.8 L1150.9,889.8 L1153.0,891.7 L1155.1,893.6 L1157.4,895.4 L1159.7,897.3 L1162.1,899.1 L1164.6,900.9 L1167.1,902.6 L1169.7,904.3 L1172.6,905.9 L1175.4,907.5 L1178.7,908.9 L1182.0,910.4 L1185.1,911.6 L1188.2,912.8 L1190.7,913.5 L1193.2,914.3Z"/></clipPath>
<g clip-path="url(#rob)" fill="#808080" stroke="#000" stroke-width="0.9">
<path d="M1164.3,807.6 L1169.3,803.6 L1166.4,800.0 L1172.1,797.1 L1182.1,796.1 L1189.3,796.4 L1192.1,794.3 L1202.1,792.9 L1210.7,791.4 L1219.3,790.0 L1225.0,790.7 L1223.6,795.0 L1219.3,796.4 L1216.4,800.0 L1210.7,800.7 L1207.1,804.3 L1210.7,807.1 L1215.0,808.6 L1217.9,805.0 L1219.3,800.7 L1223.6,803.6 L1225.0,807.9 L1227.1,812.9 L1223.6,813.6 L1219.3,815.7 L1215.0,817.9 L1210.7,820.7 L1207.1,822.9 L1204.3,826.4 L1205.0,830.0 L1202.9,828.6 L1199.3,827.9 L1195.0,829.3 L1193.6,832.1 L1196.4,835.7 L1200.7,836.4 L1199.3,839.3 L1202.1,842.9 L1204.3,844.3 L1202.9,845.3 L1199.3,841.4 L1195.7,837.9 L1192.1,836.4 L1187.9,832.9 L1185.0,829.3 L1182.1,823.6 L1180.0,819.3 L1181.4,813.6 L1183.6,807.9 L1180.7,804.3 L1175.0,803.6 L1169.3,805.7Z"/>
<path d="M1231.4,790.7 L1239.3,789.3 L1247.9,788.6 L1254.3,789.3 L1250.7,793.6 L1247.9,797.1 L1242.1,799.3 L1237.9,802.1 L1234.3,802.9 L1232.1,798.6Z"/>
<path d="M1202.9,845.0 L1206.4,842.1 L1210.7,841.4 L1216.4,843.6 L1222.1,846.4 L1227.9,850.7 L1233.6,853.6 L1235.7,856.4 L1235.0,860.7 L1232.1,866.4 L1230.0,869.3 L1227.9,873.6 L1225.0,875.0 L1223.6,879.3 L1222.1,883.6 L1219.3,887.9 L1220.7,892.1 L1222.1,893.6 L1217.9,892.9 L1215.0,889.3 L1212.9,883.6 L1211.4,877.9 L1210.7,872.1 L1207.9,866.4 L1204.3,860.7 L1202.9,855.0 L1203.6,849.3Z"/>
<path d="M1179.3,909.3 L1186.4,908.6 L1193.6,907.1 L1199.3,905.7 L1205.0,905.3 L1210.7,906.1 L1216.4,905.7 L1222.1,904.3 L1225.0,902.1 L1227.9,899.3 L1230.0,902.9 L1232.1,906.4 L1237.9,908.6 L1245.0,908.6 L1250.7,906.4 L1256.4,904.3 L1259.3,903.6 L1269.3,904.3 L1277.9,903.6 L1286.4,901.4 L1292.1,902.1 L1297.9,903.6 L1303.6,902.1 L1312.1,901.4 L1320.7,901.9 L1329.3,901.4 L1335.0,902.1 L1340.7,904.3 L1344.3,905.3 L1339.3,907.1 L1335.0,910.0 L1332.1,912.1 L1328.6,913.9 L1192.1,913.9 L1186.4,911.9Z"/>
<path d="M1253.6,824.3 L1259.3,822.9 L1263.6,822.1 L1269.3,824.3 L1273.6,825.7 L1277.9,825.0 L1282.9,825.7 L1284.3,829.3 L1287.1,835.0 L1290.0,840.0 L1292.9,842.1 L1295.7,841.4 L1293.6,846.4 L1290.7,852.1 L1288.6,857.9 L1287.6,862.1 L1285.7,866.4 L1283.6,870.7 L1280.7,875.0 L1277.9,877.1 L1273.6,877.6 L1271.4,873.6 L1270.0,867.9 L1269.3,862.1 L1267.9,856.4 L1266.4,850.7 L1264.3,847.1 L1259.3,846.4 L1254.3,845.7 L1250.7,842.9 L1248.6,839.3 L1248.1,835.0 L1250.0,830.7 L1252.9,827.1Z"/>
<path d="M1292.9,860.7 L1294.7,860.0 L1294.3,865.0 L1292.1,870.0 L1290.0,870.0 L1289.3,866.4 L1291.4,862.9Z"/>
<path d="M1254.3,816.4 L1253.3,810.7 L1257.1,809.3 L1259.3,807.1 L1257.9,805.0 L1262.1,803.6 L1263.6,801.4 L1262.1,798.6 L1265.0,795.0 L1270.7,792.1 L1276.4,793.6 L1280.7,796.4 L1283.6,797.9 L1287.9,795.0 L1293.6,794.3 L1297.9,796.4 L1302.1,792.1 L1307.9,790.0 L1313.6,791.4 L1319.3,793.6 L1323.6,792.9 L1329.3,795.0 L1335.0,795.7 L1342.1,796.4 L1349.3,796.4 L1355.0,799.3 L1357.1,801.4 L1353.6,802.9 L1355.0,807.9 L1352.1,809.3 L1350.7,804.3 L1346.4,805.0 L1342.1,804.3 L1340.7,807.1 L1342.9,810.7 L1345.0,813.6 L1343.6,817.9 L1340.7,822.1 L1341.4,827.9 L1338.6,832.1 L1335.0,835.0 L1332.9,839.3 L1333.6,842.9 L1331.4,840.7 L1329.3,839.3 L1327.9,842.1 L1329.3,845.7 L1331.4,850.7 L1333.6,854.3 L1332.1,855.0 L1329.3,851.4 L1327.1,847.1 L1325.7,842.1 L1323.6,836.4 L1320.7,832.1 L1319.3,835.0 L1317.1,840.7 L1316.1,845.0 L1314.3,842.1 L1312.1,836.4 L1310.0,832.1 L1307.1,831.4 L1304.3,830.0 L1300.7,832.1 L1299.3,835.0 L1295.7,838.6 L1292.4,839.6 L1290.0,835.7 L1287.1,830.7 L1285.3,827.1 L1283.6,825.0 L1282.9,822.1 L1285.7,820.7 L1285.0,817.9 L1279.3,817.9 L1277.9,820.7 L1275.0,822.1 L1272.1,820.0 L1270.0,816.4 L1267.9,815.0 L1265.7,817.9 L1263.6,815.7 L1260.7,815.0 L1259.3,817.1 L1256.4,817.9Z"/>
<path d="M1254.3,804.3 L1256.1,802.9 L1257.1,805.7 L1255.7,807.6 L1253.9,807.1Z"/>
<path d="M1349.3,815.0 L1352.1,816.4 L1351.4,820.7 L1348.6,824.3 L1346.4,825.0 L1347.9,821.4 L1348.6,817.9Z"/>
<path d="M1326.4,846.4 L1329.3,849.3 L1332.9,854.3 L1335.7,857.1 L1334.3,857.9 L1330.7,855.0 L1327.9,850.7Z"/>
<path d="M1337.1,848.6 L1340.7,845.7 L1343.6,847.9 L1342.1,852.9 L1338.6,853.6Z"/>
<path d="M1336.4,857.9 L1342.1,858.6 L1347.9,859.3 L1347.6,860.3 L1340.7,860.0Z"/>
<path d="M1344.3,849.3 L1347.1,848.6 L1346.4,852.9 L1345.0,853.6Z"/>
<path d="M1352.1,851.4 L1357.9,852.1 L1363.6,855.0 L1366.4,857.1 L1362.1,857.6 L1357.1,855.7 L1352.9,853.6Z"/>
<path d="M1343.6,836.4 L1345.7,837.9 L1347.1,843.6 L1345.7,845.0 L1344.3,840.7Z"/>
<path d="M1337.1,869.3 L1340.7,866.4 L1346.4,862.1 L1350.7,860.0 L1353.6,861.4 L1355.7,863.6 L1358.6,859.3 L1360.7,863.6 L1363.6,868.6 L1362.9,873.6 L1360.0,877.9 L1356.4,881.4 L1353.6,882.9 L1351.4,880.0 L1350.0,876.4 L1346.4,875.0 L1340.7,877.1 L1336.7,877.9Z"/>
<path d="M1364.3,886.4 L1369.3,883.6 L1374.3,880.0 L1375.7,880.7 L1370.7,884.7 L1365.0,887.9Z"/>
<path d="M1372.9,878.6 L1375.0,877.1 L1376.1,880.0 L1374.7,881.0Z"/>
<path d="M1247.1,799.6 L1252.1,799.3 L1252.4,800.7 L1247.9,801.0Z"/>
<path d="M1265.0,790.0 L1271.4,790.0 L1269.3,792.1 L1266.4,791.9Z"/>
<path d="M1285.7,792.9 L1291.4,792.1 L1290.7,793.6 L1286.4,794.3Z"/>
<path d="M1352.1,882.9 L1354.3,882.9 L1353.6,884.7 L1352.4,884.3Z"/>
</g>
<g clip-path="url(#rob)" fill="#fff" stroke="#000" stroke-width="0.5">
<path d="M1206.4,803.6 L1209.3,801.4 L1212.9,800.4 L1216.4,801.9 L1218.6,804.3 L1217.1,807.1 L1214.3,809.3 L1211.4,808.1 L1208.6,806.7Z"/>
<path d="M1260.7,817.1 L1265.0,817.9 L1269.3,819.3 L1270.7,820.7 L1267.9,820.4 L1263.6,819.6 L1261.0,819.0Z"/>
<path d="M1271.4,821.4 L1276.4,822.9 L1282.9,823.6 L1282.9,825.0 L1277.9,824.7 L1273.6,825.0 L1271.0,823.3Z"/>
<path d="M1278.6,814.3 L1283.6,813.6 L1285.7,815.7 L1283.6,817.6 L1279.6,817.1Z"/>
<path d="M1290.0,813.6 L1292.1,814.3 L1293.6,817.9 L1294.3,820.7 L1292.4,820.4 L1290.7,817.1Z"/>
<path d="M1284.3,827.1 L1285.3,826.7 L1288.6,834.3 L1290.0,837.9 L1289.0,838.1 L1286.7,832.9Z"/>
<path d="M1292.4,825.0 L1294.3,825.7 L1297.1,830.0 L1296.4,831.0 L1293.9,828.1Z"/>
</g>
<g clip-path="url(#rob)" fill="none" stroke="#000" stroke-width="0.9" stroke-linecap="round">
<path d="M1204.0,816.4 L1209.0,814.4 L1214.0,813.6 L1220.0,812.4 L1225.0,811.0 L1227.0,813.0"/>
<path d="M1203.0,815.0 L1206.0,813.0 L1208.0,811.0"/>
<path d="M1209.0,852.4 L1214.0,851.6 L1220.0,852.0 L1226.0,851.0 L1229.0,851.6"/>
<path d="M1212.0,849.0 L1216.0,848.0 L1220.0,849.0"/>
<path d="M1250.0,839.0 L1253.0,841.0 L1258.0,838.0 L1261.0,840.0"/>
<path d="M1274.0,850.0 L1278.0,852.0 L1280.0,856.0 L1283.0,858.0 L1284.4,864.0"/>
<path d="M1268.0,848.0 L1271.0,850.0 L1272.0,854.0"/>
<path d="M1196.0,798.0 L1200.0,795.0 L1205.0,796.0 L1208.0,793.0 L1213.0,794.0 L1216.0,791.0 L1221.0,792.0"/>
<path d="M1199.0,800.0 L1204.0,799.0 L1209.0,798.0 L1214.0,797.0 L1220.0,795.6 L1224.0,793.6"/>
<path d="M1202.0,803.0 L1206.0,801.6"/>
<path d="M1220.0,810.0 L1223.0,808.0 L1225.0,810.0"/>
<path d="M1258.0,809.0 L1260.0,806.0 L1263.0,804.0 L1265.0,801.0"/>
<path d="M1267.0,800.0 L1270.0,798.0 L1274.0,797.0 L1278.0,796.0"/>
<path d="M1284.0,806.0 L1288.0,807.0 L1292.0,806.0"/>
<path d="M1306.0,813.0 L1309.0,814.0 L1312.0,813.0"/>
<path d="M1322.0,802.0 L1326.0,803.0 L1330.0,802.0 L1334.0,804.0"/>
<path d="M1296.0,795.0 L1300.0,796.0 L1303.0,794.0 L1307.0,795.6"/>
<path d="M1340.0,810.0 L1342.0,813.0 L1341.0,817.0"/>
<path d="M1334.0,830.0 L1337.0,832.0 L1339.0,836.0"/>
<path d="M1184.0,828.0 L1186.0,830.0"/>
<path d="M1214.0,874.0 L1216.0,878.0 L1218.0,882.0"/>
<path d="M1152.6,834.6 L1153.2,835.2"/>
</g>
<path d="M1234.3,860.7 L1250.7,857.9 L1254.7,872.1 L1236.9,875.4Z" fill="#f00"/>
<path d="M1327.2,914.3 L1329.7,913.5 L1332.2,912.8 L1335.3,911.6 L1338.4,910.4 L1341.7,908.9 L1345.0,907.5 L1347.8,905.9 L1350.7,904.3 L1353.3,902.6 L1355.8,900.9 L1358.3,899.1 L1360.7,897.3 L1363.0,895.4 L1365.3,893.6 L1367.4,891.7 L1369.5,889.8 L1371.3,887.8 L1373.0,885.9 L1374.6,883.9 L1376.2,882.0 L1377.6,880.0 L1378.9,878.0 L1380.0,876.0 L1381.1,874.0 L1381.9,872.1 L1382.7,870.1 L1383.3,868.1 L1383.9,866.1 L1384.3,864.1 L1384.8,862.1 L1385.2,860.1 L1385.5,858.1 L1385.7,856.2 L1385.9,854.2 L1386.0,852.2 L1386.1,850.2 L1386.0,848.2 L1385.9,846.2 L1385.7,844.2 L1385.5,842.3 L1385.2,840.3 L1384.8,838.3 L1384.3,836.3 L1383.9,834.3 L1383.3,832.3 L1382.7,830.3 L1381.9,828.3 L1381.1,826.4 L1380.0,824.4 L1378.9,822.4 L1377.6,820.4 L1376.2,818.4 L1374.6,816.5 L1373.0,814.5 L1371.3,812.6 L1369.5,810.6 L1367.4,808.7 L1365.3,806.8 L1363.0,805.0 L1360.7,803.1 L1358.3,801.3 L1355.8,799.5 L1353.3,797.8 L1350.7,796.1 L1347.8,794.5 L1345.0,792.9 L1341.7,791.5 L1338.4,790.0 L1335.3,788.8 L1332.2,787.6 L1329.7,786.9 L1327.2,786.1 L1193.2,786.1 L1190.7,786.9 L1188.2,787.6 L1185.1,788.8 L1182.0,790.0 L1178.7,791.5 L1175.4,792.9 L1172.6,794.5 L1169.7,796.1 L1167.1,797.8 L1164.6,799.5 L1162.1,801.3 L1159.7,803.1 L1157.4,805.0 L1155.1,806.8 L1153.0,808.7 L1150.9,810.6 L1149.1,812.6 L1147.4,814.5 L1145.8,816.5 L1144.2,818.4 L1142.8,820.4 L1141.5,822.4 L1140.4,824.4 L1139.3,826.4 L1138.5,828.3 L1137.7,830.3 L1137.1,832.3 L1136.5,834.3 L1136.1,836.3 L1135.6,838.3 L1135.2,840.3 L1134.9,842.3 L1134.7,844.2 L1134.5,846.2 L1134.4,848.2 L1134.3,850.2 L1134.4,852.2 L1134.5,854.2 L1134.7,856.2 L1134.9,858.1 L1135.2,860.1 L1135.6,862.1 L1136.1,864.1 L1136.5,866.1 L1137.1,868.1 L1137.7,870.1 L1138.5,872.1 L1139.3,874.0 L1140.4,876.0 L1141.5,878.0 L1142.8,880.0 L1144.2,882.0 L1145.8,883.9 L1147.4,885.9 L1149.1,887.8 L1150.9,889.8 L1153.0,891.7 L1155.1,893.6 L1157.4,895.4 L1159.7,897.3 L1162.1,899.1 L1164.6,900.9 L1167.1,902.6 L1169.7,904.3 L1172.6,905.9 L1175.4,907.5 L1178.7,908.9 L1182.0,910.4 L1185.1,911.6 L1188.2,912.8 L1190.7,913.5 L1193.2,914.3Z" fill="none" stroke="#aaa" stroke-width="0.7"/>
</g>
</svg></body></html>
